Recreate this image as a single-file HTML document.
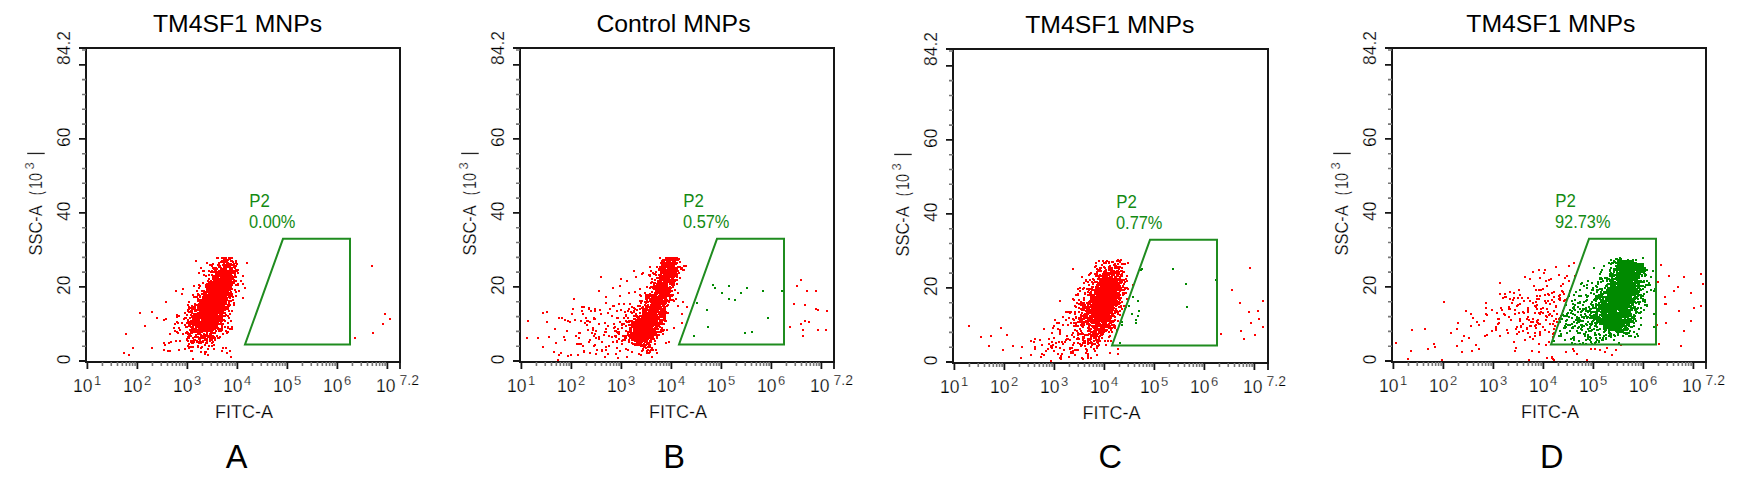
<!DOCTYPE html>
<html><head><meta charset="utf-8"><style>
html,body{margin:0;padding:0;background:#fff;}
body{width:1764px;height:496px;overflow:hidden;}
svg{display:block;font-family:"Liberation Sans", sans-serif;}
.sm text{stroke:#fff;stroke-width:0.25;}
</style></head><body>
<svg width="1764" height="496" viewBox="0 0 1764 496" fill="#000">
<rect x="86" y="48" width="314" height="314" fill="none" stroke="#161616" stroke-width="2"/>
<path d="M79 361.00H86M79 286.97H86M79 212.93H86M79 138.90H86M79 64.86H86M79 48H86M87.40 362V369M137.40 362V369M187.40 362V369M237.40 362V369M287.40 362V369M337.40 362V369M387.40 362V369M400 362V369" stroke="#161616" stroke-width="1.8" fill="none"/>
<path d="M82 346.19H86M82 331.39H86M82 316.58H86M82 301.77H86M82 272.16H86M82 257.35H86M82 242.55H86M82 227.74H86M82 198.13H86M82 183.32H86M82 168.51H86M82 153.70H86M82 124.09H86M82 109.28H86M82 94.48H86M82 79.67H86M82 50.06H86M102.45 362V366M111.26 362V366M117.50 362V366M122.35 362V366M126.31 362V366M129.65 362V366M132.55 362V366M135.11 362V366M152.45 362V366M161.26 362V366M167.50 362V366M172.35 362V366M176.31 362V366M179.65 362V366M182.55 362V366M185.11 362V366M202.45 362V366M211.26 362V366M217.50 362V366M222.35 362V366M226.31 362V366M229.65 362V366M232.55 362V366M235.11 362V366M252.45 362V366M261.26 362V366M267.50 362V366M272.35 362V366M276.31 362V366M279.65 362V366M282.55 362V366M285.11 362V366M302.45 362V366M311.26 362V366M317.50 362V366M322.35 362V366M326.31 362V366M329.65 362V366M332.55 362V366M335.11 362V366M352.45 362V366M361.26 362V366M367.50 362V366M372.35 362V366M376.31 362V366M379.65 362V366M382.55 362V366M385.11 362V366" stroke="#777" stroke-width="1.6" fill="none"/>
<g class="sm"><text x="73.10" y="392" font-size="17.5">10</text><text x="94.00" y="385.3" font-size="13">1</text>
<text x="123.10" y="392" font-size="17.5">10</text><text x="144.00" y="385.3" font-size="13">2</text>
<text x="173.10" y="392" font-size="17.5">10</text><text x="194.00" y="385.3" font-size="13">3</text>
<text x="223.10" y="392" font-size="17.5">10</text><text x="244.00" y="385.3" font-size="13">4</text>
<text x="273.10" y="392" font-size="17.5">10</text><text x="294.00" y="385.3" font-size="13">5</text>
<text x="323.10" y="392" font-size="17.5">10</text><text x="344.00" y="385.3" font-size="13">6</text>
<text x="376.10" y="392" font-size="17.5">10</text><text x="399.50" y="385.3" font-size="14">7.2</text></g>
<g class="sm"><text transform="translate(70,359.30) rotate(-90)" text-anchor="middle" font-size="17.5">0</text>
<text transform="translate(70,285.27) rotate(-90)" text-anchor="middle" font-size="17.5">20</text>
<text transform="translate(70,211.23) rotate(-90)" text-anchor="middle" font-size="17.5">40</text>
<text transform="translate(70,137.20) rotate(-90)" text-anchor="middle" font-size="17.5">60</text>
<text transform="translate(70,48.00) rotate(-90)" text-anchor="middle" font-size="17.5">84.2</text></g>
<g class="sm"><text x="244.0" y="418.2" text-anchor="middle" font-size="18">FITC-A</text></g>
<g class="sm" transform="translate(41.5,255.4) rotate(-90)"><text x="0" y="0" font-size="18" textLength="50" lengthAdjust="spacingAndGlyphs">SSC-A</text><text x="60.5" y="0" font-size="18" textLength="3.5" lengthAdjust="spacingAndGlyphs">(</text><text x="66.5" y="0" font-size="18" textLength="16" lengthAdjust="spacingAndGlyphs">10</text><text x="86" y="-7.3" font-size="13">3</text><rect x="101.3" y="-14.3" width="1.3" height="17.5" fill="#222"/></g>
<text x="237.5" y="32" text-anchor="middle" font-size="24.75">TM4SF1 MNPs</text>
<text x="236.6" y="467.5" text-anchor="middle" font-size="32.5">A</text>
<path d="M216 257h2v2h-2zM217 257h2v2h-2zM221 257h2v2h-2zM223 257h2v2h-2zM225 257h2v2h-2zM228 257h2v2h-2zM229 257h2v2h-2zM231 257h2v2h-2zM223 258h2v2h-2zM229 258h2v2h-2zM223 259h2v2h-2zM224 259h2v2h-2zM226 259h2v2h-2zM227 259h2v2h-2zM195 260h2v2h-2zM221 260h2v2h-2zM230 260h2v2h-2zM231 260h2v2h-2zM235 260h2v2h-2zM220 261h2v2h-2zM221 261h2v2h-2zM223 261h2v2h-2zM225 261h2v2h-2zM226 261h2v2h-2zM232 261h2v2h-2zM206 262h2v2h-2zM218 262h2v2h-2zM226 262h2v2h-2zM227 262h2v2h-2zM235 262h2v2h-2zM246 262h2v2h-2zM212 263h2v2h-2zM218 263h2v2h-2zM223 263h2v2h-2zM228 263h2v2h-2zM230 263h2v2h-2zM233 263h2v2h-2zM236 263h2v2h-2zM209 264h2v2h-2zM211 264h2v2h-2zM217 264h2v2h-2zM222 264h2v2h-2zM223 264h2v2h-2zM225 264h2v2h-2zM226 264h2v2h-2zM227 264h2v2h-2zM228 264h2v2h-2zM229 264h2v2h-2zM231 264h2v2h-2zM211 265h2v2h-2zM219 265h2v2h-2zM224 265h2v2h-2zM225 265h2v2h-2zM226 265h2v2h-2zM227 265h2v2h-2zM229 265h2v2h-2zM233 265h2v2h-2zM234 265h2v2h-2zM235 265h2v2h-2zM371 265h2v2h-2zM218 266h2v2h-2zM223 266h2v2h-2zM226 266h2v2h-2zM227 266h2v2h-2zM228 266h2v2h-2zM229 266h2v2h-2zM233 266h2v2h-2zM200 267h2v2h-2zM212 267h2v2h-2zM214 267h2v2h-2zM215 267h2v2h-2zM220 267h2v2h-2zM223 267h2v2h-2zM224 267h2v2h-2zM230 267h2v2h-2zM231 267h2v2h-2zM234 267h2v2h-2zM213 268h2v2h-2zM215 268h2v2h-2zM216 268h2v2h-2zM221 268h2v2h-2zM222 268h2v2h-2zM223 268h2v2h-2zM225 268h2v2h-2zM229 268h2v2h-2zM230 268h2v2h-2zM231 268h2v2h-2zM220 269h2v2h-2zM221 269h2v2h-2zM222 269h2v2h-2zM223 269h2v2h-2zM224 269h2v2h-2zM225 269h2v2h-2zM229 269h2v2h-2zM230 269h2v2h-2zM231 269h2v2h-2zM235 269h2v2h-2zM237 269h2v2h-2zM202 270h2v2h-2zM203 270h2v2h-2zM208 270h2v2h-2zM211 270h2v2h-2zM214 270h2v2h-2zM215 270h2v2h-2zM218 270h2v2h-2zM220 270h2v2h-2zM221 270h2v2h-2zM223 270h2v2h-2zM224 270h2v2h-2zM225 270h2v2h-2zM226 270h2v2h-2zM227 270h2v2h-2zM229 270h2v2h-2zM230 270h2v2h-2zM233 270h2v2h-2zM235 270h2v2h-2zM236 270h2v2h-2zM210 271h2v2h-2zM212 271h2v2h-2zM213 271h2v2h-2zM214 271h2v2h-2zM216 271h2v2h-2zM217 271h2v2h-2zM219 271h2v2h-2zM220 271h2v2h-2zM221 271h2v2h-2zM222 271h2v2h-2zM223 271h2v2h-2zM224 271h2v2h-2zM225 271h2v2h-2zM226 271h2v2h-2zM227 271h2v2h-2zM229 271h2v2h-2zM232 271h2v2h-2zM233 271h2v2h-2zM198 272h2v2h-2zM216 272h2v2h-2zM217 272h2v2h-2zM221 272h2v2h-2zM223 272h2v2h-2zM224 272h2v2h-2zM225 272h2v2h-2zM226 272h2v2h-2zM228 272h2v2h-2zM229 272h2v2h-2zM230 272h2v2h-2zM232 272h2v2h-2zM234 272h2v2h-2zM237 272h2v2h-2zM215 273h2v2h-2zM217 273h2v2h-2zM218 273h2v2h-2zM219 273h2v2h-2zM220 273h2v2h-2zM221 273h2v2h-2zM222 273h2v2h-2zM223 273h2v2h-2zM224 273h2v2h-2zM226 273h2v2h-2zM227 273h2v2h-2zM228 273h2v2h-2zM229 273h2v2h-2zM230 273h2v2h-2zM234 273h2v2h-2zM203 274h2v2h-2zM208 274h2v2h-2zM211 274h2v2h-2zM217 274h2v2h-2zM218 274h2v2h-2zM219 274h2v2h-2zM221 274h2v2h-2zM222 274h2v2h-2zM223 274h2v2h-2zM225 274h2v2h-2zM226 274h2v2h-2zM229 274h2v2h-2zM230 274h2v2h-2zM205 275h2v2h-2zM212 275h2v2h-2zM214 275h2v2h-2zM216 275h2v2h-2zM217 275h2v2h-2zM218 275h2v2h-2zM219 275h2v2h-2zM220 275h2v2h-2zM221 275h2v2h-2zM222 275h2v2h-2zM223 275h2v2h-2zM224 275h2v2h-2zM226 275h2v2h-2zM227 275h2v2h-2zM230 275h2v2h-2zM231 275h2v2h-2zM234 275h2v2h-2zM242 275h2v2h-2zM212 276h2v2h-2zM213 276h2v2h-2zM216 276h2v2h-2zM217 276h2v2h-2zM220 276h2v2h-2zM221 276h2v2h-2zM222 276h2v2h-2zM227 276h2v2h-2zM228 276h2v2h-2zM230 276h2v2h-2zM233 276h2v2h-2zM235 276h2v2h-2zM213 277h2v2h-2zM214 277h2v2h-2zM215 277h2v2h-2zM220 277h2v2h-2zM222 277h2v2h-2zM223 277h2v2h-2zM224 277h2v2h-2zM226 277h2v2h-2zM227 277h2v2h-2zM228 277h2v2h-2zM231 277h2v2h-2zM232 277h2v2h-2zM208 278h2v2h-2zM212 278h2v2h-2zM214 278h2v2h-2zM215 278h2v2h-2zM216 278h2v2h-2zM218 278h2v2h-2zM219 278h2v2h-2zM221 278h2v2h-2zM222 278h2v2h-2zM224 278h2v2h-2zM225 278h2v2h-2zM226 278h2v2h-2zM228 278h2v2h-2zM229 278h2v2h-2zM231 278h2v2h-2zM216 279h2v2h-2zM217 279h2v2h-2zM218 279h2v2h-2zM219 279h2v2h-2zM220 279h2v2h-2zM221 279h2v2h-2zM222 279h2v2h-2zM223 279h2v2h-2zM226 279h2v2h-2zM228 279h2v2h-2zM229 279h2v2h-2zM230 279h2v2h-2zM233 279h2v2h-2zM207 280h2v2h-2zM210 280h2v2h-2zM213 280h2v2h-2zM215 280h2v2h-2zM216 280h2v2h-2zM218 280h2v2h-2zM219 280h2v2h-2zM220 280h2v2h-2zM222 280h2v2h-2zM223 280h2v2h-2zM224 280h2v2h-2zM225 280h2v2h-2zM227 280h2v2h-2zM234 280h2v2h-2zM235 280h2v2h-2zM240 280h2v2h-2zM209 281h2v2h-2zM210 281h2v2h-2zM211 281h2v2h-2zM212 281h2v2h-2zM214 281h2v2h-2zM215 281h2v2h-2zM216 281h2v2h-2zM217 281h2v2h-2zM218 281h2v2h-2zM219 281h2v2h-2zM222 281h2v2h-2zM223 281h2v2h-2zM224 281h2v2h-2zM225 281h2v2h-2zM226 281h2v2h-2zM227 281h2v2h-2zM229 281h2v2h-2zM230 281h2v2h-2zM232 281h2v2h-2zM202 282h2v2h-2zM208 282h2v2h-2zM209 282h2v2h-2zM210 282h2v2h-2zM211 282h2v2h-2zM213 282h2v2h-2zM214 282h2v2h-2zM215 282h2v2h-2zM217 282h2v2h-2zM218 282h2v2h-2zM219 282h2v2h-2zM220 282h2v2h-2zM221 282h2v2h-2zM222 282h2v2h-2zM225 282h2v2h-2zM227 282h2v2h-2zM230 282h2v2h-2zM232 282h2v2h-2zM233 282h2v2h-2zM206 283h2v2h-2zM215 283h2v2h-2zM216 283h2v2h-2zM217 283h2v2h-2zM219 283h2v2h-2zM221 283h2v2h-2zM222 283h2v2h-2zM223 283h2v2h-2zM224 283h2v2h-2zM225 283h2v2h-2zM226 283h2v2h-2zM227 283h2v2h-2zM228 283h2v2h-2zM229 283h2v2h-2zM237 283h2v2h-2zM242 283h2v2h-2zM198 284h2v2h-2zM205 284h2v2h-2zM207 284h2v2h-2zM209 284h2v2h-2zM210 284h2v2h-2zM212 284h2v2h-2zM214 284h2v2h-2zM216 284h2v2h-2zM217 284h2v2h-2zM218 284h2v2h-2zM219 284h2v2h-2zM220 284h2v2h-2zM221 284h2v2h-2zM222 284h2v2h-2zM223 284h2v2h-2zM224 284h2v2h-2zM225 284h2v2h-2zM226 284h2v2h-2zM227 284h2v2h-2zM228 284h2v2h-2zM229 284h2v2h-2zM231 284h2v2h-2zM235 284h2v2h-2zM237 284h2v2h-2zM193 285h2v2h-2zM199 285h2v2h-2zM208 285h2v2h-2zM211 285h2v2h-2zM212 285h2v2h-2zM213 285h2v2h-2zM214 285h2v2h-2zM215 285h2v2h-2zM216 285h2v2h-2zM217 285h2v2h-2zM218 285h2v2h-2zM219 285h2v2h-2zM220 285h2v2h-2zM221 285h2v2h-2zM222 285h2v2h-2zM223 285h2v2h-2zM225 285h2v2h-2zM226 285h2v2h-2zM227 285h2v2h-2zM228 285h2v2h-2zM229 285h2v2h-2zM205 286h2v2h-2zM207 286h2v2h-2zM208 286h2v2h-2zM209 286h2v2h-2zM212 286h2v2h-2zM213 286h2v2h-2zM214 286h2v2h-2zM215 286h2v2h-2zM216 286h2v2h-2zM217 286h2v2h-2zM218 286h2v2h-2zM219 286h2v2h-2zM220 286h2v2h-2zM221 286h2v2h-2zM222 286h2v2h-2zM223 286h2v2h-2zM224 286h2v2h-2zM225 286h2v2h-2zM227 286h2v2h-2zM230 286h2v2h-2zM198 287h2v2h-2zM208 287h2v2h-2zM209 287h2v2h-2zM210 287h2v2h-2zM211 287h2v2h-2zM212 287h2v2h-2zM213 287h2v2h-2zM214 287h2v2h-2zM215 287h2v2h-2zM216 287h2v2h-2zM217 287h2v2h-2zM218 287h2v2h-2zM220 287h2v2h-2zM221 287h2v2h-2zM222 287h2v2h-2zM223 287h2v2h-2zM224 287h2v2h-2zM226 287h2v2h-2zM227 287h2v2h-2zM228 287h2v2h-2zM230 287h2v2h-2zM244 287h2v2h-2zM182 288h2v2h-2zM206 288h2v2h-2zM207 288h2v2h-2zM210 288h2v2h-2zM211 288h2v2h-2zM212 288h2v2h-2zM214 288h2v2h-2zM215 288h2v2h-2zM216 288h2v2h-2zM217 288h2v2h-2zM218 288h2v2h-2zM219 288h2v2h-2zM220 288h2v2h-2zM221 288h2v2h-2zM222 288h2v2h-2zM224 288h2v2h-2zM225 288h2v2h-2zM226 288h2v2h-2zM227 288h2v2h-2zM229 288h2v2h-2zM231 288h2v2h-2zM206 289h2v2h-2zM208 289h2v2h-2zM209 289h2v2h-2zM210 289h2v2h-2zM211 289h2v2h-2zM212 289h2v2h-2zM214 289h2v2h-2zM215 289h2v2h-2zM216 289h2v2h-2zM217 289h2v2h-2zM218 289h2v2h-2zM219 289h2v2h-2zM220 289h2v2h-2zM221 289h2v2h-2zM222 289h2v2h-2zM223 289h2v2h-2zM224 289h2v2h-2zM225 289h2v2h-2zM226 289h2v2h-2zM228 289h2v2h-2zM229 289h2v2h-2zM234 289h2v2h-2zM175 290h2v2h-2zM196 290h2v2h-2zM201 290h2v2h-2zM203 290h2v2h-2zM207 290h2v2h-2zM208 290h2v2h-2zM210 290h2v2h-2zM213 290h2v2h-2zM214 290h2v2h-2zM215 290h2v2h-2zM216 290h2v2h-2zM217 290h2v2h-2zM218 290h2v2h-2zM219 290h2v2h-2zM220 290h2v2h-2zM221 290h2v2h-2zM222 290h2v2h-2zM223 290h2v2h-2zM224 290h2v2h-2zM225 290h2v2h-2zM226 290h2v2h-2zM227 290h2v2h-2zM238 290h2v2h-2zM203 291h2v2h-2zM204 291h2v2h-2zM206 291h2v2h-2zM207 291h2v2h-2zM208 291h2v2h-2zM209 291h2v2h-2zM211 291h2v2h-2zM212 291h2v2h-2zM213 291h2v2h-2zM214 291h2v2h-2zM215 291h2v2h-2zM216 291h2v2h-2zM217 291h2v2h-2zM218 291h2v2h-2zM219 291h2v2h-2zM220 291h2v2h-2zM221 291h2v2h-2zM222 291h2v2h-2zM225 291h2v2h-2zM226 291h2v2h-2zM227 291h2v2h-2zM230 291h2v2h-2zM235 291h2v2h-2zM205 292h2v2h-2zM208 292h2v2h-2zM209 292h2v2h-2zM211 292h2v2h-2zM212 292h2v2h-2zM214 292h2v2h-2zM215 292h2v2h-2zM216 292h2v2h-2zM217 292h2v2h-2zM219 292h2v2h-2zM221 292h2v2h-2zM222 292h2v2h-2zM223 292h2v2h-2zM224 292h2v2h-2zM226 292h2v2h-2zM227 292h2v2h-2zM229 292h2v2h-2zM181 293h2v2h-2zM197 293h2v2h-2zM201 293h2v2h-2zM202 293h2v2h-2zM204 293h2v2h-2zM205 293h2v2h-2zM209 293h2v2h-2zM211 293h2v2h-2zM212 293h2v2h-2zM214 293h2v2h-2zM215 293h2v2h-2zM216 293h2v2h-2zM217 293h2v2h-2zM218 293h2v2h-2zM219 293h2v2h-2zM220 293h2v2h-2zM221 293h2v2h-2zM222 293h2v2h-2zM223 293h2v2h-2zM224 293h2v2h-2zM225 293h2v2h-2zM226 293h2v2h-2zM227 293h2v2h-2zM231 293h2v2h-2zM192 294h2v2h-2zM197 294h2v2h-2zM198 294h2v2h-2zM203 294h2v2h-2zM204 294h2v2h-2zM205 294h2v2h-2zM206 294h2v2h-2zM208 294h2v2h-2zM209 294h2v2h-2zM210 294h2v2h-2zM211 294h2v2h-2zM212 294h2v2h-2zM213 294h2v2h-2zM214 294h2v2h-2zM215 294h2v2h-2zM217 294h2v2h-2zM218 294h2v2h-2zM219 294h2v2h-2zM220 294h2v2h-2zM221 294h2v2h-2zM222 294h2v2h-2zM223 294h2v2h-2zM224 294h2v2h-2zM225 294h2v2h-2zM226 294h2v2h-2zM228 294h2v2h-2zM229 294h2v2h-2zM230 294h2v2h-2zM231 294h2v2h-2zM199 295h2v2h-2zM203 295h2v2h-2zM204 295h2v2h-2zM206 295h2v2h-2zM207 295h2v2h-2zM208 295h2v2h-2zM210 295h2v2h-2zM211 295h2v2h-2zM212 295h2v2h-2zM213 295h2v2h-2zM214 295h2v2h-2zM215 295h2v2h-2zM216 295h2v2h-2zM218 295h2v2h-2zM219 295h2v2h-2zM220 295h2v2h-2zM221 295h2v2h-2zM222 295h2v2h-2zM223 295h2v2h-2zM225 295h2v2h-2zM228 295h2v2h-2zM229 295h2v2h-2zM231 295h2v2h-2zM235 295h2v2h-2zM193 296h2v2h-2zM195 296h2v2h-2zM196 296h2v2h-2zM199 296h2v2h-2zM202 296h2v2h-2zM205 296h2v2h-2zM206 296h2v2h-2zM207 296h2v2h-2zM208 296h2v2h-2zM209 296h2v2h-2zM210 296h2v2h-2zM211 296h2v2h-2zM213 296h2v2h-2zM214 296h2v2h-2zM215 296h2v2h-2zM216 296h2v2h-2zM217 296h2v2h-2zM218 296h2v2h-2zM219 296h2v2h-2zM220 296h2v2h-2zM221 296h2v2h-2zM222 296h2v2h-2zM223 296h2v2h-2zM224 296h2v2h-2zM225 296h2v2h-2zM228 296h2v2h-2zM232 296h2v2h-2zM204 297h2v2h-2zM207 297h2v2h-2zM208 297h2v2h-2zM209 297h2v2h-2zM210 297h2v2h-2zM211 297h2v2h-2zM212 297h2v2h-2zM213 297h2v2h-2zM214 297h2v2h-2zM215 297h2v2h-2zM216 297h2v2h-2zM217 297h2v2h-2zM219 297h2v2h-2zM222 297h2v2h-2zM223 297h2v2h-2zM224 297h2v2h-2zM226 297h2v2h-2zM229 297h2v2h-2zM242 297h2v2h-2zM197 298h2v2h-2zM202 298h2v2h-2zM204 298h2v2h-2zM205 298h2v2h-2zM206 298h2v2h-2zM207 298h2v2h-2zM209 298h2v2h-2zM210 298h2v2h-2zM211 298h2v2h-2zM212 298h2v2h-2zM213 298h2v2h-2zM214 298h2v2h-2zM216 298h2v2h-2zM217 298h2v2h-2zM218 298h2v2h-2zM220 298h2v2h-2zM221 298h2v2h-2zM222 298h2v2h-2zM223 298h2v2h-2zM224 298h2v2h-2zM225 298h2v2h-2zM226 298h2v2h-2zM198 299h2v2h-2zM200 299h2v2h-2zM201 299h2v2h-2zM203 299h2v2h-2zM205 299h2v2h-2zM207 299h2v2h-2zM208 299h2v2h-2zM209 299h2v2h-2zM211 299h2v2h-2zM212 299h2v2h-2zM213 299h2v2h-2zM214 299h2v2h-2zM215 299h2v2h-2zM216 299h2v2h-2zM217 299h2v2h-2zM218 299h2v2h-2zM219 299h2v2h-2zM220 299h2v2h-2zM221 299h2v2h-2zM222 299h2v2h-2zM223 299h2v2h-2zM224 299h2v2h-2zM225 299h2v2h-2zM226 299h2v2h-2zM232 299h2v2h-2zM197 300h2v2h-2zM201 300h2v2h-2zM205 300h2v2h-2zM206 300h2v2h-2zM207 300h2v2h-2zM208 300h2v2h-2zM209 300h2v2h-2zM210 300h2v2h-2zM211 300h2v2h-2zM212 300h2v2h-2zM213 300h2v2h-2zM214 300h2v2h-2zM215 300h2v2h-2zM216 300h2v2h-2zM217 300h2v2h-2zM218 300h2v2h-2zM219 300h2v2h-2zM220 300h2v2h-2zM221 300h2v2h-2zM222 300h2v2h-2zM223 300h2v2h-2zM224 300h2v2h-2zM225 300h2v2h-2zM228 300h2v2h-2zM230 300h2v2h-2zM165 301h2v2h-2zM188 301h2v2h-2zM199 301h2v2h-2zM201 301h2v2h-2zM202 301h2v2h-2zM203 301h2v2h-2zM205 301h2v2h-2zM207 301h2v2h-2zM208 301h2v2h-2zM210 301h2v2h-2zM211 301h2v2h-2zM212 301h2v2h-2zM213 301h2v2h-2zM214 301h2v2h-2zM215 301h2v2h-2zM217 301h2v2h-2zM218 301h2v2h-2zM219 301h2v2h-2zM220 301h2v2h-2zM221 301h2v2h-2zM224 301h2v2h-2zM225 301h2v2h-2zM199 302h2v2h-2zM201 302h2v2h-2zM204 302h2v2h-2zM205 302h2v2h-2zM206 302h2v2h-2zM207 302h2v2h-2zM208 302h2v2h-2zM209 302h2v2h-2zM210 302h2v2h-2zM211 302h2v2h-2zM212 302h2v2h-2zM213 302h2v2h-2zM214 302h2v2h-2zM215 302h2v2h-2zM216 302h2v2h-2zM218 302h2v2h-2zM219 302h2v2h-2zM220 302h2v2h-2zM222 302h2v2h-2zM224 302h2v2h-2zM225 302h2v2h-2zM228 302h2v2h-2zM233 302h2v2h-2zM194 303h2v2h-2zM198 303h2v2h-2zM200 303h2v2h-2zM202 303h2v2h-2zM203 303h2v2h-2zM204 303h2v2h-2zM208 303h2v2h-2zM209 303h2v2h-2zM210 303h2v2h-2zM211 303h2v2h-2zM212 303h2v2h-2zM213 303h2v2h-2zM214 303h2v2h-2zM215 303h2v2h-2zM216 303h2v2h-2zM217 303h2v2h-2zM218 303h2v2h-2zM219 303h2v2h-2zM220 303h2v2h-2zM221 303h2v2h-2zM222 303h2v2h-2zM224 303h2v2h-2zM225 303h2v2h-2zM187 304h2v2h-2zM195 304h2v2h-2zM197 304h2v2h-2zM199 304h2v2h-2zM200 304h2v2h-2zM203 304h2v2h-2zM204 304h2v2h-2zM205 304h2v2h-2zM206 304h2v2h-2zM207 304h2v2h-2zM208 304h2v2h-2zM209 304h2v2h-2zM210 304h2v2h-2zM211 304h2v2h-2zM212 304h2v2h-2zM213 304h2v2h-2zM214 304h2v2h-2zM215 304h2v2h-2zM216 304h2v2h-2zM217 304h2v2h-2zM218 304h2v2h-2zM219 304h2v2h-2zM220 304h2v2h-2zM221 304h2v2h-2zM227 304h2v2h-2zM229 304h2v2h-2zM233 304h2v2h-2zM191 305h2v2h-2zM194 305h2v2h-2zM197 305h2v2h-2zM202 305h2v2h-2zM203 305h2v2h-2zM204 305h2v2h-2zM206 305h2v2h-2zM208 305h2v2h-2zM209 305h2v2h-2zM211 305h2v2h-2zM213 305h2v2h-2zM214 305h2v2h-2zM215 305h2v2h-2zM216 305h2v2h-2zM217 305h2v2h-2zM219 305h2v2h-2zM220 305h2v2h-2zM221 305h2v2h-2zM222 305h2v2h-2zM223 305h2v2h-2zM228 305h2v2h-2zM188 306h2v2h-2zM192 306h2v2h-2zM197 306h2v2h-2zM199 306h2v2h-2zM201 306h2v2h-2zM202 306h2v2h-2zM203 306h2v2h-2zM204 306h2v2h-2zM205 306h2v2h-2zM206 306h2v2h-2zM209 306h2v2h-2zM210 306h2v2h-2zM211 306h2v2h-2zM212 306h2v2h-2zM213 306h2v2h-2zM214 306h2v2h-2zM215 306h2v2h-2zM216 306h2v2h-2zM217 306h2v2h-2zM218 306h2v2h-2zM219 306h2v2h-2zM220 306h2v2h-2zM221 306h2v2h-2zM222 306h2v2h-2zM223 306h2v2h-2zM224 306h2v2h-2zM225 306h2v2h-2zM226 306h2v2h-2zM227 306h2v2h-2zM189 307h2v2h-2zM190 307h2v2h-2zM191 307h2v2h-2zM194 307h2v2h-2zM199 307h2v2h-2zM202 307h2v2h-2zM203 307h2v2h-2zM204 307h2v2h-2zM205 307h2v2h-2zM206 307h2v2h-2zM208 307h2v2h-2zM209 307h2v2h-2zM210 307h2v2h-2zM211 307h2v2h-2zM212 307h2v2h-2zM213 307h2v2h-2zM214 307h2v2h-2zM215 307h2v2h-2zM216 307h2v2h-2zM217 307h2v2h-2zM218 307h2v2h-2zM219 307h2v2h-2zM220 307h2v2h-2zM221 307h2v2h-2zM222 307h2v2h-2zM224 307h2v2h-2zM188 308h2v2h-2zM192 308h2v2h-2zM194 308h2v2h-2zM197 308h2v2h-2zM200 308h2v2h-2zM201 308h2v2h-2zM203 308h2v2h-2zM204 308h2v2h-2zM205 308h2v2h-2zM206 308h2v2h-2zM207 308h2v2h-2zM208 308h2v2h-2zM209 308h2v2h-2zM210 308h2v2h-2zM211 308h2v2h-2zM212 308h2v2h-2zM213 308h2v2h-2zM214 308h2v2h-2zM215 308h2v2h-2zM216 308h2v2h-2zM217 308h2v2h-2zM218 308h2v2h-2zM219 308h2v2h-2zM221 308h2v2h-2zM225 308h2v2h-2zM227 308h2v2h-2zM187 309h2v2h-2zM191 309h2v2h-2zM194 309h2v2h-2zM195 309h2v2h-2zM197 309h2v2h-2zM198 309h2v2h-2zM199 309h2v2h-2zM200 309h2v2h-2zM201 309h2v2h-2zM202 309h2v2h-2zM203 309h2v2h-2zM204 309h2v2h-2zM205 309h2v2h-2zM206 309h2v2h-2zM207 309h2v2h-2zM208 309h2v2h-2zM209 309h2v2h-2zM210 309h2v2h-2zM211 309h2v2h-2zM212 309h2v2h-2zM213 309h2v2h-2zM214 309h2v2h-2zM215 309h2v2h-2zM216 309h2v2h-2zM217 309h2v2h-2zM218 309h2v2h-2zM219 309h2v2h-2zM221 309h2v2h-2zM222 309h2v2h-2zM223 309h2v2h-2zM224 309h2v2h-2zM187 310h2v2h-2zM190 310h2v2h-2zM194 310h2v2h-2zM195 310h2v2h-2zM199 310h2v2h-2zM200 310h2v2h-2zM201 310h2v2h-2zM202 310h2v2h-2zM203 310h2v2h-2zM204 310h2v2h-2zM205 310h2v2h-2zM206 310h2v2h-2zM207 310h2v2h-2zM208 310h2v2h-2zM210 310h2v2h-2zM211 310h2v2h-2zM212 310h2v2h-2zM213 310h2v2h-2zM214 310h2v2h-2zM215 310h2v2h-2zM216 310h2v2h-2zM217 310h2v2h-2zM218 310h2v2h-2zM222 310h2v2h-2zM228 310h2v2h-2zM231 310h2v2h-2zM151 311h2v2h-2zM188 311h2v2h-2zM190 311h2v2h-2zM191 311h2v2h-2zM200 311h2v2h-2zM202 311h2v2h-2zM203 311h2v2h-2zM205 311h2v2h-2zM206 311h2v2h-2zM207 311h2v2h-2zM208 311h2v2h-2zM209 311h2v2h-2zM210 311h2v2h-2zM211 311h2v2h-2zM212 311h2v2h-2zM213 311h2v2h-2zM214 311h2v2h-2zM215 311h2v2h-2zM216 311h2v2h-2zM217 311h2v2h-2zM218 311h2v2h-2zM219 311h2v2h-2zM220 311h2v2h-2zM221 311h2v2h-2zM139 312h2v2h-2zM184 312h2v2h-2zM191 312h2v2h-2zM197 312h2v2h-2zM198 312h2v2h-2zM199 312h2v2h-2zM200 312h2v2h-2zM201 312h2v2h-2zM203 312h2v2h-2zM204 312h2v2h-2zM205 312h2v2h-2zM206 312h2v2h-2zM207 312h2v2h-2zM208 312h2v2h-2zM209 312h2v2h-2zM210 312h2v2h-2zM211 312h2v2h-2zM212 312h2v2h-2zM213 312h2v2h-2zM214 312h2v2h-2zM215 312h2v2h-2zM217 312h2v2h-2zM219 312h2v2h-2zM221 312h2v2h-2zM222 312h2v2h-2zM224 312h2v2h-2zM193 313h2v2h-2zM194 313h2v2h-2zM195 313h2v2h-2zM196 313h2v2h-2zM198 313h2v2h-2zM199 313h2v2h-2zM200 313h2v2h-2zM201 313h2v2h-2zM202 313h2v2h-2zM203 313h2v2h-2zM205 313h2v2h-2zM208 313h2v2h-2zM209 313h2v2h-2zM210 313h2v2h-2zM211 313h2v2h-2zM212 313h2v2h-2zM213 313h2v2h-2zM214 313h2v2h-2zM215 313h2v2h-2zM216 313h2v2h-2zM219 313h2v2h-2zM221 313h2v2h-2zM229 313h2v2h-2zM384 313h2v2h-2zM176 314h2v2h-2zM186 314h2v2h-2zM190 314h2v2h-2zM194 314h2v2h-2zM196 314h2v2h-2zM197 314h2v2h-2zM198 314h2v2h-2zM199 314h2v2h-2zM200 314h2v2h-2zM201 314h2v2h-2zM203 314h2v2h-2zM204 314h2v2h-2zM205 314h2v2h-2zM206 314h2v2h-2zM207 314h2v2h-2zM208 314h2v2h-2zM209 314h2v2h-2zM210 314h2v2h-2zM212 314h2v2h-2zM213 314h2v2h-2zM214 314h2v2h-2zM215 314h2v2h-2zM219 314h2v2h-2zM220 314h2v2h-2zM221 314h2v2h-2zM225 314h2v2h-2zM178 315h2v2h-2zM192 315h2v2h-2zM194 315h2v2h-2zM195 315h2v2h-2zM196 315h2v2h-2zM197 315h2v2h-2zM199 315h2v2h-2zM200 315h2v2h-2zM201 315h2v2h-2zM205 315h2v2h-2zM206 315h2v2h-2zM207 315h2v2h-2zM208 315h2v2h-2zM211 315h2v2h-2zM212 315h2v2h-2zM213 315h2v2h-2zM214 315h2v2h-2zM215 315h2v2h-2zM217 315h2v2h-2zM218 315h2v2h-2zM219 315h2v2h-2zM220 315h2v2h-2zM222 315h2v2h-2zM224 315h2v2h-2zM227 315h2v2h-2zM176 316h2v2h-2zM191 316h2v2h-2zM193 316h2v2h-2zM194 316h2v2h-2zM196 316h2v2h-2zM197 316h2v2h-2zM200 316h2v2h-2zM201 316h2v2h-2zM203 316h2v2h-2zM204 316h2v2h-2zM205 316h2v2h-2zM206 316h2v2h-2zM207 316h2v2h-2zM208 316h2v2h-2zM209 316h2v2h-2zM210 316h2v2h-2zM211 316h2v2h-2zM212 316h2v2h-2zM213 316h2v2h-2zM214 316h2v2h-2zM215 316h2v2h-2zM216 316h2v2h-2zM217 316h2v2h-2zM219 316h2v2h-2zM220 316h2v2h-2zM221 316h2v2h-2zM156 317h2v2h-2zM184 317h2v2h-2zM185 317h2v2h-2zM189 317h2v2h-2zM193 317h2v2h-2zM194 317h2v2h-2zM195 317h2v2h-2zM196 317h2v2h-2zM197 317h2v2h-2zM199 317h2v2h-2zM202 317h2v2h-2zM203 317h2v2h-2zM206 317h2v2h-2zM208 317h2v2h-2zM209 317h2v2h-2zM210 317h2v2h-2zM211 317h2v2h-2zM212 317h2v2h-2zM213 317h2v2h-2zM216 317h2v2h-2zM217 317h2v2h-2zM228 317h2v2h-2zM165 318h2v2h-2zM183 318h2v2h-2zM192 318h2v2h-2zM193 318h2v2h-2zM194 318h2v2h-2zM195 318h2v2h-2zM198 318h2v2h-2zM201 318h2v2h-2zM205 318h2v2h-2zM206 318h2v2h-2zM208 318h2v2h-2zM210 318h2v2h-2zM211 318h2v2h-2zM212 318h2v2h-2zM213 318h2v2h-2zM214 318h2v2h-2zM215 318h2v2h-2zM216 318h2v2h-2zM218 318h2v2h-2zM219 318h2v2h-2zM220 318h2v2h-2zM221 318h2v2h-2zM389 318h2v2h-2zM163 319h2v2h-2zM187 319h2v2h-2zM192 319h2v2h-2zM195 319h2v2h-2zM196 319h2v2h-2zM198 319h2v2h-2zM202 319h2v2h-2zM203 319h2v2h-2zM204 319h2v2h-2zM205 319h2v2h-2zM206 319h2v2h-2zM208 319h2v2h-2zM209 319h2v2h-2zM211 319h2v2h-2zM212 319h2v2h-2zM213 319h2v2h-2zM214 319h2v2h-2zM215 319h2v2h-2zM216 319h2v2h-2zM218 319h2v2h-2zM223 319h2v2h-2zM187 320h2v2h-2zM190 320h2v2h-2zM192 320h2v2h-2zM193 320h2v2h-2zM194 320h2v2h-2zM195 320h2v2h-2zM197 320h2v2h-2zM201 320h2v2h-2zM203 320h2v2h-2zM204 320h2v2h-2zM205 320h2v2h-2zM206 320h2v2h-2zM207 320h2v2h-2zM208 320h2v2h-2zM209 320h2v2h-2zM210 320h2v2h-2zM211 320h2v2h-2zM212 320h2v2h-2zM215 320h2v2h-2zM218 320h2v2h-2zM219 320h2v2h-2zM221 320h2v2h-2zM224 320h2v2h-2zM230 320h2v2h-2zM176 321h2v2h-2zM189 321h2v2h-2zM193 321h2v2h-2zM194 321h2v2h-2zM195 321h2v2h-2zM198 321h2v2h-2zM199 321h2v2h-2zM200 321h2v2h-2zM201 321h2v2h-2zM202 321h2v2h-2zM203 321h2v2h-2zM205 321h2v2h-2zM206 321h2v2h-2zM207 321h2v2h-2zM208 321h2v2h-2zM209 321h2v2h-2zM210 321h2v2h-2zM211 321h2v2h-2zM212 321h2v2h-2zM213 321h2v2h-2zM216 321h2v2h-2zM177 322h2v2h-2zM181 322h2v2h-2zM186 322h2v2h-2zM187 322h2v2h-2zM188 322h2v2h-2zM189 322h2v2h-2zM190 322h2v2h-2zM192 322h2v2h-2zM193 322h2v2h-2zM194 322h2v2h-2zM197 322h2v2h-2zM201 322h2v2h-2zM202 322h2v2h-2zM203 322h2v2h-2zM204 322h2v2h-2zM205 322h2v2h-2zM207 322h2v2h-2zM208 322h2v2h-2zM209 322h2v2h-2zM210 322h2v2h-2zM211 322h2v2h-2zM212 322h2v2h-2zM213 322h2v2h-2zM215 322h2v2h-2zM216 322h2v2h-2zM217 322h2v2h-2zM220 322h2v2h-2zM227 322h2v2h-2zM174 323h2v2h-2zM188 323h2v2h-2zM190 323h2v2h-2zM191 323h2v2h-2zM192 323h2v2h-2zM194 323h2v2h-2zM195 323h2v2h-2zM196 323h2v2h-2zM198 323h2v2h-2zM199 323h2v2h-2zM200 323h2v2h-2zM201 323h2v2h-2zM202 323h2v2h-2zM204 323h2v2h-2zM205 323h2v2h-2zM206 323h2v2h-2zM207 323h2v2h-2zM208 323h2v2h-2zM209 323h2v2h-2zM210 323h2v2h-2zM211 323h2v2h-2zM212 323h2v2h-2zM215 323h2v2h-2zM217 323h2v2h-2zM218 323h2v2h-2zM220 323h2v2h-2zM222 323h2v2h-2zM382 323h2v2h-2zM184 324h2v2h-2zM189 324h2v2h-2zM193 324h2v2h-2zM194 324h2v2h-2zM195 324h2v2h-2zM196 324h2v2h-2zM197 324h2v2h-2zM198 324h2v2h-2zM199 324h2v2h-2zM200 324h2v2h-2zM201 324h2v2h-2zM202 324h2v2h-2zM203 324h2v2h-2zM206 324h2v2h-2zM207 324h2v2h-2zM209 324h2v2h-2zM210 324h2v2h-2zM213 324h2v2h-2zM214 324h2v2h-2zM216 324h2v2h-2zM144 325h2v2h-2zM188 325h2v2h-2zM192 325h2v2h-2zM198 325h2v2h-2zM199 325h2v2h-2zM200 325h2v2h-2zM201 325h2v2h-2zM202 325h2v2h-2zM203 325h2v2h-2zM205 325h2v2h-2zM206 325h2v2h-2zM207 325h2v2h-2zM208 325h2v2h-2zM209 325h2v2h-2zM210 325h2v2h-2zM212 325h2v2h-2zM213 325h2v2h-2zM214 325h2v2h-2zM215 325h2v2h-2zM216 325h2v2h-2zM221 325h2v2h-2zM185 326h2v2h-2zM186 326h2v2h-2zM190 326h2v2h-2zM195 326h2v2h-2zM196 326h2v2h-2zM197 326h2v2h-2zM199 326h2v2h-2zM202 326h2v2h-2zM204 326h2v2h-2zM205 326h2v2h-2zM206 326h2v2h-2zM209 326h2v2h-2zM211 326h2v2h-2zM212 326h2v2h-2zM213 326h2v2h-2zM214 326h2v2h-2zM221 326h2v2h-2zM224 326h2v2h-2zM227 326h2v2h-2zM231 326h2v2h-2zM173 327h2v2h-2zM178 327h2v2h-2zM191 327h2v2h-2zM192 327h2v2h-2zM195 327h2v2h-2zM199 327h2v2h-2zM200 327h2v2h-2zM201 327h2v2h-2zM202 327h2v2h-2zM203 327h2v2h-2zM205 327h2v2h-2zM206 327h2v2h-2zM207 327h2v2h-2zM208 327h2v2h-2zM210 327h2v2h-2zM212 327h2v2h-2zM213 327h2v2h-2zM214 327h2v2h-2zM215 327h2v2h-2zM217 327h2v2h-2zM221 327h2v2h-2zM227 327h2v2h-2zM193 328h2v2h-2zM195 328h2v2h-2zM198 328h2v2h-2zM199 328h2v2h-2zM200 328h2v2h-2zM202 328h2v2h-2zM204 328h2v2h-2zM206 328h2v2h-2zM207 328h2v2h-2zM208 328h2v2h-2zM210 328h2v2h-2zM212 328h2v2h-2zM213 328h2v2h-2zM214 328h2v2h-2zM217 328h2v2h-2zM218 328h2v2h-2zM219 328h2v2h-2zM229 328h2v2h-2zM231 328h2v2h-2zM179 329h2v2h-2zM189 329h2v2h-2zM190 329h2v2h-2zM192 329h2v2h-2zM193 329h2v2h-2zM197 329h2v2h-2zM199 329h2v2h-2zM201 329h2v2h-2zM202 329h2v2h-2zM203 329h2v2h-2zM204 329h2v2h-2zM207 329h2v2h-2zM208 329h2v2h-2zM209 329h2v2h-2zM211 329h2v2h-2zM212 329h2v2h-2zM219 329h2v2h-2zM221 329h2v2h-2zM174 330h2v2h-2zM190 330h2v2h-2zM191 330h2v2h-2zM192 330h2v2h-2zM195 330h2v2h-2zM198 330h2v2h-2zM200 330h2v2h-2zM201 330h2v2h-2zM202 330h2v2h-2zM204 330h2v2h-2zM205 330h2v2h-2zM206 330h2v2h-2zM207 330h2v2h-2zM208 330h2v2h-2zM209 330h2v2h-2zM210 330h2v2h-2zM211 330h2v2h-2zM215 330h2v2h-2zM218 330h2v2h-2zM220 330h2v2h-2zM225 330h2v2h-2zM176 331h2v2h-2zM186 331h2v2h-2zM190 331h2v2h-2zM193 331h2v2h-2zM195 331h2v2h-2zM196 331h2v2h-2zM198 331h2v2h-2zM200 331h2v2h-2zM201 331h2v2h-2zM206 331h2v2h-2zM210 331h2v2h-2zM211 331h2v2h-2zM227 331h2v2h-2zM177 332h2v2h-2zM185 332h2v2h-2zM187 332h2v2h-2zM190 332h2v2h-2zM191 332h2v2h-2zM206 332h2v2h-2zM210 332h2v2h-2zM212 332h2v2h-2zM214 332h2v2h-2zM226 332h2v2h-2zM372 332h2v2h-2zM125 333h2v2h-2zM169 333h2v2h-2zM182 333h2v2h-2zM187 333h2v2h-2zM189 333h2v2h-2zM197 333h2v2h-2zM199 333h2v2h-2zM203 333h2v2h-2zM206 333h2v2h-2zM209 333h2v2h-2zM210 333h2v2h-2zM222 333h2v2h-2zM195 334h2v2h-2zM200 334h2v2h-2zM203 334h2v2h-2zM204 334h2v2h-2zM205 334h2v2h-2zM209 334h2v2h-2zM210 334h2v2h-2zM188 335h2v2h-2zM190 335h2v2h-2zM200 335h2v2h-2zM202 335h2v2h-2zM203 335h2v2h-2zM204 335h2v2h-2zM206 335h2v2h-2zM207 335h2v2h-2zM208 335h2v2h-2zM210 335h2v2h-2zM211 335h2v2h-2zM212 335h2v2h-2zM216 335h2v2h-2zM187 336h2v2h-2zM194 336h2v2h-2zM196 336h2v2h-2zM197 336h2v2h-2zM202 336h2v2h-2zM204 336h2v2h-2zM207 336h2v2h-2zM209 336h2v2h-2zM212 336h2v2h-2zM213 336h2v2h-2zM219 336h2v2h-2zM188 337h2v2h-2zM192 337h2v2h-2zM199 337h2v2h-2zM200 337h2v2h-2zM201 337h2v2h-2zM202 337h2v2h-2zM203 337h2v2h-2zM209 337h2v2h-2zM211 337h2v2h-2zM212 337h2v2h-2zM213 337h2v2h-2zM214 337h2v2h-2zM217 337h2v2h-2zM218 337h2v2h-2zM354 337h2v2h-2zM186 338h2v2h-2zM198 338h2v2h-2zM205 338h2v2h-2zM206 338h2v2h-2zM209 338h2v2h-2zM211 338h2v2h-2zM186 339h2v2h-2zM193 339h2v2h-2zM194 339h2v2h-2zM199 339h2v2h-2zM204 339h2v2h-2zM205 339h2v2h-2zM209 339h2v2h-2zM211 339h2v2h-2zM214 339h2v2h-2zM175 340h2v2h-2zM179 340h2v2h-2zM187 340h2v2h-2zM190 340h2v2h-2zM191 340h2v2h-2zM196 340h2v2h-2zM202 340h2v2h-2zM206 340h2v2h-2zM209 340h2v2h-2zM170 341h2v2h-2zM190 341h2v2h-2zM191 341h2v2h-2zM193 341h2v2h-2zM196 341h2v2h-2zM197 341h2v2h-2zM198 341h2v2h-2zM200 341h2v2h-2zM202 341h2v2h-2zM212 341h2v2h-2zM163 342h2v2h-2zM168 342h2v2h-2zM191 342h2v2h-2zM192 342h2v2h-2zM198 342h2v2h-2zM200 342h2v2h-2zM205 342h2v2h-2zM206 342h2v2h-2zM211 342h2v2h-2zM188 343h2v2h-2zM164 344h2v2h-2zM204 344h2v2h-2zM213 344h2v2h-2zM187 345h2v2h-2zM197 345h2v2h-2zM208 345h2v2h-2zM211 345h2v2h-2zM189 346h2v2h-2zM191 346h2v2h-2zM192 346h2v2h-2zM197 346h2v2h-2zM201 346h2v2h-2zM132 347h2v2h-2zM151 347h2v2h-2zM188 347h2v2h-2zM200 347h2v2h-2zM222 347h2v2h-2zM225 347h2v2h-2zM184 348h2v2h-2zM207 348h2v2h-2zM213 348h2v2h-2zM163 349h2v2h-2zM178 349h2v2h-2zM167 350h2v2h-2zM169 350h2v2h-2zM190 350h2v2h-2zM191 350h2v2h-2zM221 350h2v2h-2zM229 350h2v2h-2zM200 351h2v2h-2zM204 351h2v2h-2zM205 351h2v2h-2zM123 352h2v2h-2zM226 352h2v2h-2zM204 353h2v2h-2zM128 354h2v2h-2zM207 354h2v2h-2zM230 356h2v2h-2zM192 358h2v2h-2z" fill="#ff0000"/>
<path d="" fill="#008a00"/>
<polygon points="283.0,238.8 350.0,238.8 350.0,344.5 245.0,344.5" fill="none" stroke="#1f8c1f" stroke-width="2"/>
<text x="249.2" y="207.3" font-size="18" fill="#138a13" textLength="20.6" lengthAdjust="spacingAndGlyphs">P2</text>
<text x="249" y="227.6" font-size="18" fill="#138a13" textLength="46.44" lengthAdjust="spacingAndGlyphs">0.00%</text>
<rect x="520" y="48" width="314" height="314" fill="none" stroke="#161616" stroke-width="2"/>
<path d="M513 361.00H520M513 286.97H520M513 212.93H520M513 138.90H520M513 64.86H520M513 48H520M521.40 362V369M571.40 362V369M621.40 362V369M671.40 362V369M721.40 362V369M771.40 362V369M821.40 362V369M834 362V369" stroke="#161616" stroke-width="1.8" fill="none"/>
<path d="M516 346.19H520M516 331.39H520M516 316.58H520M516 301.77H520M516 272.16H520M516 257.35H520M516 242.55H520M516 227.74H520M516 198.13H520M516 183.32H520M516 168.51H520M516 153.70H520M516 124.09H520M516 109.28H520M516 94.48H520M516 79.67H520M516 50.06H520M536.45 362V366M545.26 362V366M551.50 362V366M556.35 362V366M560.31 362V366M563.65 362V366M566.55 362V366M569.11 362V366M586.45 362V366M595.26 362V366M601.50 362V366M606.35 362V366M610.31 362V366M613.65 362V366M616.55 362V366M619.11 362V366M636.45 362V366M645.26 362V366M651.50 362V366M656.35 362V366M660.31 362V366M663.65 362V366M666.55 362V366M669.11 362V366M686.45 362V366M695.26 362V366M701.50 362V366M706.35 362V366M710.31 362V366M713.65 362V366M716.55 362V366M719.11 362V366M736.45 362V366M745.26 362V366M751.50 362V366M756.35 362V366M760.31 362V366M763.65 362V366M766.55 362V366M769.11 362V366M786.45 362V366M795.26 362V366M801.50 362V366M806.35 362V366M810.31 362V366M813.65 362V366M816.55 362V366M819.11 362V366" stroke="#777" stroke-width="1.6" fill="none"/>
<g class="sm"><text x="507.10" y="392" font-size="17.5">10</text><text x="528.00" y="385.3" font-size="13">1</text>
<text x="557.10" y="392" font-size="17.5">10</text><text x="578.00" y="385.3" font-size="13">2</text>
<text x="607.10" y="392" font-size="17.5">10</text><text x="628.00" y="385.3" font-size="13">3</text>
<text x="657.10" y="392" font-size="17.5">10</text><text x="678.00" y="385.3" font-size="13">4</text>
<text x="707.10" y="392" font-size="17.5">10</text><text x="728.00" y="385.3" font-size="13">5</text>
<text x="757.10" y="392" font-size="17.5">10</text><text x="778.00" y="385.3" font-size="13">6</text>
<text x="810.10" y="392" font-size="17.5">10</text><text x="833.50" y="385.3" font-size="14">7.2</text></g>
<g class="sm"><text transform="translate(504,359.30) rotate(-90)" text-anchor="middle" font-size="17.5">0</text>
<text transform="translate(504,285.27) rotate(-90)" text-anchor="middle" font-size="17.5">20</text>
<text transform="translate(504,211.23) rotate(-90)" text-anchor="middle" font-size="17.5">40</text>
<text transform="translate(504,137.20) rotate(-90)" text-anchor="middle" font-size="17.5">60</text>
<text transform="translate(504,48.00) rotate(-90)" text-anchor="middle" font-size="17.5">84.2</text></g>
<g class="sm"><text x="678.0" y="418.2" text-anchor="middle" font-size="18">FITC-A</text></g>
<g class="sm" transform="translate(475.5,255.4) rotate(-90)"><text x="0" y="0" font-size="18" textLength="50" lengthAdjust="spacingAndGlyphs">SSC-A</text><text x="60.5" y="0" font-size="18" textLength="3.5" lengthAdjust="spacingAndGlyphs">(</text><text x="66.5" y="0" font-size="18" textLength="16" lengthAdjust="spacingAndGlyphs">10</text><text x="86" y="-7.3" font-size="13">3</text><rect x="101.3" y="-14.3" width="1.3" height="17.5" fill="#222"/></g>
<text x="673.5" y="32" text-anchor="middle" font-size="24.75">Control MNPs</text>
<text x="674.2" y="467.5" text-anchor="middle" font-size="32.5">B</text>
<path d="M659 257h2v2h-2zM665 257h2v2h-2zM667 257h2v2h-2zM669 257h2v2h-2zM670 257h2v2h-2zM672 257h2v2h-2zM673 257h2v2h-2zM674 257h2v2h-2zM676 257h2v2h-2zM665 258h2v2h-2zM666 258h2v2h-2zM669 258h2v2h-2zM671 258h2v2h-2zM672 258h2v2h-2zM673 258h2v2h-2zM674 258h2v2h-2zM675 258h2v2h-2zM678 258h2v2h-2zM662 259h2v2h-2zM663 259h2v2h-2zM665 259h2v2h-2zM668 259h2v2h-2zM670 259h2v2h-2zM671 259h2v2h-2zM674 259h2v2h-2zM676 259h2v2h-2zM677 259h2v2h-2zM661 260h2v2h-2zM663 260h2v2h-2zM666 260h2v2h-2zM668 260h2v2h-2zM669 260h2v2h-2zM672 260h2v2h-2zM662 261h2v2h-2zM667 261h2v2h-2zM668 261h2v2h-2zM669 261h2v2h-2zM674 261h2v2h-2zM679 261h2v2h-2zM660 262h2v2h-2zM664 262h2v2h-2zM666 262h2v2h-2zM670 262h2v2h-2zM671 262h2v2h-2zM672 262h2v2h-2zM674 262h2v2h-2zM675 262h2v2h-2zM676 262h2v2h-2zM661 263h2v2h-2zM663 263h2v2h-2zM664 263h2v2h-2zM666 263h2v2h-2zM667 263h2v2h-2zM668 263h2v2h-2zM669 263h2v2h-2zM670 263h2v2h-2zM672 263h2v2h-2zM674 263h2v2h-2zM675 263h2v2h-2zM661 264h2v2h-2zM663 264h2v2h-2zM664 264h2v2h-2zM667 264h2v2h-2zM668 264h2v2h-2zM669 264h2v2h-2zM670 264h2v2h-2zM671 264h2v2h-2zM673 264h2v2h-2zM662 265h2v2h-2zM663 265h2v2h-2zM665 265h2v2h-2zM666 265h2v2h-2zM667 265h2v2h-2zM668 265h2v2h-2zM670 265h2v2h-2zM671 265h2v2h-2zM672 265h2v2h-2zM673 265h2v2h-2zM683 265h2v2h-2zM685 265h2v2h-2zM649 266h2v2h-2zM656 266h2v2h-2zM659 266h2v2h-2zM660 266h2v2h-2zM662 266h2v2h-2zM664 266h2v2h-2zM666 266h2v2h-2zM667 266h2v2h-2zM668 266h2v2h-2zM669 266h2v2h-2zM670 266h2v2h-2zM671 266h2v2h-2zM673 266h2v2h-2zM677 266h2v2h-2zM679 266h2v2h-2zM661 267h2v2h-2zM662 267h2v2h-2zM664 267h2v2h-2zM667 267h2v2h-2zM668 267h2v2h-2zM669 267h2v2h-2zM671 267h2v2h-2zM672 267h2v2h-2zM674 267h2v2h-2zM675 267h2v2h-2zM676 267h2v2h-2zM681 267h2v2h-2zM658 268h2v2h-2zM660 268h2v2h-2zM663 268h2v2h-2zM664 268h2v2h-2zM669 268h2v2h-2zM670 268h2v2h-2zM671 268h2v2h-2zM672 268h2v2h-2zM680 268h2v2h-2zM658 269h2v2h-2zM660 269h2v2h-2zM662 269h2v2h-2zM663 269h2v2h-2zM664 269h2v2h-2zM665 269h2v2h-2zM666 269h2v2h-2zM667 269h2v2h-2zM669 269h2v2h-2zM670 269h2v2h-2zM671 269h2v2h-2zM672 269h2v2h-2zM674 269h2v2h-2zM675 269h2v2h-2zM676 269h2v2h-2zM682 269h2v2h-2zM683 269h2v2h-2zM633 270h2v2h-2zM650 270h2v2h-2zM663 270h2v2h-2zM664 270h2v2h-2zM666 270h2v2h-2zM668 270h2v2h-2zM669 270h2v2h-2zM671 270h2v2h-2zM672 270h2v2h-2zM673 270h2v2h-2zM675 270h2v2h-2zM677 270h2v2h-2zM655 271h2v2h-2zM660 271h2v2h-2zM662 271h2v2h-2zM663 271h2v2h-2zM664 271h2v2h-2zM665 271h2v2h-2zM667 271h2v2h-2zM669 271h2v2h-2zM670 271h2v2h-2zM671 271h2v2h-2zM672 271h2v2h-2zM673 271h2v2h-2zM674 271h2v2h-2zM675 271h2v2h-2zM642 272h2v2h-2zM652 272h2v2h-2zM661 272h2v2h-2zM662 272h2v2h-2zM664 272h2v2h-2zM665 272h2v2h-2zM666 272h2v2h-2zM667 272h2v2h-2zM668 272h2v2h-2zM671 272h2v2h-2zM673 272h2v2h-2zM675 272h2v2h-2zM678 272h2v2h-2zM641 273h2v2h-2zM653 273h2v2h-2zM654 273h2v2h-2zM660 273h2v2h-2zM663 273h2v2h-2zM665 273h2v2h-2zM666 273h2v2h-2zM667 273h2v2h-2zM668 273h2v2h-2zM669 273h2v2h-2zM670 273h2v2h-2zM671 273h2v2h-2zM672 273h2v2h-2zM674 273h2v2h-2zM675 273h2v2h-2zM676 273h2v2h-2zM648 274h2v2h-2zM649 274h2v2h-2zM655 274h2v2h-2zM658 274h2v2h-2zM659 274h2v2h-2zM660 274h2v2h-2zM663 274h2v2h-2zM664 274h2v2h-2zM665 274h2v2h-2zM666 274h2v2h-2zM667 274h2v2h-2zM668 274h2v2h-2zM669 274h2v2h-2zM671 274h2v2h-2zM673 274h2v2h-2zM675 274h2v2h-2zM676 274h2v2h-2zM649 275h2v2h-2zM659 275h2v2h-2zM660 275h2v2h-2zM661 275h2v2h-2zM663 275h2v2h-2zM665 275h2v2h-2zM666 275h2v2h-2zM667 275h2v2h-2zM668 275h2v2h-2zM669 275h2v2h-2zM672 275h2v2h-2zM675 275h2v2h-2zM600 276h2v2h-2zM635 276h2v2h-2zM659 276h2v2h-2zM660 276h2v2h-2zM663 276h2v2h-2zM665 276h2v2h-2zM666 276h2v2h-2zM667 276h2v2h-2zM668 276h2v2h-2zM669 276h2v2h-2zM671 276h2v2h-2zM672 276h2v2h-2zM673 276h2v2h-2zM676 276h2v2h-2zM656 277h2v2h-2zM658 277h2v2h-2zM659 277h2v2h-2zM660 277h2v2h-2zM661 277h2v2h-2zM662 277h2v2h-2zM663 277h2v2h-2zM664 277h2v2h-2zM666 277h2v2h-2zM667 277h2v2h-2zM668 277h2v2h-2zM671 277h2v2h-2zM679 277h2v2h-2zM620 278h2v2h-2zM651 278h2v2h-2zM659 278h2v2h-2zM660 278h2v2h-2zM662 278h2v2h-2zM664 278h2v2h-2zM665 278h2v2h-2zM666 278h2v2h-2zM667 278h2v2h-2zM672 278h2v2h-2zM654 279h2v2h-2zM660 279h2v2h-2zM661 279h2v2h-2zM663 279h2v2h-2zM665 279h2v2h-2zM666 279h2v2h-2zM667 279h2v2h-2zM669 279h2v2h-2zM670 279h2v2h-2zM671 279h2v2h-2zM672 279h2v2h-2zM673 279h2v2h-2zM675 279h2v2h-2zM676 279h2v2h-2zM800 279h2v2h-2zM626 280h2v2h-2zM657 280h2v2h-2zM658 280h2v2h-2zM659 280h2v2h-2zM660 280h2v2h-2zM663 280h2v2h-2zM664 280h2v2h-2zM665 280h2v2h-2zM666 280h2v2h-2zM667 280h2v2h-2zM669 280h2v2h-2zM671 280h2v2h-2zM674 280h2v2h-2zM651 281h2v2h-2zM657 281h2v2h-2zM658 281h2v2h-2zM660 281h2v2h-2zM663 281h2v2h-2zM664 281h2v2h-2zM665 281h2v2h-2zM666 281h2v2h-2zM667 281h2v2h-2zM668 281h2v2h-2zM671 281h2v2h-2zM672 281h2v2h-2zM650 282h2v2h-2zM653 282h2v2h-2zM654 282h2v2h-2zM657 282h2v2h-2zM658 282h2v2h-2zM660 282h2v2h-2zM661 282h2v2h-2zM662 282h2v2h-2zM663 282h2v2h-2zM664 282h2v2h-2zM665 282h2v2h-2zM669 282h2v2h-2zM671 282h2v2h-2zM672 282h2v2h-2zM673 282h2v2h-2zM656 283h2v2h-2zM657 283h2v2h-2zM658 283h2v2h-2zM659 283h2v2h-2zM660 283h2v2h-2zM661 283h2v2h-2zM662 283h2v2h-2zM664 283h2v2h-2zM666 283h2v2h-2zM669 283h2v2h-2zM670 283h2v2h-2zM671 283h2v2h-2zM676 283h2v2h-2zM653 284h2v2h-2zM656 284h2v2h-2zM657 284h2v2h-2zM658 284h2v2h-2zM660 284h2v2h-2zM661 284h2v2h-2zM664 284h2v2h-2zM665 284h2v2h-2zM666 284h2v2h-2zM671 284h2v2h-2zM673 284h2v2h-2zM619 285h2v2h-2zM653 285h2v2h-2zM655 285h2v2h-2zM656 285h2v2h-2zM658 285h2v2h-2zM659 285h2v2h-2zM661 285h2v2h-2zM662 285h2v2h-2zM663 285h2v2h-2zM664 285h2v2h-2zM666 285h2v2h-2zM796 285h2v2h-2zM646 286h2v2h-2zM650 286h2v2h-2zM652 286h2v2h-2zM658 286h2v2h-2zM661 286h2v2h-2zM662 286h2v2h-2zM665 286h2v2h-2zM669 286h2v2h-2zM672 286h2v2h-2zM612 287h2v2h-2zM649 287h2v2h-2zM652 287h2v2h-2zM653 287h2v2h-2zM655 287h2v2h-2zM657 287h2v2h-2zM660 287h2v2h-2zM661 287h2v2h-2zM662 287h2v2h-2zM664 287h2v2h-2zM665 287h2v2h-2zM666 287h2v2h-2zM668 287h2v2h-2zM670 287h2v2h-2zM639 288h2v2h-2zM653 288h2v2h-2zM654 288h2v2h-2zM655 288h2v2h-2zM657 288h2v2h-2zM658 288h2v2h-2zM659 288h2v2h-2zM660 288h2v2h-2zM661 288h2v2h-2zM663 288h2v2h-2zM664 288h2v2h-2zM665 288h2v2h-2zM666 288h2v2h-2zM668 288h2v2h-2zM669 288h2v2h-2zM655 289h2v2h-2zM657 289h2v2h-2zM658 289h2v2h-2zM659 289h2v2h-2zM660 289h2v2h-2zM661 289h2v2h-2zM662 289h2v2h-2zM663 289h2v2h-2zM664 289h2v2h-2zM665 289h2v2h-2zM667 289h2v2h-2zM668 289h2v2h-2zM674 289h2v2h-2zM598 290h2v2h-2zM655 290h2v2h-2zM657 290h2v2h-2zM658 290h2v2h-2zM659 290h2v2h-2zM660 290h2v2h-2zM661 290h2v2h-2zM662 290h2v2h-2zM663 290h2v2h-2zM664 290h2v2h-2zM667 290h2v2h-2zM668 290h2v2h-2zM669 290h2v2h-2zM671 290h2v2h-2zM806 290h2v2h-2zM815 290h2v2h-2zM634 291h2v2h-2zM651 291h2v2h-2zM656 291h2v2h-2zM658 291h2v2h-2zM660 291h2v2h-2zM662 291h2v2h-2zM663 291h2v2h-2zM664 291h2v2h-2zM665 291h2v2h-2zM667 291h2v2h-2zM669 291h2v2h-2zM628 292h2v2h-2zM644 292h2v2h-2zM654 292h2v2h-2zM656 292h2v2h-2zM657 292h2v2h-2zM658 292h2v2h-2zM659 292h2v2h-2zM660 292h2v2h-2zM661 292h2v2h-2zM662 292h2v2h-2zM663 292h2v2h-2zM665 292h2v2h-2zM666 292h2v2h-2zM668 292h2v2h-2zM677 292h2v2h-2zM649 293h2v2h-2zM654 293h2v2h-2zM656 293h2v2h-2zM660 293h2v2h-2zM661 293h2v2h-2zM662 293h2v2h-2zM666 293h2v2h-2zM668 293h2v2h-2zM639 294h2v2h-2zM645 294h2v2h-2zM647 294h2v2h-2zM651 294h2v2h-2zM652 294h2v2h-2zM653 294h2v2h-2zM655 294h2v2h-2zM659 294h2v2h-2zM660 294h2v2h-2zM661 294h2v2h-2zM662 294h2v2h-2zM664 294h2v2h-2zM666 294h2v2h-2zM670 294h2v2h-2zM672 294h2v2h-2zM619 295h2v2h-2zM640 295h2v2h-2zM647 295h2v2h-2zM648 295h2v2h-2zM650 295h2v2h-2zM651 295h2v2h-2zM652 295h2v2h-2zM653 295h2v2h-2zM654 295h2v2h-2zM658 295h2v2h-2zM661 295h2v2h-2zM662 295h2v2h-2zM663 295h2v2h-2zM664 295h2v2h-2zM665 295h2v2h-2zM666 295h2v2h-2zM667 295h2v2h-2zM669 295h2v2h-2zM671 295h2v2h-2zM605 296h2v2h-2zM645 296h2v2h-2zM646 296h2v2h-2zM648 296h2v2h-2zM651 296h2v2h-2zM652 296h2v2h-2zM654 296h2v2h-2zM655 296h2v2h-2zM656 296h2v2h-2zM658 296h2v2h-2zM659 296h2v2h-2zM665 296h2v2h-2zM647 297h2v2h-2zM652 297h2v2h-2zM653 297h2v2h-2zM654 297h2v2h-2zM656 297h2v2h-2zM657 297h2v2h-2zM658 297h2v2h-2zM660 297h2v2h-2zM661 297h2v2h-2zM662 297h2v2h-2zM663 297h2v2h-2zM665 297h2v2h-2zM669 297h2v2h-2zM573 298h2v2h-2zM645 298h2v2h-2zM649 298h2v2h-2zM650 298h2v2h-2zM651 298h2v2h-2zM652 298h2v2h-2zM654 298h2v2h-2zM655 298h2v2h-2zM657 298h2v2h-2zM659 298h2v2h-2zM660 298h2v2h-2zM665 298h2v2h-2zM669 298h2v2h-2zM675 298h2v2h-2zM646 299h2v2h-2zM649 299h2v2h-2zM651 299h2v2h-2zM652 299h2v2h-2zM653 299h2v2h-2zM654 299h2v2h-2zM656 299h2v2h-2zM658 299h2v2h-2zM659 299h2v2h-2zM661 299h2v2h-2zM664 299h2v2h-2zM666 299h2v2h-2zM670 299h2v2h-2zM672 299h2v2h-2zM639 300h2v2h-2zM641 300h2v2h-2zM646 300h2v2h-2zM649 300h2v2h-2zM652 300h2v2h-2zM653 300h2v2h-2zM654 300h2v2h-2zM655 300h2v2h-2zM656 300h2v2h-2zM657 300h2v2h-2zM658 300h2v2h-2zM659 300h2v2h-2zM662 300h2v2h-2zM663 300h2v2h-2zM665 300h2v2h-2zM666 300h2v2h-2zM668 300h2v2h-2zM673 300h2v2h-2zM644 301h2v2h-2zM645 301h2v2h-2zM647 301h2v2h-2zM650 301h2v2h-2zM651 301h2v2h-2zM652 301h2v2h-2zM653 301h2v2h-2zM654 301h2v2h-2zM655 301h2v2h-2zM658 301h2v2h-2zM659 301h2v2h-2zM660 301h2v2h-2zM661 301h2v2h-2zM662 301h2v2h-2zM663 301h2v2h-2zM668 301h2v2h-2zM682 301h2v2h-2zM605 302h2v2h-2zM640 302h2v2h-2zM645 302h2v2h-2zM653 302h2v2h-2zM655 302h2v2h-2zM656 302h2v2h-2zM657 302h2v2h-2zM658 302h2v2h-2zM659 302h2v2h-2zM663 302h2v2h-2zM665 302h2v2h-2zM618 303h2v2h-2zM623 303h2v2h-2zM629 303h2v2h-2zM651 303h2v2h-2zM652 303h2v2h-2zM654 303h2v2h-2zM657 303h2v2h-2zM658 303h2v2h-2zM660 303h2v2h-2zM661 303h2v2h-2zM662 303h2v2h-2zM664 303h2v2h-2zM793 303h2v2h-2zM644 304h2v2h-2zM647 304h2v2h-2zM650 304h2v2h-2zM651 304h2v2h-2zM652 304h2v2h-2zM653 304h2v2h-2zM655 304h2v2h-2zM656 304h2v2h-2zM657 304h2v2h-2zM659 304h2v2h-2zM662 304h2v2h-2zM663 304h2v2h-2zM667 304h2v2h-2zM804 304h2v2h-2zM612 305h2v2h-2zM613 305h2v2h-2zM637 305h2v2h-2zM639 305h2v2h-2zM645 305h2v2h-2zM650 305h2v2h-2zM652 305h2v2h-2zM653 305h2v2h-2zM654 305h2v2h-2zM655 305h2v2h-2zM657 305h2v2h-2zM658 305h2v2h-2zM659 305h2v2h-2zM662 305h2v2h-2zM663 305h2v2h-2zM666 305h2v2h-2zM677 305h2v2h-2zM581 306h2v2h-2zM583 306h2v2h-2zM631 306h2v2h-2zM642 306h2v2h-2zM645 306h2v2h-2zM647 306h2v2h-2zM648 306h2v2h-2zM649 306h2v2h-2zM652 306h2v2h-2zM654 306h2v2h-2zM656 306h2v2h-2zM657 306h2v2h-2zM658 306h2v2h-2zM659 306h2v2h-2zM660 306h2v2h-2zM663 306h2v2h-2zM664 306h2v2h-2zM686 306h2v2h-2zM588 307h2v2h-2zM633 307h2v2h-2zM641 307h2v2h-2zM645 307h2v2h-2zM646 307h2v2h-2zM649 307h2v2h-2zM650 307h2v2h-2zM651 307h2v2h-2zM652 307h2v2h-2zM653 307h2v2h-2zM654 307h2v2h-2zM656 307h2v2h-2zM657 307h2v2h-2zM660 307h2v2h-2zM663 307h2v2h-2zM572 308h2v2h-2zM588 308h2v2h-2zM594 308h2v2h-2zM609 308h2v2h-2zM628 308h2v2h-2zM634 308h2v2h-2zM639 308h2v2h-2zM642 308h2v2h-2zM644 308h2v2h-2zM649 308h2v2h-2zM650 308h2v2h-2zM652 308h2v2h-2zM653 308h2v2h-2zM654 308h2v2h-2zM655 308h2v2h-2zM657 308h2v2h-2zM658 308h2v2h-2zM660 308h2v2h-2zM662 308h2v2h-2zM664 308h2v2h-2zM815 308h2v2h-2zM599 309h2v2h-2zM620 309h2v2h-2zM636 309h2v2h-2zM643 309h2v2h-2zM646 309h2v2h-2zM647 309h2v2h-2zM648 309h2v2h-2zM649 309h2v2h-2zM651 309h2v2h-2zM652 309h2v2h-2zM653 309h2v2h-2zM654 309h2v2h-2zM655 309h2v2h-2zM656 309h2v2h-2zM657 309h2v2h-2zM660 309h2v2h-2zM662 309h2v2h-2zM664 309h2v2h-2zM817 309h2v2h-2zM581 310h2v2h-2zM590 310h2v2h-2zM594 310h2v2h-2zM616 310h2v2h-2zM627 310h2v2h-2zM633 310h2v2h-2zM642 310h2v2h-2zM645 310h2v2h-2zM649 310h2v2h-2zM650 310h2v2h-2zM651 310h2v2h-2zM652 310h2v2h-2zM653 310h2v2h-2zM654 310h2v2h-2zM656 310h2v2h-2zM657 310h2v2h-2zM660 310h2v2h-2zM662 310h2v2h-2zM664 310h2v2h-2zM826 310h2v2h-2zM546 311h2v2h-2zM624 311h2v2h-2zM630 311h2v2h-2zM633 311h2v2h-2zM643 311h2v2h-2zM644 311h2v2h-2zM645 311h2v2h-2zM648 311h2v2h-2zM650 311h2v2h-2zM651 311h2v2h-2zM652 311h2v2h-2zM653 311h2v2h-2zM654 311h2v2h-2zM655 311h2v2h-2zM656 311h2v2h-2zM657 311h2v2h-2zM658 311h2v2h-2zM659 311h2v2h-2zM660 311h2v2h-2zM663 311h2v2h-2zM665 311h2v2h-2zM542 312h2v2h-2zM607 312h2v2h-2zM631 312h2v2h-2zM639 312h2v2h-2zM642 312h2v2h-2zM643 312h2v2h-2zM645 312h2v2h-2zM646 312h2v2h-2zM648 312h2v2h-2zM649 312h2v2h-2zM650 312h2v2h-2zM651 312h2v2h-2zM652 312h2v2h-2zM653 312h2v2h-2zM655 312h2v2h-2zM658 312h2v2h-2zM659 312h2v2h-2zM660 312h2v2h-2zM662 312h2v2h-2zM666 312h2v2h-2zM667 312h2v2h-2zM571 313h2v2h-2zM582 313h2v2h-2zM600 313h2v2h-2zM635 313h2v2h-2zM642 313h2v2h-2zM643 313h2v2h-2zM644 313h2v2h-2zM646 313h2v2h-2zM647 313h2v2h-2zM648 313h2v2h-2zM649 313h2v2h-2zM650 313h2v2h-2zM651 313h2v2h-2zM654 313h2v2h-2zM658 313h2v2h-2zM660 313h2v2h-2zM663 313h2v2h-2zM664 313h2v2h-2zM681 313h2v2h-2zM625 314h2v2h-2zM642 314h2v2h-2zM643 314h2v2h-2zM644 314h2v2h-2zM645 314h2v2h-2zM647 314h2v2h-2zM648 314h2v2h-2zM649 314h2v2h-2zM651 314h2v2h-2zM653 314h2v2h-2zM654 314h2v2h-2zM655 314h2v2h-2zM656 314h2v2h-2zM661 314h2v2h-2zM662 314h2v2h-2zM664 314h2v2h-2zM611 315h2v2h-2zM625 315h2v2h-2zM633 315h2v2h-2zM635 315h2v2h-2zM636 315h2v2h-2zM639 315h2v2h-2zM641 315h2v2h-2zM643 315h2v2h-2zM649 315h2v2h-2zM650 315h2v2h-2zM651 315h2v2h-2zM652 315h2v2h-2zM655 315h2v2h-2zM656 315h2v2h-2zM659 315h2v2h-2zM661 315h2v2h-2zM663 315h2v2h-2zM636 316h2v2h-2zM638 316h2v2h-2zM641 316h2v2h-2zM642 316h2v2h-2zM643 316h2v2h-2zM644 316h2v2h-2zM646 316h2v2h-2zM647 316h2v2h-2zM649 316h2v2h-2zM650 316h2v2h-2zM651 316h2v2h-2zM653 316h2v2h-2zM654 316h2v2h-2zM655 316h2v2h-2zM657 316h2v2h-2zM659 316h2v2h-2zM660 316h2v2h-2zM661 316h2v2h-2zM663 316h2v2h-2zM664 316h2v2h-2zM558 317h2v2h-2zM561 317h2v2h-2zM585 317h2v2h-2zM593 317h2v2h-2zM616 317h2v2h-2zM617 317h2v2h-2zM623 317h2v2h-2zM627 317h2v2h-2zM637 317h2v2h-2zM638 317h2v2h-2zM644 317h2v2h-2zM645 317h2v2h-2zM646 317h2v2h-2zM647 317h2v2h-2zM648 317h2v2h-2zM649 317h2v2h-2zM651 317h2v2h-2zM654 317h2v2h-2zM655 317h2v2h-2zM657 317h2v2h-2zM658 317h2v2h-2zM593 318h2v2h-2zM594 318h2v2h-2zM633 318h2v2h-2zM634 318h2v2h-2zM638 318h2v2h-2zM640 318h2v2h-2zM642 318h2v2h-2zM644 318h2v2h-2zM645 318h2v2h-2zM647 318h2v2h-2zM648 318h2v2h-2zM649 318h2v2h-2zM650 318h2v2h-2zM651 318h2v2h-2zM652 318h2v2h-2zM654 318h2v2h-2zM656 318h2v2h-2zM657 318h2v2h-2zM663 318h2v2h-2zM664 318h2v2h-2zM564 319h2v2h-2zM574 319h2v2h-2zM636 319h2v2h-2zM639 319h2v2h-2zM640 319h2v2h-2zM641 319h2v2h-2zM644 319h2v2h-2zM646 319h2v2h-2zM647 319h2v2h-2zM648 319h2v2h-2zM649 319h2v2h-2zM653 319h2v2h-2zM654 319h2v2h-2zM655 319h2v2h-2zM656 319h2v2h-2zM659 319h2v2h-2zM661 319h2v2h-2zM662 319h2v2h-2zM527 320h2v2h-2zM567 320h2v2h-2zM580 320h2v2h-2zM586 320h2v2h-2zM587 320h2v2h-2zM625 320h2v2h-2zM628 320h2v2h-2zM629 320h2v2h-2zM631 320h2v2h-2zM635 320h2v2h-2zM636 320h2v2h-2zM637 320h2v2h-2zM638 320h2v2h-2zM639 320h2v2h-2zM640 320h2v2h-2zM642 320h2v2h-2zM645 320h2v2h-2zM646 320h2v2h-2zM647 320h2v2h-2zM648 320h2v2h-2zM649 320h2v2h-2zM650 320h2v2h-2zM651 320h2v2h-2zM652 320h2v2h-2zM653 320h2v2h-2zM656 320h2v2h-2zM659 320h2v2h-2zM664 320h2v2h-2zM665 320h2v2h-2zM804 320h2v2h-2zM546 321h2v2h-2zM569 321h2v2h-2zM589 321h2v2h-2zM619 321h2v2h-2zM626 321h2v2h-2zM628 321h2v2h-2zM633 321h2v2h-2zM634 321h2v2h-2zM638 321h2v2h-2zM639 321h2v2h-2zM640 321h2v2h-2zM641 321h2v2h-2zM642 321h2v2h-2zM643 321h2v2h-2zM644 321h2v2h-2zM645 321h2v2h-2zM647 321h2v2h-2zM648 321h2v2h-2zM649 321h2v2h-2zM651 321h2v2h-2zM652 321h2v2h-2zM653 321h2v2h-2zM654 321h2v2h-2zM656 321h2v2h-2zM660 321h2v2h-2zM661 321h2v2h-2zM808 321h2v2h-2zM584 322h2v2h-2zM604 322h2v2h-2zM631 322h2v2h-2zM633 322h2v2h-2zM634 322h2v2h-2zM636 322h2v2h-2zM637 322h2v2h-2zM639 322h2v2h-2zM640 322h2v2h-2zM641 322h2v2h-2zM642 322h2v2h-2zM643 322h2v2h-2zM644 322h2v2h-2zM646 322h2v2h-2zM648 322h2v2h-2zM649 322h2v2h-2zM651 322h2v2h-2zM652 322h2v2h-2zM653 322h2v2h-2zM657 322h2v2h-2zM658 322h2v2h-2zM660 322h2v2h-2zM681 322h2v2h-2zM598 323h2v2h-2zM613 323h2v2h-2zM621 323h2v2h-2zM623 323h2v2h-2zM631 323h2v2h-2zM633 323h2v2h-2zM635 323h2v2h-2zM638 323h2v2h-2zM639 323h2v2h-2zM640 323h2v2h-2zM641 323h2v2h-2zM642 323h2v2h-2zM643 323h2v2h-2zM644 323h2v2h-2zM645 323h2v2h-2zM646 323h2v2h-2zM648 323h2v2h-2zM649 323h2v2h-2zM650 323h2v2h-2zM654 323h2v2h-2zM655 323h2v2h-2zM658 323h2v2h-2zM659 323h2v2h-2zM661 323h2v2h-2zM663 323h2v2h-2zM800 323h2v2h-2zM586 324h2v2h-2zM621 324h2v2h-2zM628 324h2v2h-2zM629 324h2v2h-2zM632 324h2v2h-2zM633 324h2v2h-2zM636 324h2v2h-2zM639 324h2v2h-2zM640 324h2v2h-2zM641 324h2v2h-2zM642 324h2v2h-2zM645 324h2v2h-2zM646 324h2v2h-2zM647 324h2v2h-2zM650 324h2v2h-2zM652 324h2v2h-2zM653 324h2v2h-2zM656 324h2v2h-2zM607 325h2v2h-2zM625 325h2v2h-2zM631 325h2v2h-2zM632 325h2v2h-2zM635 325h2v2h-2zM638 325h2v2h-2zM639 325h2v2h-2zM640 325h2v2h-2zM642 325h2v2h-2zM643 325h2v2h-2zM644 325h2v2h-2zM645 325h2v2h-2zM647 325h2v2h-2zM648 325h2v2h-2zM649 325h2v2h-2zM650 325h2v2h-2zM651 325h2v2h-2zM652 325h2v2h-2zM655 325h2v2h-2zM658 325h2v2h-2zM614 326h2v2h-2zM632 326h2v2h-2zM633 326h2v2h-2zM634 326h2v2h-2zM637 326h2v2h-2zM638 326h2v2h-2zM639 326h2v2h-2zM640 326h2v2h-2zM642 326h2v2h-2zM643 326h2v2h-2zM644 326h2v2h-2zM645 326h2v2h-2zM646 326h2v2h-2zM647 326h2v2h-2zM649 326h2v2h-2zM651 326h2v2h-2zM655 326h2v2h-2zM656 326h2v2h-2zM659 326h2v2h-2zM789 326h2v2h-2zM592 327h2v2h-2zM613 327h2v2h-2zM621 327h2v2h-2zM629 327h2v2h-2zM630 327h2v2h-2zM634 327h2v2h-2zM635 327h2v2h-2zM637 327h2v2h-2zM638 327h2v2h-2zM639 327h2v2h-2zM640 327h2v2h-2zM642 327h2v2h-2zM643 327h2v2h-2zM646 327h2v2h-2zM647 327h2v2h-2zM650 327h2v2h-2zM654 327h2v2h-2zM661 327h2v2h-2zM673 327h2v2h-2zM554 328h2v2h-2zM605 328h2v2h-2zM617 328h2v2h-2zM633 328h2v2h-2zM634 328h2v2h-2zM635 328h2v2h-2zM637 328h2v2h-2zM639 328h2v2h-2zM641 328h2v2h-2zM642 328h2v2h-2zM643 328h2v2h-2zM644 328h2v2h-2zM645 328h2v2h-2zM646 328h2v2h-2zM647 328h2v2h-2zM648 328h2v2h-2zM649 328h2v2h-2zM652 328h2v2h-2zM653 328h2v2h-2zM654 328h2v2h-2zM655 328h2v2h-2zM657 328h2v2h-2zM661 328h2v2h-2zM587 329h2v2h-2zM592 329h2v2h-2zM629 329h2v2h-2zM630 329h2v2h-2zM635 329h2v2h-2zM636 329h2v2h-2zM637 329h2v2h-2zM638 329h2v2h-2zM639 329h2v2h-2zM640 329h2v2h-2zM641 329h2v2h-2zM642 329h2v2h-2zM643 329h2v2h-2zM645 329h2v2h-2zM646 329h2v2h-2zM647 329h2v2h-2zM650 329h2v2h-2zM651 329h2v2h-2zM654 329h2v2h-2zM660 329h2v2h-2zM663 329h2v2h-2zM666 329h2v2h-2zM802 329h2v2h-2zM817 329h2v2h-2zM825 329h2v2h-2zM566 330h2v2h-2zM595 330h2v2h-2zM614 330h2v2h-2zM615 330h2v2h-2zM625 330h2v2h-2zM630 330h2v2h-2zM633 330h2v2h-2zM634 330h2v2h-2zM635 330h2v2h-2zM637 330h2v2h-2zM639 330h2v2h-2zM640 330h2v2h-2zM641 330h2v2h-2zM642 330h2v2h-2zM643 330h2v2h-2zM644 330h2v2h-2zM645 330h2v2h-2zM646 330h2v2h-2zM648 330h2v2h-2zM650 330h2v2h-2zM653 330h2v2h-2zM654 330h2v2h-2zM662 330h2v2h-2zM604 331h2v2h-2zM605 331h2v2h-2zM616 331h2v2h-2zM618 331h2v2h-2zM627 331h2v2h-2zM629 331h2v2h-2zM630 331h2v2h-2zM633 331h2v2h-2zM634 331h2v2h-2zM636 331h2v2h-2zM637 331h2v2h-2zM638 331h2v2h-2zM639 331h2v2h-2zM640 331h2v2h-2zM641 331h2v2h-2zM643 331h2v2h-2zM644 331h2v2h-2zM646 331h2v2h-2zM648 331h2v2h-2zM649 331h2v2h-2zM651 331h2v2h-2zM652 331h2v2h-2zM654 331h2v2h-2zM656 331h2v2h-2zM658 331h2v2h-2zM660 331h2v2h-2zM578 332h2v2h-2zM579 332h2v2h-2zM591 332h2v2h-2zM617 332h2v2h-2zM631 332h2v2h-2zM632 332h2v2h-2zM635 332h2v2h-2zM636 332h2v2h-2zM637 332h2v2h-2zM639 332h2v2h-2zM640 332h2v2h-2zM641 332h2v2h-2zM642 332h2v2h-2zM643 332h2v2h-2zM644 332h2v2h-2zM645 332h2v2h-2zM646 332h2v2h-2zM648 332h2v2h-2zM650 332h2v2h-2zM651 332h2v2h-2zM652 332h2v2h-2zM655 332h2v2h-2zM594 333h2v2h-2zM618 333h2v2h-2zM627 333h2v2h-2zM630 333h2v2h-2zM631 333h2v2h-2zM632 333h2v2h-2zM634 333h2v2h-2zM635 333h2v2h-2zM636 333h2v2h-2zM638 333h2v2h-2zM639 333h2v2h-2zM640 333h2v2h-2zM643 333h2v2h-2zM647 333h2v2h-2zM648 333h2v2h-2zM649 333h2v2h-2zM650 333h2v2h-2zM652 333h2v2h-2zM653 333h2v2h-2zM662 333h2v2h-2zM603 334h2v2h-2zM627 334h2v2h-2zM628 334h2v2h-2zM632 334h2v2h-2zM633 334h2v2h-2zM634 334h2v2h-2zM636 334h2v2h-2zM637 334h2v2h-2zM638 334h2v2h-2zM639 334h2v2h-2zM641 334h2v2h-2zM642 334h2v2h-2zM643 334h2v2h-2zM644 334h2v2h-2zM645 334h2v2h-2zM647 334h2v2h-2zM649 334h2v2h-2zM651 334h2v2h-2zM654 334h2v2h-2zM656 334h2v2h-2zM658 334h2v2h-2zM575 335h2v2h-2zM593 335h2v2h-2zM608 335h2v2h-2zM614 335h2v2h-2zM615 335h2v2h-2zM622 335h2v2h-2zM624 335h2v2h-2zM625 335h2v2h-2zM628 335h2v2h-2zM629 335h2v2h-2zM631 335h2v2h-2zM633 335h2v2h-2zM634 335h2v2h-2zM635 335h2v2h-2zM636 335h2v2h-2zM637 335h2v2h-2zM638 335h2v2h-2zM639 335h2v2h-2zM640 335h2v2h-2zM641 335h2v2h-2zM642 335h2v2h-2zM643 335h2v2h-2zM644 335h2v2h-2zM645 335h2v2h-2zM646 335h2v2h-2zM648 335h2v2h-2zM651 335h2v2h-2zM652 335h2v2h-2zM656 335h2v2h-2zM802 335h2v2h-2zM548 336h2v2h-2zM563 336h2v2h-2zM598 336h2v2h-2zM611 336h2v2h-2zM615 336h2v2h-2zM625 336h2v2h-2zM629 336h2v2h-2zM630 336h2v2h-2zM632 336h2v2h-2zM633 336h2v2h-2zM634 336h2v2h-2zM635 336h2v2h-2zM636 336h2v2h-2zM637 336h2v2h-2zM638 336h2v2h-2zM639 336h2v2h-2zM640 336h2v2h-2zM642 336h2v2h-2zM643 336h2v2h-2zM645 336h2v2h-2zM647 336h2v2h-2zM649 336h2v2h-2zM526 337h2v2h-2zM537 337h2v2h-2zM578 337h2v2h-2zM595 337h2v2h-2zM624 337h2v2h-2zM625 337h2v2h-2zM629 337h2v2h-2zM630 337h2v2h-2zM631 337h2v2h-2zM632 337h2v2h-2zM633 337h2v2h-2zM634 337h2v2h-2zM635 337h2v2h-2zM636 337h2v2h-2zM637 337h2v2h-2zM638 337h2v2h-2zM640 337h2v2h-2zM643 337h2v2h-2zM644 337h2v2h-2zM645 337h2v2h-2zM646 337h2v2h-2zM648 337h2v2h-2zM650 337h2v2h-2zM651 337h2v2h-2zM652 337h2v2h-2zM656 337h2v2h-2zM598 338h2v2h-2zM618 338h2v2h-2zM632 338h2v2h-2zM635 338h2v2h-2zM636 338h2v2h-2zM637 338h2v2h-2zM638 338h2v2h-2zM639 338h2v2h-2zM640 338h2v2h-2zM641 338h2v2h-2zM642 338h2v2h-2zM643 338h2v2h-2zM645 338h2v2h-2zM647 338h2v2h-2zM651 338h2v2h-2zM653 338h2v2h-2zM564 339h2v2h-2zM589 339h2v2h-2zM622 339h2v2h-2zM624 339h2v2h-2zM628 339h2v2h-2zM631 339h2v2h-2zM632 339h2v2h-2zM633 339h2v2h-2zM636 339h2v2h-2zM637 339h2v2h-2zM639 339h2v2h-2zM640 339h2v2h-2zM641 339h2v2h-2zM642 339h2v2h-2zM643 339h2v2h-2zM644 339h2v2h-2zM645 339h2v2h-2zM646 339h2v2h-2zM650 339h2v2h-2zM616 340h2v2h-2zM621 340h2v2h-2zM634 340h2v2h-2zM635 340h2v2h-2zM636 340h2v2h-2zM637 340h2v2h-2zM639 340h2v2h-2zM642 340h2v2h-2zM644 340h2v2h-2zM645 340h2v2h-2zM646 340h2v2h-2zM649 340h2v2h-2zM650 340h2v2h-2zM654 340h2v2h-2zM588 341h2v2h-2zM601 341h2v2h-2zM612 341h2v2h-2zM616 341h2v2h-2zM628 341h2v2h-2zM636 341h2v2h-2zM638 341h2v2h-2zM639 341h2v2h-2zM641 341h2v2h-2zM644 341h2v2h-2zM646 341h2v2h-2zM649 341h2v2h-2zM650 341h2v2h-2zM668 341h2v2h-2zM555 342h2v2h-2zM631 342h2v2h-2zM636 342h2v2h-2zM638 342h2v2h-2zM639 342h2v2h-2zM640 342h2v2h-2zM646 342h2v2h-2zM647 342h2v2h-2zM648 342h2v2h-2zM665 342h2v2h-2zM576 343h2v2h-2zM578 343h2v2h-2zM580 343h2v2h-2zM621 343h2v2h-2zM632 343h2v2h-2zM634 343h2v2h-2zM638 343h2v2h-2zM639 343h2v2h-2zM643 343h2v2h-2zM646 343h2v2h-2zM654 343h2v2h-2zM594 344h2v2h-2zM634 344h2v2h-2zM636 344h2v2h-2zM638 344h2v2h-2zM640 344h2v2h-2zM641 344h2v2h-2zM643 344h2v2h-2zM645 344h2v2h-2zM648 344h2v2h-2zM649 344h2v2h-2zM582 345h2v2h-2zM593 345h2v2h-2zM608 345h2v2h-2zM640 345h2v2h-2zM641 345h2v2h-2zM642 345h2v2h-2zM644 345h2v2h-2zM648 345h2v2h-2zM649 345h2v2h-2zM542 346h2v2h-2zM605 346h2v2h-2zM643 346h2v2h-2zM647 346h2v2h-2zM649 346h2v2h-2zM616 347h2v2h-2zM645 347h2v2h-2zM651 347h2v2h-2zM625 348h2v2h-2zM642 348h2v2h-2zM596 349h2v2h-2zM601 349h2v2h-2zM605 349h2v2h-2zM627 349h2v2h-2zM642 349h2v2h-2zM647 349h2v2h-2zM650 349h2v2h-2zM652 349h2v2h-2zM655 349h2v2h-2zM583 350h2v2h-2zM601 350h2v2h-2zM619 350h2v2h-2zM641 350h2v2h-2zM646 350h2v2h-2zM649 350h2v2h-2zM553 351h2v2h-2zM583 351h2v2h-2zM631 351h2v2h-2zM649 351h2v2h-2zM560 352h2v2h-2zM589 352h2v2h-2zM646 352h2v2h-2zM648 352h2v2h-2zM656 352h2v2h-2zM595 353h2v2h-2zM607 353h2v2h-2zM615 353h2v2h-2zM638 353h2v2h-2zM558 354h2v2h-2zM570 354h2v2h-2zM577 354h2v2h-2zM640 354h2v2h-2zM567 355h2v2h-2zM604 356h2v2h-2zM626 356h2v2h-2zM651 356h2v2h-2zM617 357h2v2h-2zM557 359h2v2h-2z" fill="#ff0000"/>
<path d="M712 284h2v2h-2zM728 285h2v2h-2zM714 287h2v2h-2zM746 287h2v2h-2zM762 290h2v2h-2zM781 290h2v2h-2zM721 292h2v2h-2zM740 292h2v2h-2zM728 298h2v2h-2zM734 299h2v2h-2zM696 302h2v2h-2zM706 309h2v2h-2zM767 317h2v2h-2zM707 326h2v2h-2zM751 331h2v2h-2zM744 332h2v2h-2zM693 335h2v2h-2z" fill="#008a00"/>
<polygon points="717.0,238.8 784.0,238.8 784.0,344.5 679.0,344.5" fill="none" stroke="#1f8c1f" stroke-width="2"/>
<text x="683.2" y="207.3" font-size="18" fill="#138a13" textLength="20.6" lengthAdjust="spacingAndGlyphs">P2</text>
<text x="683" y="227.6" font-size="18" fill="#138a13" textLength="46.44" lengthAdjust="spacingAndGlyphs">0.57%</text>
<rect x="953" y="49" width="315" height="314" fill="none" stroke="#161616" stroke-width="2"/>
<path d="M946 362.00H953M946 287.97H953M946 213.93H953M946 139.90H953M946 65.86H953M946 49H953M954.40 363V370M1004.40 363V370M1054.40 363V370M1104.40 363V370M1154.40 363V370M1204.40 363V370M1254.40 363V370M1268 363V370" stroke="#161616" stroke-width="1.8" fill="none"/>
<path d="M949 347.19H953M949 332.39H953M949 317.58H953M949 302.77H953M949 273.16H953M949 258.35H953M949 243.55H953M949 228.74H953M949 199.13H953M949 184.32H953M949 169.51H953M949 154.70H953M949 125.09H953M949 110.28H953M949 95.48H953M949 80.67H953M949 51.06H953M969.45 363V367M978.26 363V367M984.50 363V367M989.35 363V367M993.31 363V367M996.65 363V367M999.55 363V367M1002.11 363V367M1019.45 363V367M1028.26 363V367M1034.50 363V367M1039.35 363V367M1043.31 363V367M1046.65 363V367M1049.55 363V367M1052.11 363V367M1069.45 363V367M1078.26 363V367M1084.50 363V367M1089.35 363V367M1093.31 363V367M1096.65 363V367M1099.55 363V367M1102.11 363V367M1119.45 363V367M1128.26 363V367M1134.50 363V367M1139.35 363V367M1143.31 363V367M1146.65 363V367M1149.55 363V367M1152.11 363V367M1169.45 363V367M1178.26 363V367M1184.50 363V367M1189.35 363V367M1193.31 363V367M1196.65 363V367M1199.55 363V367M1202.11 363V367M1219.45 363V367M1228.26 363V367M1234.50 363V367M1239.35 363V367M1243.31 363V367M1246.65 363V367M1249.55 363V367M1252.11 363V367" stroke="#777" stroke-width="1.6" fill="none"/>
<g class="sm"><text x="940.10" y="393" font-size="17.5">10</text><text x="961.00" y="386.3" font-size="13">1</text>
<text x="990.10" y="393" font-size="17.5">10</text><text x="1011.00" y="386.3" font-size="13">2</text>
<text x="1040.10" y="393" font-size="17.5">10</text><text x="1061.00" y="386.3" font-size="13">3</text>
<text x="1090.10" y="393" font-size="17.5">10</text><text x="1111.00" y="386.3" font-size="13">4</text>
<text x="1140.10" y="393" font-size="17.5">10</text><text x="1161.00" y="386.3" font-size="13">5</text>
<text x="1190.10" y="393" font-size="17.5">10</text><text x="1211.00" y="386.3" font-size="13">6</text>
<text x="1243.10" y="393" font-size="17.5">10</text><text x="1266.50" y="386.3" font-size="14">7.2</text></g>
<g class="sm"><text transform="translate(937,360.30) rotate(-90)" text-anchor="middle" font-size="17.5">0</text>
<text transform="translate(937,286.27) rotate(-90)" text-anchor="middle" font-size="17.5">20</text>
<text transform="translate(937,212.23) rotate(-90)" text-anchor="middle" font-size="17.5">40</text>
<text transform="translate(937,138.20) rotate(-90)" text-anchor="middle" font-size="17.5">60</text>
<text transform="translate(937,49.00) rotate(-90)" text-anchor="middle" font-size="17.5">84.2</text></g>
<g class="sm"><text x="1111.5" y="419.2" text-anchor="middle" font-size="18">FITC-A</text></g>
<g class="sm" transform="translate(908.5,256.4) rotate(-90)"><text x="0" y="0" font-size="18" textLength="50" lengthAdjust="spacingAndGlyphs">SSC-A</text><text x="60.5" y="0" font-size="18" textLength="3.5" lengthAdjust="spacingAndGlyphs">(</text><text x="66.5" y="0" font-size="18" textLength="16" lengthAdjust="spacingAndGlyphs">10</text><text x="86" y="-7.3" font-size="13">3</text><rect x="101.3" y="-14.3" width="1.3" height="17.5" fill="#222"/></g>
<text x="1109.8" y="33" text-anchor="middle" font-size="24.75">TM4SF1 MNPs</text>
<text x="1110.2" y="467.5" text-anchor="middle" font-size="32.5">C</text>
<path d="M1117 259h2v2h-2zM1120 259h2v2h-2zM1098 260h2v2h-2zM1102 260h2v2h-2zM1106 260h2v2h-2zM1116 260h2v2h-2zM1118 260h2v2h-2zM1105 261h2v2h-2zM1108 261h2v2h-2zM1111 261h2v2h-2zM1112 261h2v2h-2zM1119 261h2v2h-2zM1095 262h2v2h-2zM1103 262h2v2h-2zM1105 262h2v2h-2zM1108 262h2v2h-2zM1127 262h2v2h-2zM1114 263h2v2h-2zM1117 263h2v2h-2zM1121 263h2v2h-2zM1123 263h2v2h-2zM1124 263h2v2h-2zM1101 264h2v2h-2zM1113 264h2v2h-2zM1095 265h2v2h-2zM1109 265h2v2h-2zM1115 265h2v2h-2zM1094 266h2v2h-2zM1103 266h2v2h-2zM1108 266h2v2h-2zM1114 266h2v2h-2zM1116 266h2v2h-2zM1117 266h2v2h-2zM1119 266h2v2h-2zM1099 267h2v2h-2zM1100 267h2v2h-2zM1104 267h2v2h-2zM1108 267h2v2h-2zM1109 267h2v2h-2zM1110 267h2v2h-2zM1111 267h2v2h-2zM1114 267h2v2h-2zM1115 267h2v2h-2zM1116 267h2v2h-2zM1118 267h2v2h-2zM1121 267h2v2h-2zM1249 267h2v2h-2zM1072 268h2v2h-2zM1096 268h2v2h-2zM1099 268h2v2h-2zM1110 268h2v2h-2zM1118 268h2v2h-2zM1097 269h2v2h-2zM1105 269h2v2h-2zM1108 269h2v2h-2zM1109 269h2v2h-2zM1110 269h2v2h-2zM1111 269h2v2h-2zM1098 270h2v2h-2zM1100 270h2v2h-2zM1104 270h2v2h-2zM1105 270h2v2h-2zM1110 270h2v2h-2zM1113 270h2v2h-2zM1116 270h2v2h-2zM1117 270h2v2h-2zM1120 270h2v2h-2zM1121 270h2v2h-2zM1096 271h2v2h-2zM1103 271h2v2h-2zM1110 271h2v2h-2zM1111 271h2v2h-2zM1113 271h2v2h-2zM1114 271h2v2h-2zM1115 271h2v2h-2zM1117 271h2v2h-2zM1118 271h2v2h-2zM1122 271h2v2h-2zM1123 271h2v2h-2zM1090 272h2v2h-2zM1104 272h2v2h-2zM1105 272h2v2h-2zM1106 272h2v2h-2zM1107 272h2v2h-2zM1108 272h2v2h-2zM1109 272h2v2h-2zM1110 272h2v2h-2zM1111 272h2v2h-2zM1113 272h2v2h-2zM1114 272h2v2h-2zM1115 272h2v2h-2zM1089 273h2v2h-2zM1094 273h2v2h-2zM1095 273h2v2h-2zM1096 273h2v2h-2zM1102 273h2v2h-2zM1106 273h2v2h-2zM1108 273h2v2h-2zM1110 273h2v2h-2zM1116 273h2v2h-2zM1118 273h2v2h-2zM1121 273h2v2h-2zM1088 274h2v2h-2zM1096 274h2v2h-2zM1099 274h2v2h-2zM1103 274h2v2h-2zM1104 274h2v2h-2zM1105 274h2v2h-2zM1106 274h2v2h-2zM1107 274h2v2h-2zM1108 274h2v2h-2zM1112 274h2v2h-2zM1113 274h2v2h-2zM1116 274h2v2h-2zM1117 274h2v2h-2zM1120 274h2v2h-2zM1095 275h2v2h-2zM1096 275h2v2h-2zM1097 275h2v2h-2zM1100 275h2v2h-2zM1101 275h2v2h-2zM1104 275h2v2h-2zM1111 275h2v2h-2zM1116 275h2v2h-2zM1117 275h2v2h-2zM1121 275h2v2h-2zM1126 275h2v2h-2zM1081 276h2v2h-2zM1098 276h2v2h-2zM1102 276h2v2h-2zM1106 276h2v2h-2zM1109 276h2v2h-2zM1110 276h2v2h-2zM1114 276h2v2h-2zM1115 276h2v2h-2zM1119 276h2v2h-2zM1098 277h2v2h-2zM1103 277h2v2h-2zM1104 277h2v2h-2zM1106 277h2v2h-2zM1107 277h2v2h-2zM1110 277h2v2h-2zM1111 277h2v2h-2zM1114 277h2v2h-2zM1115 277h2v2h-2zM1092 278h2v2h-2zM1097 278h2v2h-2zM1099 278h2v2h-2zM1100 278h2v2h-2zM1102 278h2v2h-2zM1104 278h2v2h-2zM1105 278h2v2h-2zM1107 278h2v2h-2zM1108 278h2v2h-2zM1113 278h2v2h-2zM1117 278h2v2h-2zM1118 278h2v2h-2zM1119 278h2v2h-2zM1125 278h2v2h-2zM1085 279h2v2h-2zM1089 279h2v2h-2zM1093 279h2v2h-2zM1099 279h2v2h-2zM1102 279h2v2h-2zM1107 279h2v2h-2zM1108 279h2v2h-2zM1109 279h2v2h-2zM1110 279h2v2h-2zM1111 279h2v2h-2zM1112 279h2v2h-2zM1114 279h2v2h-2zM1116 279h2v2h-2zM1117 279h2v2h-2zM1119 279h2v2h-2zM1120 279h2v2h-2zM1121 279h2v2h-2zM1123 279h2v2h-2zM1085 280h2v2h-2zM1099 280h2v2h-2zM1100 280h2v2h-2zM1103 280h2v2h-2zM1104 280h2v2h-2zM1105 280h2v2h-2zM1108 280h2v2h-2zM1109 280h2v2h-2zM1110 280h2v2h-2zM1111 280h2v2h-2zM1112 280h2v2h-2zM1115 280h2v2h-2zM1116 280h2v2h-2zM1126 280h2v2h-2zM1087 281h2v2h-2zM1091 281h2v2h-2zM1094 281h2v2h-2zM1096 281h2v2h-2zM1100 281h2v2h-2zM1102 281h2v2h-2zM1103 281h2v2h-2zM1105 281h2v2h-2zM1106 281h2v2h-2zM1107 281h2v2h-2zM1109 281h2v2h-2zM1110 281h2v2h-2zM1111 281h2v2h-2zM1112 281h2v2h-2zM1113 281h2v2h-2zM1114 281h2v2h-2zM1115 281h2v2h-2zM1116 281h2v2h-2zM1119 281h2v2h-2zM1120 281h2v2h-2zM1121 281h2v2h-2zM1124 281h2v2h-2zM1083 282h2v2h-2zM1092 282h2v2h-2zM1097 282h2v2h-2zM1098 282h2v2h-2zM1099 282h2v2h-2zM1100 282h2v2h-2zM1101 282h2v2h-2zM1102 282h2v2h-2zM1103 282h2v2h-2zM1104 282h2v2h-2zM1105 282h2v2h-2zM1106 282h2v2h-2zM1108 282h2v2h-2zM1109 282h2v2h-2zM1112 282h2v2h-2zM1115 282h2v2h-2zM1116 282h2v2h-2zM1117 282h2v2h-2zM1119 282h2v2h-2zM1120 282h2v2h-2zM1092 283h2v2h-2zM1100 283h2v2h-2zM1102 283h2v2h-2zM1103 283h2v2h-2zM1104 283h2v2h-2zM1105 283h2v2h-2zM1106 283h2v2h-2zM1107 283h2v2h-2zM1109 283h2v2h-2zM1110 283h2v2h-2zM1111 283h2v2h-2zM1112 283h2v2h-2zM1113 283h2v2h-2zM1114 283h2v2h-2zM1118 283h2v2h-2zM1123 283h2v2h-2zM1088 284h2v2h-2zM1096 284h2v2h-2zM1098 284h2v2h-2zM1100 284h2v2h-2zM1101 284h2v2h-2zM1103 284h2v2h-2zM1104 284h2v2h-2zM1106 284h2v2h-2zM1107 284h2v2h-2zM1109 284h2v2h-2zM1112 284h2v2h-2zM1113 284h2v2h-2zM1114 284h2v2h-2zM1115 284h2v2h-2zM1117 284h2v2h-2zM1132 284h2v2h-2zM1097 285h2v2h-2zM1100 285h2v2h-2zM1101 285h2v2h-2zM1103 285h2v2h-2zM1104 285h2v2h-2zM1105 285h2v2h-2zM1106 285h2v2h-2zM1108 285h2v2h-2zM1109 285h2v2h-2zM1110 285h2v2h-2zM1112 285h2v2h-2zM1114 285h2v2h-2zM1115 285h2v2h-2zM1116 285h2v2h-2zM1118 285h2v2h-2zM1119 285h2v2h-2zM1122 285h2v2h-2zM1091 286h2v2h-2zM1092 286h2v2h-2zM1095 286h2v2h-2zM1096 286h2v2h-2zM1097 286h2v2h-2zM1100 286h2v2h-2zM1102 286h2v2h-2zM1103 286h2v2h-2zM1105 286h2v2h-2zM1107 286h2v2h-2zM1108 286h2v2h-2zM1109 286h2v2h-2zM1110 286h2v2h-2zM1111 286h2v2h-2zM1113 286h2v2h-2zM1116 286h2v2h-2zM1117 286h2v2h-2zM1119 286h2v2h-2zM1122 286h2v2h-2zM1079 287h2v2h-2zM1083 287h2v2h-2zM1091 287h2v2h-2zM1095 287h2v2h-2zM1096 287h2v2h-2zM1099 287h2v2h-2zM1100 287h2v2h-2zM1101 287h2v2h-2zM1102 287h2v2h-2zM1103 287h2v2h-2zM1105 287h2v2h-2zM1106 287h2v2h-2zM1107 287h2v2h-2zM1108 287h2v2h-2zM1109 287h2v2h-2zM1110 287h2v2h-2zM1114 287h2v2h-2zM1115 287h2v2h-2zM1116 287h2v2h-2zM1117 287h2v2h-2zM1119 287h2v2h-2zM1120 287h2v2h-2zM1124 287h2v2h-2zM1126 287h2v2h-2zM1077 288h2v2h-2zM1082 288h2v2h-2zM1086 288h2v2h-2zM1088 288h2v2h-2zM1090 288h2v2h-2zM1091 288h2v2h-2zM1095 288h2v2h-2zM1096 288h2v2h-2zM1098 288h2v2h-2zM1099 288h2v2h-2zM1100 288h2v2h-2zM1101 288h2v2h-2zM1103 288h2v2h-2zM1104 288h2v2h-2zM1105 288h2v2h-2zM1106 288h2v2h-2zM1108 288h2v2h-2zM1109 288h2v2h-2zM1110 288h2v2h-2zM1111 288h2v2h-2zM1113 288h2v2h-2zM1114 288h2v2h-2zM1115 288h2v2h-2zM1116 288h2v2h-2zM1118 288h2v2h-2zM1124 288h2v2h-2zM1127 288h2v2h-2zM1088 289h2v2h-2zM1091 289h2v2h-2zM1093 289h2v2h-2zM1097 289h2v2h-2zM1098 289h2v2h-2zM1099 289h2v2h-2zM1100 289h2v2h-2zM1103 289h2v2h-2zM1104 289h2v2h-2zM1105 289h2v2h-2zM1106 289h2v2h-2zM1107 289h2v2h-2zM1108 289h2v2h-2zM1109 289h2v2h-2zM1110 289h2v2h-2zM1113 289h2v2h-2zM1116 289h2v2h-2zM1117 289h2v2h-2zM1118 289h2v2h-2zM1119 289h2v2h-2zM1120 289h2v2h-2zM1122 289h2v2h-2zM1123 289h2v2h-2zM1231 289h2v2h-2zM1079 290h2v2h-2zM1094 290h2v2h-2zM1096 290h2v2h-2zM1097 290h2v2h-2zM1098 290h2v2h-2zM1099 290h2v2h-2zM1101 290h2v2h-2zM1102 290h2v2h-2zM1103 290h2v2h-2zM1105 290h2v2h-2zM1107 290h2v2h-2zM1108 290h2v2h-2zM1109 290h2v2h-2zM1110 290h2v2h-2zM1111 290h2v2h-2zM1112 290h2v2h-2zM1113 290h2v2h-2zM1115 290h2v2h-2zM1119 290h2v2h-2zM1087 291h2v2h-2zM1090 291h2v2h-2zM1096 291h2v2h-2zM1097 291h2v2h-2zM1098 291h2v2h-2zM1099 291h2v2h-2zM1101 291h2v2h-2zM1102 291h2v2h-2zM1104 291h2v2h-2zM1105 291h2v2h-2zM1106 291h2v2h-2zM1107 291h2v2h-2zM1108 291h2v2h-2zM1109 291h2v2h-2zM1110 291h2v2h-2zM1111 291h2v2h-2zM1114 291h2v2h-2zM1115 291h2v2h-2zM1084 292h2v2h-2zM1089 292h2v2h-2zM1090 292h2v2h-2zM1094 292h2v2h-2zM1095 292h2v2h-2zM1096 292h2v2h-2zM1097 292h2v2h-2zM1098 292h2v2h-2zM1101 292h2v2h-2zM1103 292h2v2h-2zM1104 292h2v2h-2zM1105 292h2v2h-2zM1106 292h2v2h-2zM1107 292h2v2h-2zM1108 292h2v2h-2zM1110 292h2v2h-2zM1111 292h2v2h-2zM1112 292h2v2h-2zM1114 292h2v2h-2zM1115 292h2v2h-2zM1117 292h2v2h-2zM1118 292h2v2h-2zM1122 292h2v2h-2zM1123 292h2v2h-2zM1124 292h2v2h-2zM1125 292h2v2h-2zM1077 293h2v2h-2zM1084 293h2v2h-2zM1090 293h2v2h-2zM1094 293h2v2h-2zM1099 293h2v2h-2zM1100 293h2v2h-2zM1101 293h2v2h-2zM1102 293h2v2h-2zM1104 293h2v2h-2zM1105 293h2v2h-2zM1106 293h2v2h-2zM1107 293h2v2h-2zM1111 293h2v2h-2zM1113 293h2v2h-2zM1114 293h2v2h-2zM1115 293h2v2h-2zM1117 293h2v2h-2zM1118 293h2v2h-2zM1123 293h2v2h-2zM1075 294h2v2h-2zM1076 294h2v2h-2zM1077 294h2v2h-2zM1087 294h2v2h-2zM1088 294h2v2h-2zM1089 294h2v2h-2zM1091 294h2v2h-2zM1092 294h2v2h-2zM1096 294h2v2h-2zM1098 294h2v2h-2zM1099 294h2v2h-2zM1100 294h2v2h-2zM1101 294h2v2h-2zM1102 294h2v2h-2zM1103 294h2v2h-2zM1104 294h2v2h-2zM1105 294h2v2h-2zM1106 294h2v2h-2zM1107 294h2v2h-2zM1108 294h2v2h-2zM1109 294h2v2h-2zM1110 294h2v2h-2zM1111 294h2v2h-2zM1112 294h2v2h-2zM1113 294h2v2h-2zM1114 294h2v2h-2zM1116 294h2v2h-2zM1117 294h2v2h-2zM1118 294h2v2h-2zM1119 294h2v2h-2zM1122 294h2v2h-2zM1090 295h2v2h-2zM1091 295h2v2h-2zM1093 295h2v2h-2zM1096 295h2v2h-2zM1097 295h2v2h-2zM1098 295h2v2h-2zM1099 295h2v2h-2zM1100 295h2v2h-2zM1101 295h2v2h-2zM1102 295h2v2h-2zM1103 295h2v2h-2zM1104 295h2v2h-2zM1105 295h2v2h-2zM1106 295h2v2h-2zM1107 295h2v2h-2zM1108 295h2v2h-2zM1110 295h2v2h-2zM1111 295h2v2h-2zM1112 295h2v2h-2zM1113 295h2v2h-2zM1114 295h2v2h-2zM1115 295h2v2h-2zM1116 295h2v2h-2zM1118 295h2v2h-2zM1090 296h2v2h-2zM1095 296h2v2h-2zM1096 296h2v2h-2zM1097 296h2v2h-2zM1098 296h2v2h-2zM1099 296h2v2h-2zM1100 296h2v2h-2zM1101 296h2v2h-2zM1103 296h2v2h-2zM1104 296h2v2h-2zM1105 296h2v2h-2zM1106 296h2v2h-2zM1107 296h2v2h-2zM1109 296h2v2h-2zM1110 296h2v2h-2zM1112 296h2v2h-2zM1114 296h2v2h-2zM1117 296h2v2h-2zM1083 297h2v2h-2zM1090 297h2v2h-2zM1092 297h2v2h-2zM1093 297h2v2h-2zM1094 297h2v2h-2zM1096 297h2v2h-2zM1097 297h2v2h-2zM1098 297h2v2h-2zM1100 297h2v2h-2zM1101 297h2v2h-2zM1102 297h2v2h-2zM1103 297h2v2h-2zM1104 297h2v2h-2zM1105 297h2v2h-2zM1106 297h2v2h-2zM1107 297h2v2h-2zM1108 297h2v2h-2zM1110 297h2v2h-2zM1111 297h2v2h-2zM1112 297h2v2h-2zM1113 297h2v2h-2zM1114 297h2v2h-2zM1116 297h2v2h-2zM1119 297h2v2h-2zM1120 297h2v2h-2zM1072 298h2v2h-2zM1083 298h2v2h-2zM1091 298h2v2h-2zM1092 298h2v2h-2zM1093 298h2v2h-2zM1094 298h2v2h-2zM1095 298h2v2h-2zM1096 298h2v2h-2zM1097 298h2v2h-2zM1098 298h2v2h-2zM1099 298h2v2h-2zM1100 298h2v2h-2zM1102 298h2v2h-2zM1103 298h2v2h-2zM1104 298h2v2h-2zM1105 298h2v2h-2zM1106 298h2v2h-2zM1108 298h2v2h-2zM1109 298h2v2h-2zM1110 298h2v2h-2zM1111 298h2v2h-2zM1112 298h2v2h-2zM1118 298h2v2h-2zM1126 298h2v2h-2zM1073 299h2v2h-2zM1078 299h2v2h-2zM1083 299h2v2h-2zM1090 299h2v2h-2zM1092 299h2v2h-2zM1093 299h2v2h-2zM1094 299h2v2h-2zM1095 299h2v2h-2zM1096 299h2v2h-2zM1098 299h2v2h-2zM1099 299h2v2h-2zM1100 299h2v2h-2zM1101 299h2v2h-2zM1102 299h2v2h-2zM1103 299h2v2h-2zM1104 299h2v2h-2zM1106 299h2v2h-2zM1107 299h2v2h-2zM1108 299h2v2h-2zM1109 299h2v2h-2zM1110 299h2v2h-2zM1111 299h2v2h-2zM1112 299h2v2h-2zM1113 299h2v2h-2zM1114 299h2v2h-2zM1115 299h2v2h-2zM1119 299h2v2h-2zM1059 300h2v2h-2zM1089 300h2v2h-2zM1090 300h2v2h-2zM1091 300h2v2h-2zM1094 300h2v2h-2zM1095 300h2v2h-2zM1096 300h2v2h-2zM1097 300h2v2h-2zM1098 300h2v2h-2zM1099 300h2v2h-2zM1100 300h2v2h-2zM1101 300h2v2h-2zM1102 300h2v2h-2zM1103 300h2v2h-2zM1104 300h2v2h-2zM1105 300h2v2h-2zM1106 300h2v2h-2zM1107 300h2v2h-2zM1108 300h2v2h-2zM1109 300h2v2h-2zM1110 300h2v2h-2zM1112 300h2v2h-2zM1113 300h2v2h-2zM1114 300h2v2h-2zM1115 300h2v2h-2zM1116 300h2v2h-2zM1262 300h2v2h-2zM1080 301h2v2h-2zM1088 301h2v2h-2zM1089 301h2v2h-2zM1090 301h2v2h-2zM1092 301h2v2h-2zM1093 301h2v2h-2zM1095 301h2v2h-2zM1096 301h2v2h-2zM1097 301h2v2h-2zM1098 301h2v2h-2zM1099 301h2v2h-2zM1100 301h2v2h-2zM1101 301h2v2h-2zM1102 301h2v2h-2zM1104 301h2v2h-2zM1105 301h2v2h-2zM1106 301h2v2h-2zM1107 301h2v2h-2zM1108 301h2v2h-2zM1111 301h2v2h-2zM1112 301h2v2h-2zM1116 301h2v2h-2zM1118 301h2v2h-2zM1121 301h2v2h-2zM1076 302h2v2h-2zM1080 302h2v2h-2zM1081 302h2v2h-2zM1083 302h2v2h-2zM1086 302h2v2h-2zM1089 302h2v2h-2zM1092 302h2v2h-2zM1094 302h2v2h-2zM1095 302h2v2h-2zM1096 302h2v2h-2zM1097 302h2v2h-2zM1099 302h2v2h-2zM1100 302h2v2h-2zM1101 302h2v2h-2zM1102 302h2v2h-2zM1103 302h2v2h-2zM1104 302h2v2h-2zM1105 302h2v2h-2zM1106 302h2v2h-2zM1108 302h2v2h-2zM1109 302h2v2h-2zM1110 302h2v2h-2zM1111 302h2v2h-2zM1112 302h2v2h-2zM1113 302h2v2h-2zM1114 302h2v2h-2zM1115 302h2v2h-2zM1116 302h2v2h-2zM1117 302h2v2h-2zM1118 302h2v2h-2zM1119 302h2v2h-2zM1239 302h2v2h-2zM1078 303h2v2h-2zM1081 303h2v2h-2zM1087 303h2v2h-2zM1088 303h2v2h-2zM1089 303h2v2h-2zM1092 303h2v2h-2zM1093 303h2v2h-2zM1094 303h2v2h-2zM1095 303h2v2h-2zM1096 303h2v2h-2zM1097 303h2v2h-2zM1098 303h2v2h-2zM1099 303h2v2h-2zM1100 303h2v2h-2zM1101 303h2v2h-2zM1102 303h2v2h-2zM1103 303h2v2h-2zM1105 303h2v2h-2zM1106 303h2v2h-2zM1107 303h2v2h-2zM1108 303h2v2h-2zM1109 303h2v2h-2zM1111 303h2v2h-2zM1112 303h2v2h-2zM1118 303h2v2h-2zM1080 304h2v2h-2zM1082 304h2v2h-2zM1084 304h2v2h-2zM1090 304h2v2h-2zM1092 304h2v2h-2zM1093 304h2v2h-2zM1095 304h2v2h-2zM1096 304h2v2h-2zM1098 304h2v2h-2zM1099 304h2v2h-2zM1100 304h2v2h-2zM1101 304h2v2h-2zM1103 304h2v2h-2zM1104 304h2v2h-2zM1106 304h2v2h-2zM1107 304h2v2h-2zM1108 304h2v2h-2zM1109 304h2v2h-2zM1110 304h2v2h-2zM1112 304h2v2h-2zM1113 304h2v2h-2zM1114 304h2v2h-2zM1115 304h2v2h-2zM1116 304h2v2h-2zM1074 305h2v2h-2zM1087 305h2v2h-2zM1090 305h2v2h-2zM1093 305h2v2h-2zM1095 305h2v2h-2zM1097 305h2v2h-2zM1098 305h2v2h-2zM1099 305h2v2h-2zM1100 305h2v2h-2zM1101 305h2v2h-2zM1102 305h2v2h-2zM1103 305h2v2h-2zM1104 305h2v2h-2zM1105 305h2v2h-2zM1108 305h2v2h-2zM1109 305h2v2h-2zM1111 305h2v2h-2zM1112 305h2v2h-2zM1115 305h2v2h-2zM1120 305h2v2h-2zM1123 305h2v2h-2zM1124 305h2v2h-2zM1075 306h2v2h-2zM1082 306h2v2h-2zM1084 306h2v2h-2zM1085 306h2v2h-2zM1086 306h2v2h-2zM1089 306h2v2h-2zM1091 306h2v2h-2zM1092 306h2v2h-2zM1093 306h2v2h-2zM1095 306h2v2h-2zM1097 306h2v2h-2zM1100 306h2v2h-2zM1101 306h2v2h-2zM1102 306h2v2h-2zM1103 306h2v2h-2zM1105 306h2v2h-2zM1106 306h2v2h-2zM1107 306h2v2h-2zM1110 306h2v2h-2zM1118 306h2v2h-2zM1120 306h2v2h-2zM1125 306h2v2h-2zM1078 307h2v2h-2zM1083 307h2v2h-2zM1084 307h2v2h-2zM1086 307h2v2h-2zM1088 307h2v2h-2zM1095 307h2v2h-2zM1096 307h2v2h-2zM1099 307h2v2h-2zM1100 307h2v2h-2zM1101 307h2v2h-2zM1102 307h2v2h-2zM1103 307h2v2h-2zM1104 307h2v2h-2zM1105 307h2v2h-2zM1106 307h2v2h-2zM1107 307h2v2h-2zM1108 307h2v2h-2zM1111 307h2v2h-2zM1112 307h2v2h-2zM1113 307h2v2h-2zM1080 308h2v2h-2zM1081 308h2v2h-2zM1088 308h2v2h-2zM1091 308h2v2h-2zM1092 308h2v2h-2zM1093 308h2v2h-2zM1094 308h2v2h-2zM1096 308h2v2h-2zM1098 308h2v2h-2zM1099 308h2v2h-2zM1101 308h2v2h-2zM1102 308h2v2h-2zM1104 308h2v2h-2zM1105 308h2v2h-2zM1108 308h2v2h-2zM1109 308h2v2h-2zM1110 308h2v2h-2zM1111 308h2v2h-2zM1115 308h2v2h-2zM1121 308h2v2h-2zM1081 309h2v2h-2zM1083 309h2v2h-2zM1086 309h2v2h-2zM1088 309h2v2h-2zM1090 309h2v2h-2zM1091 309h2v2h-2zM1093 309h2v2h-2zM1095 309h2v2h-2zM1096 309h2v2h-2zM1097 309h2v2h-2zM1098 309h2v2h-2zM1099 309h2v2h-2zM1101 309h2v2h-2zM1102 309h2v2h-2zM1103 309h2v2h-2zM1104 309h2v2h-2zM1105 309h2v2h-2zM1106 309h2v2h-2zM1107 309h2v2h-2zM1108 309h2v2h-2zM1109 309h2v2h-2zM1110 309h2v2h-2zM1112 309h2v2h-2zM1115 309h2v2h-2zM1085 310h2v2h-2zM1088 310h2v2h-2zM1089 310h2v2h-2zM1092 310h2v2h-2zM1093 310h2v2h-2zM1094 310h2v2h-2zM1096 310h2v2h-2zM1097 310h2v2h-2zM1098 310h2v2h-2zM1099 310h2v2h-2zM1101 310h2v2h-2zM1102 310h2v2h-2zM1103 310h2v2h-2zM1104 310h2v2h-2zM1105 310h2v2h-2zM1107 310h2v2h-2zM1108 310h2v2h-2zM1109 310h2v2h-2zM1110 310h2v2h-2zM1114 310h2v2h-2zM1116 310h2v2h-2zM1119 310h2v2h-2zM1257 310h2v2h-2zM1065 311h2v2h-2zM1066 311h2v2h-2zM1068 311h2v2h-2zM1070 311h2v2h-2zM1074 311h2v2h-2zM1078 311h2v2h-2zM1086 311h2v2h-2zM1091 311h2v2h-2zM1092 311h2v2h-2zM1093 311h2v2h-2zM1096 311h2v2h-2zM1097 311h2v2h-2zM1098 311h2v2h-2zM1099 311h2v2h-2zM1100 311h2v2h-2zM1101 311h2v2h-2zM1102 311h2v2h-2zM1103 311h2v2h-2zM1106 311h2v2h-2zM1107 311h2v2h-2zM1108 311h2v2h-2zM1110 311h2v2h-2zM1111 311h2v2h-2zM1115 311h2v2h-2zM1117 311h2v2h-2zM1248 311h2v2h-2zM1069 312h2v2h-2zM1074 312h2v2h-2zM1081 312h2v2h-2zM1086 312h2v2h-2zM1088 312h2v2h-2zM1089 312h2v2h-2zM1090 312h2v2h-2zM1091 312h2v2h-2zM1094 312h2v2h-2zM1095 312h2v2h-2zM1096 312h2v2h-2zM1097 312h2v2h-2zM1098 312h2v2h-2zM1099 312h2v2h-2zM1101 312h2v2h-2zM1102 312h2v2h-2zM1103 312h2v2h-2zM1104 312h2v2h-2zM1106 312h2v2h-2zM1107 312h2v2h-2zM1108 312h2v2h-2zM1109 312h2v2h-2zM1111 312h2v2h-2zM1114 312h2v2h-2zM1074 313h2v2h-2zM1084 313h2v2h-2zM1086 313h2v2h-2zM1087 313h2v2h-2zM1092 313h2v2h-2zM1094 313h2v2h-2zM1096 313h2v2h-2zM1097 313h2v2h-2zM1099 313h2v2h-2zM1100 313h2v2h-2zM1101 313h2v2h-2zM1102 313h2v2h-2zM1103 313h2v2h-2zM1104 313h2v2h-2zM1105 313h2v2h-2zM1106 313h2v2h-2zM1108 313h2v2h-2zM1111 313h2v2h-2zM1112 313h2v2h-2zM1117 313h2v2h-2zM1080 314h2v2h-2zM1083 314h2v2h-2zM1084 314h2v2h-2zM1085 314h2v2h-2zM1086 314h2v2h-2zM1091 314h2v2h-2zM1093 314h2v2h-2zM1094 314h2v2h-2zM1095 314h2v2h-2zM1096 314h2v2h-2zM1098 314h2v2h-2zM1099 314h2v2h-2zM1101 314h2v2h-2zM1102 314h2v2h-2zM1103 314h2v2h-2zM1104 314h2v2h-2zM1105 314h2v2h-2zM1106 314h2v2h-2zM1107 314h2v2h-2zM1108 314h2v2h-2zM1111 314h2v2h-2zM1112 314h2v2h-2zM1119 314h2v2h-2zM1082 315h2v2h-2zM1085 315h2v2h-2zM1089 315h2v2h-2zM1090 315h2v2h-2zM1094 315h2v2h-2zM1095 315h2v2h-2zM1096 315h2v2h-2zM1097 315h2v2h-2zM1098 315h2v2h-2zM1099 315h2v2h-2zM1100 315h2v2h-2zM1104 315h2v2h-2zM1106 315h2v2h-2zM1109 315h2v2h-2zM1112 315h2v2h-2zM1113 315h2v2h-2zM1062 316h2v2h-2zM1075 316h2v2h-2zM1080 316h2v2h-2zM1083 316h2v2h-2zM1086 316h2v2h-2zM1089 316h2v2h-2zM1091 316h2v2h-2zM1093 316h2v2h-2zM1095 316h2v2h-2zM1096 316h2v2h-2zM1097 316h2v2h-2zM1098 316h2v2h-2zM1099 316h2v2h-2zM1100 316h2v2h-2zM1101 316h2v2h-2zM1102 316h2v2h-2zM1105 316h2v2h-2zM1107 316h2v2h-2zM1109 316h2v2h-2zM1110 316h2v2h-2zM1114 316h2v2h-2zM1068 317h2v2h-2zM1075 317h2v2h-2zM1078 317h2v2h-2zM1080 317h2v2h-2zM1084 317h2v2h-2zM1086 317h2v2h-2zM1088 317h2v2h-2zM1089 317h2v2h-2zM1091 317h2v2h-2zM1096 317h2v2h-2zM1098 317h2v2h-2zM1100 317h2v2h-2zM1101 317h2v2h-2zM1102 317h2v2h-2zM1104 317h2v2h-2zM1105 317h2v2h-2zM1107 317h2v2h-2zM1109 317h2v2h-2zM1110 317h2v2h-2zM1072 318h2v2h-2zM1078 318h2v2h-2zM1079 318h2v2h-2zM1082 318h2v2h-2zM1083 318h2v2h-2zM1089 318h2v2h-2zM1091 318h2v2h-2zM1094 318h2v2h-2zM1095 318h2v2h-2zM1096 318h2v2h-2zM1097 318h2v2h-2zM1098 318h2v2h-2zM1099 318h2v2h-2zM1102 318h2v2h-2zM1103 318h2v2h-2zM1104 318h2v2h-2zM1105 318h2v2h-2zM1106 318h2v2h-2zM1107 318h2v2h-2zM1108 318h2v2h-2zM1258 318h2v2h-2zM1054 319h2v2h-2zM1065 319h2v2h-2zM1073 319h2v2h-2zM1081 319h2v2h-2zM1087 319h2v2h-2zM1092 319h2v2h-2zM1093 319h2v2h-2zM1094 319h2v2h-2zM1095 319h2v2h-2zM1098 319h2v2h-2zM1100 319h2v2h-2zM1102 319h2v2h-2zM1104 319h2v2h-2zM1106 319h2v2h-2zM1107 319h2v2h-2zM1109 319h2v2h-2zM1114 319h2v2h-2zM1079 320h2v2h-2zM1080 320h2v2h-2zM1085 320h2v2h-2zM1087 320h2v2h-2zM1088 320h2v2h-2zM1090 320h2v2h-2zM1091 320h2v2h-2zM1093 320h2v2h-2zM1095 320h2v2h-2zM1096 320h2v2h-2zM1097 320h2v2h-2zM1099 320h2v2h-2zM1100 320h2v2h-2zM1102 320h2v2h-2zM1105 320h2v2h-2zM1106 320h2v2h-2zM1107 320h2v2h-2zM1109 320h2v2h-2zM1110 320h2v2h-2zM1112 320h2v2h-2zM1113 320h2v2h-2zM1117 320h2v2h-2zM1077 321h2v2h-2zM1078 321h2v2h-2zM1080 321h2v2h-2zM1081 321h2v2h-2zM1083 321h2v2h-2zM1084 321h2v2h-2zM1087 321h2v2h-2zM1090 321h2v2h-2zM1091 321h2v2h-2zM1092 321h2v2h-2zM1093 321h2v2h-2zM1095 321h2v2h-2zM1097 321h2v2h-2zM1098 321h2v2h-2zM1101 321h2v2h-2zM1102 321h2v2h-2zM1103 321h2v2h-2zM1105 321h2v2h-2zM1110 321h2v2h-2zM1112 321h2v2h-2zM1056 322h2v2h-2zM1058 322h2v2h-2zM1070 322h2v2h-2zM1073 322h2v2h-2zM1075 322h2v2h-2zM1081 322h2v2h-2zM1083 322h2v2h-2zM1086 322h2v2h-2zM1087 322h2v2h-2zM1091 322h2v2h-2zM1092 322h2v2h-2zM1093 322h2v2h-2zM1095 322h2v2h-2zM1096 322h2v2h-2zM1097 322h2v2h-2zM1098 322h2v2h-2zM1103 322h2v2h-2zM1105 322h2v2h-2zM1109 322h2v2h-2zM1110 322h2v2h-2zM1250 322h2v2h-2zM1081 323h2v2h-2zM1086 323h2v2h-2zM1088 323h2v2h-2zM1096 323h2v2h-2zM1099 323h2v2h-2zM1102 323h2v2h-2zM1104 323h2v2h-2zM1108 323h2v2h-2zM1062 324h2v2h-2zM1067 324h2v2h-2zM1075 324h2v2h-2zM1080 324h2v2h-2zM1083 324h2v2h-2zM1088 324h2v2h-2zM1089 324h2v2h-2zM1095 324h2v2h-2zM1096 324h2v2h-2zM1098 324h2v2h-2zM1099 324h2v2h-2zM1100 324h2v2h-2zM1102 324h2v2h-2zM1103 324h2v2h-2zM1106 324h2v2h-2zM1107 324h2v2h-2zM1111 324h2v2h-2zM1113 324h2v2h-2zM968 325h2v2h-2zM1053 325h2v2h-2zM1073 325h2v2h-2zM1075 325h2v2h-2zM1077 325h2v2h-2zM1081 325h2v2h-2zM1088 325h2v2h-2zM1091 325h2v2h-2zM1093 325h2v2h-2zM1094 325h2v2h-2zM1095 325h2v2h-2zM1096 325h2v2h-2zM1098 325h2v2h-2zM1099 325h2v2h-2zM1100 325h2v2h-2zM1101 325h2v2h-2zM1103 325h2v2h-2zM1104 325h2v2h-2zM1106 325h2v2h-2zM1108 325h2v2h-2zM1109 325h2v2h-2zM1114 325h2v2h-2zM1082 326h2v2h-2zM1088 326h2v2h-2zM1092 326h2v2h-2zM1095 326h2v2h-2zM1100 326h2v2h-2zM1101 326h2v2h-2zM1102 326h2v2h-2zM1103 326h2v2h-2zM1105 326h2v2h-2zM1106 326h2v2h-2zM1108 326h2v2h-2zM1113 326h2v2h-2zM1262 326h2v2h-2zM1000 327h2v2h-2zM1052 327h2v2h-2zM1087 327h2v2h-2zM1093 327h2v2h-2zM1095 327h2v2h-2zM1096 327h2v2h-2zM1102 327h2v2h-2zM1103 327h2v2h-2zM1108 327h2v2h-2zM1109 327h2v2h-2zM1111 327h2v2h-2zM1114 327h2v2h-2zM1043 328h2v2h-2zM1057 328h2v2h-2zM1079 328h2v2h-2zM1088 328h2v2h-2zM1089 328h2v2h-2zM1090 328h2v2h-2zM1094 328h2v2h-2zM1097 328h2v2h-2zM1099 328h2v2h-2zM1101 328h2v2h-2zM1102 328h2v2h-2zM1059 329h2v2h-2zM1074 329h2v2h-2zM1096 329h2v2h-2zM1098 329h2v2h-2zM1099 329h2v2h-2zM1100 329h2v2h-2zM1102 329h2v2h-2zM1104 329h2v2h-2zM1105 329h2v2h-2zM1106 329h2v2h-2zM1110 329h2v2h-2zM1116 329h2v2h-2zM1076 330h2v2h-2zM1080 330h2v2h-2zM1087 330h2v2h-2zM1089 330h2v2h-2zM1093 330h2v2h-2zM1094 330h2v2h-2zM1095 330h2v2h-2zM1098 330h2v2h-2zM1099 330h2v2h-2zM1102 330h2v2h-2zM1104 330h2v2h-2zM1105 330h2v2h-2zM1240 330h2v2h-2zM1059 331h2v2h-2zM1090 331h2v2h-2zM1092 331h2v2h-2zM1093 331h2v2h-2zM1098 331h2v2h-2zM1100 331h2v2h-2zM1101 331h2v2h-2zM1102 331h2v2h-2zM1103 331h2v2h-2zM1108 331h2v2h-2zM1111 331h2v2h-2zM1051 332h2v2h-2zM1072 332h2v2h-2zM1077 332h2v2h-2zM1081 332h2v2h-2zM1092 332h2v2h-2zM1093 332h2v2h-2zM1095 332h2v2h-2zM1098 332h2v2h-2zM1059 333h2v2h-2zM1078 333h2v2h-2zM1080 333h2v2h-2zM1082 333h2v2h-2zM1088 333h2v2h-2zM1089 333h2v2h-2zM1092 333h2v2h-2zM1093 333h2v2h-2zM1094 333h2v2h-2zM1097 333h2v2h-2zM1100 333h2v2h-2zM1101 333h2v2h-2zM1102 333h2v2h-2zM1220 333h2v2h-2zM1006 334h2v2h-2zM1071 334h2v2h-2zM1077 334h2v2h-2zM1084 334h2v2h-2zM1085 334h2v2h-2zM1087 334h2v2h-2zM1090 334h2v2h-2zM1093 334h2v2h-2zM1095 334h2v2h-2zM1101 334h2v2h-2zM1254 334h2v2h-2zM990 335h2v2h-2zM1066 335h2v2h-2zM1091 335h2v2h-2zM1092 335h2v2h-2zM1094 335h2v2h-2zM1096 335h2v2h-2zM1099 335h2v2h-2zM1109 335h2v2h-2zM980 336h2v2h-2zM1073 336h2v2h-2zM1082 336h2v2h-2zM1083 336h2v2h-2zM1090 336h2v2h-2zM1095 336h2v2h-2zM1098 336h2v2h-2zM1108 336h2v2h-2zM1053 337h2v2h-2zM1077 337h2v2h-2zM1083 337h2v2h-2zM1093 337h2v2h-2zM1095 337h2v2h-2zM1101 337h2v2h-2zM1034 338h2v2h-2zM1048 338h2v2h-2zM1066 338h2v2h-2zM1067 338h2v2h-2zM1076 338h2v2h-2zM1078 338h2v2h-2zM1082 338h2v2h-2zM1087 338h2v2h-2zM1088 338h2v2h-2zM1090 338h2v2h-2zM1098 338h2v2h-2zM1243 338h2v2h-2zM1039 339h2v2h-2zM1065 339h2v2h-2zM1069 339h2v2h-2zM1082 339h2v2h-2zM1089 339h2v2h-2zM1095 339h2v2h-2zM1096 339h2v2h-2zM1097 339h2v2h-2zM1030 340h2v2h-2zM1083 340h2v2h-2zM1084 340h2v2h-2zM1087 340h2v2h-2zM1093 340h2v2h-2zM1097 340h2v2h-2zM1099 340h2v2h-2zM1104 340h2v2h-2zM1107 340h2v2h-2zM1110 340h2v2h-2zM1033 341h2v2h-2zM1051 341h2v2h-2zM1058 341h2v2h-2zM1061 341h2v2h-2zM1064 341h2v2h-2zM1087 341h2v2h-2zM1090 341h2v2h-2zM1096 341h2v2h-2zM1055 342h2v2h-2zM1073 342h2v2h-2zM1077 342h2v2h-2zM1082 342h2v2h-2zM1084 342h2v2h-2zM1088 342h2v2h-2zM1089 342h2v2h-2zM1091 342h2v2h-2zM1097 342h2v2h-2zM1048 343h2v2h-2zM1062 343h2v2h-2zM1079 343h2v2h-2zM1087 343h2v2h-2zM1093 343h2v2h-2zM1094 343h2v2h-2zM1041 344h2v2h-2zM1052 344h2v2h-2zM1072 344h2v2h-2zM1081 344h2v2h-2zM1091 344h2v2h-2zM1098 344h2v2h-2zM1105 344h2v2h-2zM988 345h2v2h-2zM1012 345h2v2h-2zM1050 345h2v2h-2zM1051 345h2v2h-2zM1080 345h2v2h-2zM1084 345h2v2h-2zM1096 345h2v2h-2zM1097 345h2v2h-2zM1021 346h2v2h-2zM1034 346h2v2h-2zM1050 346h2v2h-2zM1055 346h2v2h-2zM1090 346h2v2h-2zM1051 347h2v2h-2zM1059 347h2v2h-2zM1069 347h2v2h-2zM1070 347h2v2h-2zM1071 347h2v2h-2zM1096 347h2v2h-2zM1034 348h2v2h-2zM1047 348h2v2h-2zM1069 348h2v2h-2zM1085 348h2v2h-2zM1093 348h2v2h-2zM1117 348h2v2h-2zM1002 349h2v2h-2zM1063 349h2v2h-2zM1074 349h2v2h-2zM1075 349h2v2h-2zM1077 349h2v2h-2zM1086 349h2v2h-2zM1045 350h2v2h-2zM1053 350h2v2h-2zM1072 350h2v2h-2zM1086 350h2v2h-2zM1094 350h2v2h-2zM1070 351h2v2h-2zM1070 352h2v2h-2zM1072 352h2v2h-2zM1085 352h2v2h-2zM1109 352h2v2h-2zM1041 353h2v2h-2zM1057 353h2v2h-2zM1061 353h2v2h-2zM1087 353h2v2h-2zM1117 353h2v2h-2zM1030 354h2v2h-2zM1043 354h2v2h-2zM1074 354h2v2h-2zM1096 354h2v2h-2zM1060 355h2v2h-2zM1087 355h2v2h-2zM1040 356h2v2h-2zM1068 356h2v2h-2zM1087 356h2v2h-2zM1020 357h2v2h-2zM1059 357h2v2h-2zM1060 357h2v2h-2zM1081 357h2v2h-2zM1087 357h2v2h-2zM1090 357h2v2h-2zM1060 358h2v2h-2zM1082 358h2v2h-2zM1050 360h2v2h-2z" fill="#ff0000"/>
<path d="M1141 268h2v2h-2zM1172 268h2v2h-2zM1140 269h2v2h-2zM1215 279h2v2h-2zM1185 283h2v2h-2zM1132 296h2v2h-2zM1137 300h2v2h-2zM1128 305h2v2h-2zM1186 306h2v2h-2zM1124 308h2v2h-2zM1138 310h2v2h-2zM1131 313h2v2h-2zM1137 315h2v2h-2zM1135 319h2v2h-2zM1121 321h2v2h-2zM1135 322h2v2h-2zM1121 324h2v2h-2zM1119 342h2v2h-2z" fill="#008a00"/>
<polygon points="1150.0,239.8 1217.0,239.8 1217.0,345.5 1112.0,345.5" fill="none" stroke="#1f8c1f" stroke-width="2"/>
<text x="1116.2" y="208.3" font-size="18" fill="#138a13" textLength="20.6" lengthAdjust="spacingAndGlyphs">P2</text>
<text x="1116" y="228.6" font-size="18" fill="#138a13" textLength="46.44" lengthAdjust="spacingAndGlyphs">0.77%</text>
<rect x="1392" y="48" width="314" height="314" fill="none" stroke="#161616" stroke-width="2"/>
<path d="M1385 361.00H1392M1385 286.97H1392M1385 212.93H1392M1385 138.90H1392M1385 64.86H1392M1385 48H1392M1393.40 362V369M1443.40 362V369M1493.40 362V369M1543.40 362V369M1593.40 362V369M1643.40 362V369M1693.40 362V369M1706 362V369" stroke="#161616" stroke-width="1.8" fill="none"/>
<path d="M1388 346.19H1392M1388 331.39H1392M1388 316.58H1392M1388 301.77H1392M1388 272.16H1392M1388 257.35H1392M1388 242.55H1392M1388 227.74H1392M1388 198.13H1392M1388 183.32H1392M1388 168.51H1392M1388 153.70H1392M1388 124.09H1392M1388 109.28H1392M1388 94.48H1392M1388 79.67H1392M1388 50.06H1392M1408.45 362V366M1417.26 362V366M1423.50 362V366M1428.35 362V366M1432.31 362V366M1435.65 362V366M1438.55 362V366M1441.11 362V366M1458.45 362V366M1467.26 362V366M1473.50 362V366M1478.35 362V366M1482.31 362V366M1485.65 362V366M1488.55 362V366M1491.11 362V366M1508.45 362V366M1517.26 362V366M1523.50 362V366M1528.35 362V366M1532.31 362V366M1535.65 362V366M1538.55 362V366M1541.11 362V366M1558.45 362V366M1567.26 362V366M1573.50 362V366M1578.35 362V366M1582.31 362V366M1585.65 362V366M1588.55 362V366M1591.11 362V366M1608.45 362V366M1617.26 362V366M1623.50 362V366M1628.35 362V366M1632.31 362V366M1635.65 362V366M1638.55 362V366M1641.11 362V366M1658.45 362V366M1667.26 362V366M1673.50 362V366M1678.35 362V366M1682.31 362V366M1685.65 362V366M1688.55 362V366M1691.11 362V366" stroke="#777" stroke-width="1.6" fill="none"/>
<g class="sm"><text x="1379.10" y="392" font-size="17.5">10</text><text x="1400.00" y="385.3" font-size="13">1</text>
<text x="1429.10" y="392" font-size="17.5">10</text><text x="1450.00" y="385.3" font-size="13">2</text>
<text x="1479.10" y="392" font-size="17.5">10</text><text x="1500.00" y="385.3" font-size="13">3</text>
<text x="1529.10" y="392" font-size="17.5">10</text><text x="1550.00" y="385.3" font-size="13">4</text>
<text x="1579.10" y="392" font-size="17.5">10</text><text x="1600.00" y="385.3" font-size="13">5</text>
<text x="1629.10" y="392" font-size="17.5">10</text><text x="1650.00" y="385.3" font-size="13">6</text>
<text x="1682.10" y="392" font-size="17.5">10</text><text x="1705.50" y="385.3" font-size="14">7.2</text></g>
<g class="sm"><text transform="translate(1376,359.30) rotate(-90)" text-anchor="middle" font-size="17.5">0</text>
<text transform="translate(1376,285.27) rotate(-90)" text-anchor="middle" font-size="17.5">20</text>
<text transform="translate(1376,211.23) rotate(-90)" text-anchor="middle" font-size="17.5">40</text>
<text transform="translate(1376,137.20) rotate(-90)" text-anchor="middle" font-size="17.5">60</text>
<text transform="translate(1376,48.00) rotate(-90)" text-anchor="middle" font-size="17.5">84.2</text></g>
<g class="sm"><text x="1550.0" y="418.2" text-anchor="middle" font-size="18">FITC-A</text></g>
<g class="sm" transform="translate(1347.5,255.4) rotate(-90)"><text x="0" y="0" font-size="18" textLength="50" lengthAdjust="spacingAndGlyphs">SSC-A</text><text x="60.5" y="0" font-size="18" textLength="3.5" lengthAdjust="spacingAndGlyphs">(</text><text x="66.5" y="0" font-size="18" textLength="16" lengthAdjust="spacingAndGlyphs">10</text><text x="86" y="-7.3" font-size="13">3</text><rect x="101.3" y="-14.3" width="1.3" height="17.5" fill="#222"/></g>
<text x="1550.9" y="32" text-anchor="middle" font-size="24.75">TM4SF1 MNPs</text>
<text x="1551.7" y="467.5" text-anchor="middle" font-size="32.5">D</text>
<path d="M1573 262h2v2h-2zM1660 264h2v2h-2zM1568 265h2v2h-2zM1555 266h2v2h-2zM1538 269h2v2h-2zM1544 269h2v2h-2zM1532 271h2v2h-2zM1543 272h2v2h-2zM1700 273h2v2h-2zM1558 274h2v2h-2zM1566 275h2v2h-2zM1574 275h2v2h-2zM1668 275h2v2h-2zM1524 276h2v2h-2zM1683 276h2v2h-2zM1539 277h2v2h-2zM1564 277h2v2h-2zM1529 278h2v2h-2zM1550 278h2v2h-2zM1548 279h2v2h-2zM1545 280h2v2h-2zM1568 280h2v2h-2zM1657 281h2v2h-2zM1499 282h2v2h-2zM1562 283h2v2h-2zM1702 283h2v2h-2zM1533 285h2v2h-2zM1546 285h2v2h-2zM1560 285h2v2h-2zM1677 286h2v2h-2zM1542 288h2v2h-2zM1518 289h2v2h-2zM1535 289h2v2h-2zM1538 289h2v2h-2zM1540 289h2v2h-2zM1561 290h2v2h-2zM1673 290h2v2h-2zM1509 291h2v2h-2zM1553 291h2v2h-2zM1562 291h2v2h-2zM1513 292h2v2h-2zM1551 292h2v2h-2zM1690 292h2v2h-2zM1499 293h2v2h-2zM1504 293h2v2h-2zM1547 293h2v2h-2zM1563 293h2v2h-2zM1519 294h2v2h-2zM1544 294h2v2h-2zM1548 294h2v2h-2zM1559 294h2v2h-2zM1536 295h2v2h-2zM1539 295h2v2h-2zM1558 295h2v2h-2zM1504 296h2v2h-2zM1505 296h2v2h-2zM1553 296h2v2h-2zM1664 296h2v2h-2zM1502 297h2v2h-2zM1513 297h2v2h-2zM1517 297h2v2h-2zM1521 297h2v2h-2zM1527 297h2v2h-2zM1559 297h2v2h-2zM1509 298h2v2h-2zM1536 298h2v2h-2zM1538 298h2v2h-2zM1558 298h2v2h-2zM1566 298h2v2h-2zM1512 299h2v2h-2zM1551 299h2v2h-2zM1559 299h2v2h-2zM1564 299h2v2h-2zM1523 300h2v2h-2zM1529 300h2v2h-2zM1544 300h2v2h-2zM1547 300h2v2h-2zM1563 300h2v2h-2zM1443 301h2v2h-2zM1535 301h2v2h-2zM1553 301h2v2h-2zM1485 302h2v2h-2zM1511 302h2v2h-2zM1532 302h2v2h-2zM1545 302h2v2h-2zM1519 303h2v2h-2zM1549 303h2v2h-2zM1664 303h2v2h-2zM1665 303h2v2h-2zM1517 304h2v2h-2zM1536 304h2v2h-2zM1516 305h2v2h-2zM1534 305h2v2h-2zM1555 305h2v2h-2zM1700 305h2v2h-2zM1508 306h2v2h-2zM1535 306h2v2h-2zM1555 306h2v2h-2zM1485 307h2v2h-2zM1500 307h2v2h-2zM1527 307h2v2h-2zM1542 307h2v2h-2zM1693 307h2v2h-2zM1508 308h2v2h-2zM1509 308h2v2h-2zM1536 308h2v2h-2zM1540 308h2v2h-2zM1546 308h2v2h-2zM1491 309h2v2h-2zM1501 309h2v2h-2zM1514 309h2v2h-2zM1527 309h2v2h-2zM1465 310h2v2h-2zM1553 310h2v2h-2zM1562 310h2v2h-2zM1678 310h2v2h-2zM1522 311h2v2h-2zM1527 311h2v2h-2zM1540 311h2v2h-2zM1547 311h2v2h-2zM1496 312h2v2h-2zM1518 312h2v2h-2zM1523 312h2v2h-2zM1534 312h2v2h-2zM1538 312h2v2h-2zM1542 312h2v2h-2zM1470 313h2v2h-2zM1485 313h2v2h-2zM1503 313h2v2h-2zM1514 313h2v2h-2zM1539 313h2v2h-2zM1549 313h2v2h-2zM1556 313h2v2h-2zM1486 314h2v2h-2zM1504 314h2v2h-2zM1548 314h2v2h-2zM1545 315h2v2h-2zM1551 315h2v2h-2zM1560 315h2v2h-2zM1508 316h2v2h-2zM1527 316h2v2h-2zM1546 316h2v2h-2zM1472 317h2v2h-2zM1559 317h2v2h-2zM1497 318h2v2h-2zM1498 318h2v2h-2zM1519 318h2v2h-2zM1526 318h2v2h-2zM1532 318h2v2h-2zM1555 318h2v2h-2zM1558 318h2v2h-2zM1510 319h2v2h-2zM1528 319h2v2h-2zM1537 319h2v2h-2zM1545 319h2v2h-2zM1483 320h2v2h-2zM1519 320h2v2h-2zM1536 320h2v2h-2zM1553 320h2v2h-2zM1690 320h2v2h-2zM1476 321h2v2h-2zM1530 321h2v2h-2zM1532 321h2v2h-2zM1536 321h2v2h-2zM1556 321h2v2h-2zM1457 322h2v2h-2zM1498 322h2v2h-2zM1537 322h2v2h-2zM1665 322h2v2h-2zM1497 323h2v2h-2zM1522 323h2v2h-2zM1538 323h2v2h-2zM1539 323h2v2h-2zM1549 323h2v2h-2zM1552 323h2v2h-2zM1478 324h2v2h-2zM1535 324h2v2h-2zM1656 324h2v2h-2zM1470 325h2v2h-2zM1520 325h2v2h-2zM1529 325h2v2h-2zM1530 325h2v2h-2zM1534 325h2v2h-2zM1554 325h2v2h-2zM1495 326h2v2h-2zM1516 326h2v2h-2zM1520 326h2v2h-2zM1542 326h2v2h-2zM1495 327h2v2h-2zM1526 327h2v2h-2zM1535 327h2v2h-2zM1424 328h2v2h-2zM1456 328h2v2h-2zM1515 328h2v2h-2zM1526 328h2v2h-2zM1553 328h2v2h-2zM1411 329h2v2h-2zM1495 329h2v2h-2zM1506 329h2v2h-2zM1544 329h2v2h-2zM1491 330h2v2h-2zM1522 330h2v2h-2zM1683 330h2v2h-2zM1518 331h2v2h-2zM1539 331h2v2h-2zM1548 331h2v2h-2zM1450 332h2v2h-2zM1507 332h2v2h-2zM1527 332h2v2h-2zM1534 332h2v2h-2zM1553 332h2v2h-2zM1516 333h2v2h-2zM1539 333h2v2h-2zM1552 333h2v2h-2zM1486 334h2v2h-2zM1539 334h2v2h-2zM1463 335h2v2h-2zM1484 335h2v2h-2zM1499 335h2v2h-2zM1534 335h2v2h-2zM1529 336h2v2h-2zM1552 336h2v2h-2zM1468 337h2v2h-2zM1532 338h2v2h-2zM1524 339h2v2h-2zM1461 340h2v2h-2zM1513 341h2v2h-2zM1548 341h2v2h-2zM1395 342h2v2h-2zM1433 343h2v2h-2zM1538 343h2v2h-2zM1658 343h2v2h-2zM1475 344h2v2h-2zM1545 344h2v2h-2zM1620 344h2v2h-2zM1456 345h2v2h-2zM1680 345h2v2h-2zM1434 346h2v2h-2zM1515 347h2v2h-2zM1606 347h2v2h-2zM1427 348h2v2h-2zM1478 348h2v2h-2zM1572 348h2v2h-2zM1590 348h2v2h-2zM1594 348h2v2h-2zM1599 349h2v2h-2zM1615 349h2v2h-2zM1410 350h2v2h-2zM1471 350h2v2h-2zM1514 350h2v2h-2zM1531 350h2v2h-2zM1573 350h2v2h-2zM1461 351h2v2h-2zM1538 351h2v2h-2zM1565 351h2v2h-2zM1604 351h2v2h-2zM1576 353h2v2h-2zM1611 354h2v2h-2zM1551 356h2v2h-2zM1546 357h2v2h-2zM1551 357h2v2h-2zM1407 358h2v2h-2zM1552 358h2v2h-2zM1441 359h2v2h-2zM1528 359h2v2h-2zM1553 359h2v2h-2zM1586 359h2v2h-2z" fill="#ff0000"/>
<path d="M1619 257h2v2h-2zM1642 257h2v2h-2zM1615 258h2v2h-2zM1616 258h2v2h-2zM1620 258h2v2h-2zM1610 259h2v2h-2zM1617 259h2v2h-2zM1619 259h2v2h-2zM1620 259h2v2h-2zM1627 259h2v2h-2zM1632 259h2v2h-2zM1635 259h2v2h-2zM1613 260h2v2h-2zM1617 260h2v2h-2zM1619 260h2v2h-2zM1621 260h2v2h-2zM1623 260h2v2h-2zM1624 260h2v2h-2zM1626 260h2v2h-2zM1627 260h2v2h-2zM1628 260h2v2h-2zM1629 260h2v2h-2zM1630 260h2v2h-2zM1614 261h2v2h-2zM1617 261h2v2h-2zM1620 261h2v2h-2zM1621 261h2v2h-2zM1622 261h2v2h-2zM1624 261h2v2h-2zM1625 261h2v2h-2zM1626 261h2v2h-2zM1627 261h2v2h-2zM1629 261h2v2h-2zM1630 261h2v2h-2zM1631 261h2v2h-2zM1632 261h2v2h-2zM1608 262h2v2h-2zM1611 262h2v2h-2zM1612 262h2v2h-2zM1615 262h2v2h-2zM1617 262h2v2h-2zM1618 262h2v2h-2zM1619 262h2v2h-2zM1620 262h2v2h-2zM1621 262h2v2h-2zM1622 262h2v2h-2zM1624 262h2v2h-2zM1625 262h2v2h-2zM1626 262h2v2h-2zM1628 262h2v2h-2zM1629 262h2v2h-2zM1630 262h2v2h-2zM1631 262h2v2h-2zM1632 262h2v2h-2zM1633 262h2v2h-2zM1634 262h2v2h-2zM1635 262h2v2h-2zM1610 263h2v2h-2zM1617 263h2v2h-2zM1619 263h2v2h-2zM1621 263h2v2h-2zM1622 263h2v2h-2zM1623 263h2v2h-2zM1624 263h2v2h-2zM1625 263h2v2h-2zM1626 263h2v2h-2zM1627 263h2v2h-2zM1628 263h2v2h-2zM1631 263h2v2h-2zM1632 263h2v2h-2zM1633 263h2v2h-2zM1636 263h2v2h-2zM1638 263h2v2h-2zM1639 263h2v2h-2zM1640 263h2v2h-2zM1642 263h2v2h-2zM1617 264h2v2h-2zM1618 264h2v2h-2zM1621 264h2v2h-2zM1622 264h2v2h-2zM1624 264h2v2h-2zM1625 264h2v2h-2zM1626 264h2v2h-2zM1627 264h2v2h-2zM1629 264h2v2h-2zM1630 264h2v2h-2zM1631 264h2v2h-2zM1632 264h2v2h-2zM1634 264h2v2h-2zM1636 264h2v2h-2zM1637 264h2v2h-2zM1638 264h2v2h-2zM1640 264h2v2h-2zM1642 264h2v2h-2zM1603 265h2v2h-2zM1615 265h2v2h-2zM1619 265h2v2h-2zM1620 265h2v2h-2zM1621 265h2v2h-2zM1622 265h2v2h-2zM1623 265h2v2h-2zM1624 265h2v2h-2zM1626 265h2v2h-2zM1627 265h2v2h-2zM1630 265h2v2h-2zM1631 265h2v2h-2zM1632 265h2v2h-2zM1635 265h2v2h-2zM1637 265h2v2h-2zM1639 265h2v2h-2zM1617 266h2v2h-2zM1618 266h2v2h-2zM1620 266h2v2h-2zM1623 266h2v2h-2zM1624 266h2v2h-2zM1625 266h2v2h-2zM1626 266h2v2h-2zM1627 266h2v2h-2zM1629 266h2v2h-2zM1631 266h2v2h-2zM1632 266h2v2h-2zM1634 266h2v2h-2zM1635 266h2v2h-2zM1637 266h2v2h-2zM1639 266h2v2h-2zM1640 266h2v2h-2zM1642 266h2v2h-2zM1593 267h2v2h-2zM1610 267h2v2h-2zM1616 267h2v2h-2zM1617 267h2v2h-2zM1619 267h2v2h-2zM1622 267h2v2h-2zM1623 267h2v2h-2zM1624 267h2v2h-2zM1625 267h2v2h-2zM1626 267h2v2h-2zM1628 267h2v2h-2zM1631 267h2v2h-2zM1632 267h2v2h-2zM1633 267h2v2h-2zM1635 267h2v2h-2zM1636 267h2v2h-2zM1639 267h2v2h-2zM1644 267h2v2h-2zM1613 268h2v2h-2zM1615 268h2v2h-2zM1616 268h2v2h-2zM1619 268h2v2h-2zM1620 268h2v2h-2zM1621 268h2v2h-2zM1624 268h2v2h-2zM1626 268h2v2h-2zM1627 268h2v2h-2zM1628 268h2v2h-2zM1629 268h2v2h-2zM1631 268h2v2h-2zM1632 268h2v2h-2zM1633 268h2v2h-2zM1637 268h2v2h-2zM1638 268h2v2h-2zM1639 268h2v2h-2zM1640 268h2v2h-2zM1641 268h2v2h-2zM1643 268h2v2h-2zM1601 269h2v2h-2zM1609 269h2v2h-2zM1613 269h2v2h-2zM1614 269h2v2h-2zM1618 269h2v2h-2zM1619 269h2v2h-2zM1623 269h2v2h-2zM1626 269h2v2h-2zM1627 269h2v2h-2zM1630 269h2v2h-2zM1634 269h2v2h-2zM1635 269h2v2h-2zM1637 269h2v2h-2zM1638 269h2v2h-2zM1639 269h2v2h-2zM1641 269h2v2h-2zM1643 269h2v2h-2zM1644 269h2v2h-2zM1646 269h2v2h-2zM1609 270h2v2h-2zM1616 270h2v2h-2zM1620 270h2v2h-2zM1621 270h2v2h-2zM1622 270h2v2h-2zM1624 270h2v2h-2zM1625 270h2v2h-2zM1626 270h2v2h-2zM1628 270h2v2h-2zM1629 270h2v2h-2zM1631 270h2v2h-2zM1632 270h2v2h-2zM1636 270h2v2h-2zM1637 270h2v2h-2zM1638 270h2v2h-2zM1640 270h2v2h-2zM1644 270h2v2h-2zM1652 270h2v2h-2zM1600 271h2v2h-2zM1613 271h2v2h-2zM1616 271h2v2h-2zM1619 271h2v2h-2zM1620 271h2v2h-2zM1621 271h2v2h-2zM1622 271h2v2h-2zM1623 271h2v2h-2zM1624 271h2v2h-2zM1625 271h2v2h-2zM1626 271h2v2h-2zM1627 271h2v2h-2zM1628 271h2v2h-2zM1629 271h2v2h-2zM1630 271h2v2h-2zM1632 271h2v2h-2zM1633 271h2v2h-2zM1638 271h2v2h-2zM1640 271h2v2h-2zM1642 271h2v2h-2zM1610 272h2v2h-2zM1616 272h2v2h-2zM1618 272h2v2h-2zM1619 272h2v2h-2zM1621 272h2v2h-2zM1622 272h2v2h-2zM1623 272h2v2h-2zM1624 272h2v2h-2zM1626 272h2v2h-2zM1627 272h2v2h-2zM1628 272h2v2h-2zM1629 272h2v2h-2zM1631 272h2v2h-2zM1632 272h2v2h-2zM1633 272h2v2h-2zM1634 272h2v2h-2zM1635 272h2v2h-2zM1636 272h2v2h-2zM1637 272h2v2h-2zM1638 272h2v2h-2zM1639 272h2v2h-2zM1643 272h2v2h-2zM1599 273h2v2h-2zM1609 273h2v2h-2zM1610 273h2v2h-2zM1612 273h2v2h-2zM1616 273h2v2h-2zM1618 273h2v2h-2zM1619 273h2v2h-2zM1620 273h2v2h-2zM1621 273h2v2h-2zM1623 273h2v2h-2zM1624 273h2v2h-2zM1625 273h2v2h-2zM1627 273h2v2h-2zM1628 273h2v2h-2zM1629 273h2v2h-2zM1631 273h2v2h-2zM1634 273h2v2h-2zM1635 273h2v2h-2zM1637 273h2v2h-2zM1639 273h2v2h-2zM1644 273h2v2h-2zM1609 274h2v2h-2zM1614 274h2v2h-2zM1615 274h2v2h-2zM1617 274h2v2h-2zM1618 274h2v2h-2zM1619 274h2v2h-2zM1622 274h2v2h-2zM1623 274h2v2h-2zM1626 274h2v2h-2zM1627 274h2v2h-2zM1628 274h2v2h-2zM1629 274h2v2h-2zM1631 274h2v2h-2zM1632 274h2v2h-2zM1633 274h2v2h-2zM1637 274h2v2h-2zM1641 274h2v2h-2zM1644 274h2v2h-2zM1645 274h2v2h-2zM1609 275h2v2h-2zM1611 275h2v2h-2zM1613 275h2v2h-2zM1619 275h2v2h-2zM1620 275h2v2h-2zM1621 275h2v2h-2zM1622 275h2v2h-2zM1624 275h2v2h-2zM1625 275h2v2h-2zM1626 275h2v2h-2zM1627 275h2v2h-2zM1630 275h2v2h-2zM1631 275h2v2h-2zM1632 275h2v2h-2zM1633 275h2v2h-2zM1634 275h2v2h-2zM1635 275h2v2h-2zM1637 275h2v2h-2zM1638 275h2v2h-2zM1641 275h2v2h-2zM1644 275h2v2h-2zM1616 276h2v2h-2zM1617 276h2v2h-2zM1618 276h2v2h-2zM1621 276h2v2h-2zM1622 276h2v2h-2zM1623 276h2v2h-2zM1624 276h2v2h-2zM1625 276h2v2h-2zM1627 276h2v2h-2zM1628 276h2v2h-2zM1629 276h2v2h-2zM1631 276h2v2h-2zM1632 276h2v2h-2zM1633 276h2v2h-2zM1634 276h2v2h-2zM1635 276h2v2h-2zM1637 276h2v2h-2zM1650 276h2v2h-2zM1599 277h2v2h-2zM1600 277h2v2h-2zM1604 277h2v2h-2zM1606 277h2v2h-2zM1611 277h2v2h-2zM1615 277h2v2h-2zM1618 277h2v2h-2zM1619 277h2v2h-2zM1620 277h2v2h-2zM1621 277h2v2h-2zM1622 277h2v2h-2zM1624 277h2v2h-2zM1625 277h2v2h-2zM1626 277h2v2h-2zM1627 277h2v2h-2zM1628 277h2v2h-2zM1629 277h2v2h-2zM1632 277h2v2h-2zM1633 277h2v2h-2zM1635 277h2v2h-2zM1636 277h2v2h-2zM1637 277h2v2h-2zM1638 277h2v2h-2zM1599 278h2v2h-2zM1601 278h2v2h-2zM1606 278h2v2h-2zM1608 278h2v2h-2zM1612 278h2v2h-2zM1614 278h2v2h-2zM1616 278h2v2h-2zM1617 278h2v2h-2zM1618 278h2v2h-2zM1619 278h2v2h-2zM1620 278h2v2h-2zM1621 278h2v2h-2zM1622 278h2v2h-2zM1623 278h2v2h-2zM1624 278h2v2h-2zM1625 278h2v2h-2zM1626 278h2v2h-2zM1627 278h2v2h-2zM1628 278h2v2h-2zM1629 278h2v2h-2zM1630 278h2v2h-2zM1631 278h2v2h-2zM1632 278h2v2h-2zM1634 278h2v2h-2zM1655 278h2v2h-2zM1610 279h2v2h-2zM1616 279h2v2h-2zM1617 279h2v2h-2zM1618 279h2v2h-2zM1619 279h2v2h-2zM1620 279h2v2h-2zM1623 279h2v2h-2zM1624 279h2v2h-2zM1625 279h2v2h-2zM1626 279h2v2h-2zM1627 279h2v2h-2zM1629 279h2v2h-2zM1630 279h2v2h-2zM1632 279h2v2h-2zM1633 279h2v2h-2zM1635 279h2v2h-2zM1636 279h2v2h-2zM1587 280h2v2h-2zM1602 280h2v2h-2zM1606 280h2v2h-2zM1609 280h2v2h-2zM1610 280h2v2h-2zM1612 280h2v2h-2zM1617 280h2v2h-2zM1618 280h2v2h-2zM1619 280h2v2h-2zM1620 280h2v2h-2zM1622 280h2v2h-2zM1623 280h2v2h-2zM1625 280h2v2h-2zM1626 280h2v2h-2zM1627 280h2v2h-2zM1628 280h2v2h-2zM1630 280h2v2h-2zM1631 280h2v2h-2zM1636 280h2v2h-2zM1638 280h2v2h-2zM1640 280h2v2h-2zM1643 280h2v2h-2zM1646 280h2v2h-2zM1597 281h2v2h-2zM1600 281h2v2h-2zM1610 281h2v2h-2zM1612 281h2v2h-2zM1613 281h2v2h-2zM1614 281h2v2h-2zM1618 281h2v2h-2zM1619 281h2v2h-2zM1620 281h2v2h-2zM1621 281h2v2h-2zM1622 281h2v2h-2zM1623 281h2v2h-2zM1624 281h2v2h-2zM1625 281h2v2h-2zM1626 281h2v2h-2zM1627 281h2v2h-2zM1629 281h2v2h-2zM1630 281h2v2h-2zM1631 281h2v2h-2zM1634 281h2v2h-2zM1637 281h2v2h-2zM1638 281h2v2h-2zM1640 281h2v2h-2zM1641 281h2v2h-2zM1643 281h2v2h-2zM1581 282h2v2h-2zM1591 282h2v2h-2zM1610 282h2v2h-2zM1611 282h2v2h-2zM1614 282h2v2h-2zM1616 282h2v2h-2zM1618 282h2v2h-2zM1619 282h2v2h-2zM1620 282h2v2h-2zM1622 282h2v2h-2zM1623 282h2v2h-2zM1624 282h2v2h-2zM1626 282h2v2h-2zM1627 282h2v2h-2zM1628 282h2v2h-2zM1629 282h2v2h-2zM1630 282h2v2h-2zM1631 282h2v2h-2zM1632 282h2v2h-2zM1633 282h2v2h-2zM1635 282h2v2h-2zM1648 282h2v2h-2zM1580 283h2v2h-2zM1597 283h2v2h-2zM1607 283h2v2h-2zM1608 283h2v2h-2zM1612 283h2v2h-2zM1613 283h2v2h-2zM1614 283h2v2h-2zM1615 283h2v2h-2zM1616 283h2v2h-2zM1617 283h2v2h-2zM1618 283h2v2h-2zM1619 283h2v2h-2zM1620 283h2v2h-2zM1621 283h2v2h-2zM1622 283h2v2h-2zM1623 283h2v2h-2zM1624 283h2v2h-2zM1625 283h2v2h-2zM1626 283h2v2h-2zM1627 283h2v2h-2zM1629 283h2v2h-2zM1631 283h2v2h-2zM1632 283h2v2h-2zM1637 283h2v2h-2zM1638 283h2v2h-2zM1586 284h2v2h-2zM1606 284h2v2h-2zM1610 284h2v2h-2zM1611 284h2v2h-2zM1613 284h2v2h-2zM1614 284h2v2h-2zM1617 284h2v2h-2zM1619 284h2v2h-2zM1621 284h2v2h-2zM1622 284h2v2h-2zM1623 284h2v2h-2zM1624 284h2v2h-2zM1625 284h2v2h-2zM1626 284h2v2h-2zM1627 284h2v2h-2zM1628 284h2v2h-2zM1631 284h2v2h-2zM1633 284h2v2h-2zM1634 284h2v2h-2zM1637 284h2v2h-2zM1638 284h2v2h-2zM1645 284h2v2h-2zM1647 284h2v2h-2zM1649 284h2v2h-2zM1583 285h2v2h-2zM1595 285h2v2h-2zM1605 285h2v2h-2zM1606 285h2v2h-2zM1610 285h2v2h-2zM1612 285h2v2h-2zM1614 285h2v2h-2zM1617 285h2v2h-2zM1618 285h2v2h-2zM1619 285h2v2h-2zM1620 285h2v2h-2zM1621 285h2v2h-2zM1622 285h2v2h-2zM1623 285h2v2h-2zM1624 285h2v2h-2zM1625 285h2v2h-2zM1627 285h2v2h-2zM1628 285h2v2h-2zM1629 285h2v2h-2zM1633 285h2v2h-2zM1635 285h2v2h-2zM1637 285h2v2h-2zM1638 285h2v2h-2zM1640 285h2v2h-2zM1642 285h2v2h-2zM1596 286h2v2h-2zM1613 286h2v2h-2zM1614 286h2v2h-2zM1615 286h2v2h-2zM1617 286h2v2h-2zM1618 286h2v2h-2zM1619 286h2v2h-2zM1620 286h2v2h-2zM1621 286h2v2h-2zM1622 286h2v2h-2zM1623 286h2v2h-2zM1624 286h2v2h-2zM1625 286h2v2h-2zM1626 286h2v2h-2zM1627 286h2v2h-2zM1629 286h2v2h-2zM1631 286h2v2h-2zM1632 286h2v2h-2zM1633 286h2v2h-2zM1634 286h2v2h-2zM1644 286h2v2h-2zM1586 287h2v2h-2zM1592 287h2v2h-2zM1604 287h2v2h-2zM1607 287h2v2h-2zM1608 287h2v2h-2zM1609 287h2v2h-2zM1610 287h2v2h-2zM1611 287h2v2h-2zM1612 287h2v2h-2zM1613 287h2v2h-2zM1614 287h2v2h-2zM1618 287h2v2h-2zM1619 287h2v2h-2zM1620 287h2v2h-2zM1621 287h2v2h-2zM1622 287h2v2h-2zM1623 287h2v2h-2zM1624 287h2v2h-2zM1625 287h2v2h-2zM1626 287h2v2h-2zM1628 287h2v2h-2zM1629 287h2v2h-2zM1631 287h2v2h-2zM1634 287h2v2h-2zM1637 287h2v2h-2zM1638 287h2v2h-2zM1599 288h2v2h-2zM1600 288h2v2h-2zM1601 288h2v2h-2zM1608 288h2v2h-2zM1609 288h2v2h-2zM1610 288h2v2h-2zM1612 288h2v2h-2zM1615 288h2v2h-2zM1616 288h2v2h-2zM1617 288h2v2h-2zM1619 288h2v2h-2zM1620 288h2v2h-2zM1621 288h2v2h-2zM1623 288h2v2h-2zM1624 288h2v2h-2zM1626 288h2v2h-2zM1627 288h2v2h-2zM1628 288h2v2h-2zM1630 288h2v2h-2zM1633 288h2v2h-2zM1635 288h2v2h-2zM1636 288h2v2h-2zM1639 288h2v2h-2zM1642 288h2v2h-2zM1654 288h2v2h-2zM1579 289h2v2h-2zM1591 289h2v2h-2zM1592 289h2v2h-2zM1596 289h2v2h-2zM1597 289h2v2h-2zM1601 289h2v2h-2zM1606 289h2v2h-2zM1607 289h2v2h-2zM1608 289h2v2h-2zM1609 289h2v2h-2zM1611 289h2v2h-2zM1612 289h2v2h-2zM1614 289h2v2h-2zM1615 289h2v2h-2zM1616 289h2v2h-2zM1618 289h2v2h-2zM1619 289h2v2h-2zM1620 289h2v2h-2zM1621 289h2v2h-2zM1622 289h2v2h-2zM1624 289h2v2h-2zM1625 289h2v2h-2zM1626 289h2v2h-2zM1627 289h2v2h-2zM1628 289h2v2h-2zM1629 289h2v2h-2zM1630 289h2v2h-2zM1631 289h2v2h-2zM1632 289h2v2h-2zM1634 289h2v2h-2zM1640 289h2v2h-2zM1650 289h2v2h-2zM1569 290h2v2h-2zM1606 290h2v2h-2zM1607 290h2v2h-2zM1609 290h2v2h-2zM1611 290h2v2h-2zM1612 290h2v2h-2zM1613 290h2v2h-2zM1614 290h2v2h-2zM1615 290h2v2h-2zM1616 290h2v2h-2zM1617 290h2v2h-2zM1618 290h2v2h-2zM1620 290h2v2h-2zM1621 290h2v2h-2zM1622 290h2v2h-2zM1624 290h2v2h-2zM1625 290h2v2h-2zM1626 290h2v2h-2zM1627 290h2v2h-2zM1628 290h2v2h-2zM1631 290h2v2h-2zM1632 290h2v2h-2zM1633 290h2v2h-2zM1635 290h2v2h-2zM1636 290h2v2h-2zM1638 290h2v2h-2zM1653 290h2v2h-2zM1575 291h2v2h-2zM1596 291h2v2h-2zM1600 291h2v2h-2zM1603 291h2v2h-2zM1604 291h2v2h-2zM1605 291h2v2h-2zM1607 291h2v2h-2zM1608 291h2v2h-2zM1610 291h2v2h-2zM1613 291h2v2h-2zM1615 291h2v2h-2zM1616 291h2v2h-2zM1617 291h2v2h-2zM1619 291h2v2h-2zM1620 291h2v2h-2zM1621 291h2v2h-2zM1622 291h2v2h-2zM1623 291h2v2h-2zM1624 291h2v2h-2zM1626 291h2v2h-2zM1627 291h2v2h-2zM1629 291h2v2h-2zM1631 291h2v2h-2zM1633 291h2v2h-2zM1638 291h2v2h-2zM1646 291h2v2h-2zM1590 292h2v2h-2zM1604 292h2v2h-2zM1606 292h2v2h-2zM1607 292h2v2h-2zM1609 292h2v2h-2zM1610 292h2v2h-2zM1611 292h2v2h-2zM1613 292h2v2h-2zM1614 292h2v2h-2zM1616 292h2v2h-2zM1617 292h2v2h-2zM1618 292h2v2h-2zM1620 292h2v2h-2zM1621 292h2v2h-2zM1622 292h2v2h-2zM1624 292h2v2h-2zM1625 292h2v2h-2zM1629 292h2v2h-2zM1631 292h2v2h-2zM1634 292h2v2h-2zM1635 292h2v2h-2zM1637 292h2v2h-2zM1593 293h2v2h-2zM1600 293h2v2h-2zM1601 293h2v2h-2zM1602 293h2v2h-2zM1609 293h2v2h-2zM1611 293h2v2h-2zM1612 293h2v2h-2zM1613 293h2v2h-2zM1614 293h2v2h-2zM1615 293h2v2h-2zM1617 293h2v2h-2zM1618 293h2v2h-2zM1619 293h2v2h-2zM1620 293h2v2h-2zM1621 293h2v2h-2zM1622 293h2v2h-2zM1623 293h2v2h-2zM1624 293h2v2h-2zM1625 293h2v2h-2zM1626 293h2v2h-2zM1628 293h2v2h-2zM1629 293h2v2h-2zM1630 293h2v2h-2zM1631 293h2v2h-2zM1632 293h2v2h-2zM1633 293h2v2h-2zM1635 293h2v2h-2zM1636 293h2v2h-2zM1637 293h2v2h-2zM1643 293h2v2h-2zM1573 294h2v2h-2zM1585 294h2v2h-2zM1598 294h2v2h-2zM1599 294h2v2h-2zM1607 294h2v2h-2zM1610 294h2v2h-2zM1611 294h2v2h-2zM1612 294h2v2h-2zM1613 294h2v2h-2zM1615 294h2v2h-2zM1616 294h2v2h-2zM1617 294h2v2h-2zM1618 294h2v2h-2zM1619 294h2v2h-2zM1621 294h2v2h-2zM1622 294h2v2h-2zM1623 294h2v2h-2zM1624 294h2v2h-2zM1625 294h2v2h-2zM1627 294h2v2h-2zM1628 294h2v2h-2zM1630 294h2v2h-2zM1632 294h2v2h-2zM1633 294h2v2h-2zM1634 294h2v2h-2zM1638 294h2v2h-2zM1640 294h2v2h-2zM1568 295h2v2h-2zM1578 295h2v2h-2zM1580 295h2v2h-2zM1587 295h2v2h-2zM1595 295h2v2h-2zM1596 295h2v2h-2zM1599 295h2v2h-2zM1600 295h2v2h-2zM1601 295h2v2h-2zM1607 295h2v2h-2zM1608 295h2v2h-2zM1609 295h2v2h-2zM1610 295h2v2h-2zM1612 295h2v2h-2zM1614 295h2v2h-2zM1615 295h2v2h-2zM1616 295h2v2h-2zM1617 295h2v2h-2zM1618 295h2v2h-2zM1619 295h2v2h-2zM1620 295h2v2h-2zM1621 295h2v2h-2zM1622 295h2v2h-2zM1623 295h2v2h-2zM1624 295h2v2h-2zM1625 295h2v2h-2zM1629 295h2v2h-2zM1637 295h2v2h-2zM1642 295h2v2h-2zM1586 296h2v2h-2zM1598 296h2v2h-2zM1600 296h2v2h-2zM1602 296h2v2h-2zM1604 296h2v2h-2zM1606 296h2v2h-2zM1610 296h2v2h-2zM1612 296h2v2h-2zM1613 296h2v2h-2zM1614 296h2v2h-2zM1615 296h2v2h-2zM1616 296h2v2h-2zM1617 296h2v2h-2zM1618 296h2v2h-2zM1620 296h2v2h-2zM1622 296h2v2h-2zM1623 296h2v2h-2zM1625 296h2v2h-2zM1626 296h2v2h-2zM1627 296h2v2h-2zM1628 296h2v2h-2zM1629 296h2v2h-2zM1630 296h2v2h-2zM1634 296h2v2h-2zM1636 296h2v2h-2zM1640 296h2v2h-2zM1595 297h2v2h-2zM1596 297h2v2h-2zM1598 297h2v2h-2zM1599 297h2v2h-2zM1602 297h2v2h-2zM1607 297h2v2h-2zM1608 297h2v2h-2zM1609 297h2v2h-2zM1610 297h2v2h-2zM1612 297h2v2h-2zM1613 297h2v2h-2zM1614 297h2v2h-2zM1615 297h2v2h-2zM1617 297h2v2h-2zM1618 297h2v2h-2zM1619 297h2v2h-2zM1620 297h2v2h-2zM1621 297h2v2h-2zM1622 297h2v2h-2zM1624 297h2v2h-2zM1625 297h2v2h-2zM1627 297h2v2h-2zM1628 297h2v2h-2zM1629 297h2v2h-2zM1630 297h2v2h-2zM1633 297h2v2h-2zM1635 297h2v2h-2zM1640 297h2v2h-2zM1594 298h2v2h-2zM1596 298h2v2h-2zM1599 298h2v2h-2zM1602 298h2v2h-2zM1605 298h2v2h-2zM1606 298h2v2h-2zM1608 298h2v2h-2zM1610 298h2v2h-2zM1611 298h2v2h-2zM1612 298h2v2h-2zM1613 298h2v2h-2zM1614 298h2v2h-2zM1615 298h2v2h-2zM1616 298h2v2h-2zM1617 298h2v2h-2zM1618 298h2v2h-2zM1619 298h2v2h-2zM1621 298h2v2h-2zM1622 298h2v2h-2zM1623 298h2v2h-2zM1624 298h2v2h-2zM1625 298h2v2h-2zM1626 298h2v2h-2zM1629 298h2v2h-2zM1630 298h2v2h-2zM1631 298h2v2h-2zM1633 298h2v2h-2zM1634 298h2v2h-2zM1637 298h2v2h-2zM1642 298h2v2h-2zM1574 299h2v2h-2zM1586 299h2v2h-2zM1593 299h2v2h-2zM1600 299h2v2h-2zM1601 299h2v2h-2zM1602 299h2v2h-2zM1607 299h2v2h-2zM1608 299h2v2h-2zM1609 299h2v2h-2zM1611 299h2v2h-2zM1612 299h2v2h-2zM1613 299h2v2h-2zM1614 299h2v2h-2zM1615 299h2v2h-2zM1616 299h2v2h-2zM1617 299h2v2h-2zM1618 299h2v2h-2zM1619 299h2v2h-2zM1620 299h2v2h-2zM1621 299h2v2h-2zM1622 299h2v2h-2zM1624 299h2v2h-2zM1627 299h2v2h-2zM1628 299h2v2h-2zM1629 299h2v2h-2zM1632 299h2v2h-2zM1633 299h2v2h-2zM1644 299h2v2h-2zM1571 300h2v2h-2zM1585 300h2v2h-2zM1595 300h2v2h-2zM1600 300h2v2h-2zM1603 300h2v2h-2zM1605 300h2v2h-2zM1606 300h2v2h-2zM1608 300h2v2h-2zM1609 300h2v2h-2zM1611 300h2v2h-2zM1612 300h2v2h-2zM1613 300h2v2h-2zM1614 300h2v2h-2zM1615 300h2v2h-2zM1616 300h2v2h-2zM1617 300h2v2h-2zM1618 300h2v2h-2zM1620 300h2v2h-2zM1624 300h2v2h-2zM1625 300h2v2h-2zM1626 300h2v2h-2zM1627 300h2v2h-2zM1628 300h2v2h-2zM1629 300h2v2h-2zM1630 300h2v2h-2zM1632 300h2v2h-2zM1642 300h2v2h-2zM1579 301h2v2h-2zM1583 301h2v2h-2zM1591 301h2v2h-2zM1600 301h2v2h-2zM1601 301h2v2h-2zM1605 301h2v2h-2zM1608 301h2v2h-2zM1609 301h2v2h-2zM1610 301h2v2h-2zM1611 301h2v2h-2zM1613 301h2v2h-2zM1615 301h2v2h-2zM1616 301h2v2h-2zM1617 301h2v2h-2zM1618 301h2v2h-2zM1619 301h2v2h-2zM1620 301h2v2h-2zM1621 301h2v2h-2zM1622 301h2v2h-2zM1626 301h2v2h-2zM1627 301h2v2h-2zM1634 301h2v2h-2zM1637 301h2v2h-2zM1638 301h2v2h-2zM1639 301h2v2h-2zM1644 301h2v2h-2zM1577 302h2v2h-2zM1579 302h2v2h-2zM1598 302h2v2h-2zM1602 302h2v2h-2zM1603 302h2v2h-2zM1604 302h2v2h-2zM1605 302h2v2h-2zM1608 302h2v2h-2zM1610 302h2v2h-2zM1613 302h2v2h-2zM1615 302h2v2h-2zM1616 302h2v2h-2zM1617 302h2v2h-2zM1618 302h2v2h-2zM1619 302h2v2h-2zM1620 302h2v2h-2zM1621 302h2v2h-2zM1622 302h2v2h-2zM1623 302h2v2h-2zM1625 302h2v2h-2zM1626 302h2v2h-2zM1627 302h2v2h-2zM1628 302h2v2h-2zM1630 302h2v2h-2zM1632 302h2v2h-2zM1635 302h2v2h-2zM1572 303h2v2h-2zM1590 303h2v2h-2zM1595 303h2v2h-2zM1601 303h2v2h-2zM1603 303h2v2h-2zM1605 303h2v2h-2zM1606 303h2v2h-2zM1607 303h2v2h-2zM1608 303h2v2h-2zM1609 303h2v2h-2zM1610 303h2v2h-2zM1612 303h2v2h-2zM1613 303h2v2h-2zM1614 303h2v2h-2zM1616 303h2v2h-2zM1617 303h2v2h-2zM1619 303h2v2h-2zM1621 303h2v2h-2zM1623 303h2v2h-2zM1624 303h2v2h-2zM1626 303h2v2h-2zM1627 303h2v2h-2zM1628 303h2v2h-2zM1632 303h2v2h-2zM1638 303h2v2h-2zM1565 304h2v2h-2zM1574 304h2v2h-2zM1582 304h2v2h-2zM1591 304h2v2h-2zM1592 304h2v2h-2zM1595 304h2v2h-2zM1597 304h2v2h-2zM1599 304h2v2h-2zM1601 304h2v2h-2zM1602 304h2v2h-2zM1603 304h2v2h-2zM1605 304h2v2h-2zM1606 304h2v2h-2zM1608 304h2v2h-2zM1611 304h2v2h-2zM1612 304h2v2h-2zM1613 304h2v2h-2zM1614 304h2v2h-2zM1615 304h2v2h-2zM1616 304h2v2h-2zM1617 304h2v2h-2zM1618 304h2v2h-2zM1619 304h2v2h-2zM1620 304h2v2h-2zM1621 304h2v2h-2zM1622 304h2v2h-2zM1623 304h2v2h-2zM1624 304h2v2h-2zM1625 304h2v2h-2zM1627 304h2v2h-2zM1631 304h2v2h-2zM1632 304h2v2h-2zM1644 304h2v2h-2zM1646 304h2v2h-2zM1598 305h2v2h-2zM1599 305h2v2h-2zM1601 305h2v2h-2zM1602 305h2v2h-2zM1604 305h2v2h-2zM1605 305h2v2h-2zM1606 305h2v2h-2zM1607 305h2v2h-2zM1608 305h2v2h-2zM1610 305h2v2h-2zM1612 305h2v2h-2zM1614 305h2v2h-2zM1616 305h2v2h-2zM1617 305h2v2h-2zM1618 305h2v2h-2zM1619 305h2v2h-2zM1620 305h2v2h-2zM1622 305h2v2h-2zM1623 305h2v2h-2zM1624 305h2v2h-2zM1625 305h2v2h-2zM1626 305h2v2h-2zM1627 305h2v2h-2zM1628 305h2v2h-2zM1629 305h2v2h-2zM1630 305h2v2h-2zM1646 305h2v2h-2zM1573 306h2v2h-2zM1577 306h2v2h-2zM1588 306h2v2h-2zM1592 306h2v2h-2zM1595 306h2v2h-2zM1598 306h2v2h-2zM1599 306h2v2h-2zM1601 306h2v2h-2zM1604 306h2v2h-2zM1606 306h2v2h-2zM1608 306h2v2h-2zM1609 306h2v2h-2zM1610 306h2v2h-2zM1611 306h2v2h-2zM1612 306h2v2h-2zM1613 306h2v2h-2zM1614 306h2v2h-2zM1617 306h2v2h-2zM1618 306h2v2h-2zM1620 306h2v2h-2zM1621 306h2v2h-2zM1623 306h2v2h-2zM1624 306h2v2h-2zM1625 306h2v2h-2zM1626 306h2v2h-2zM1627 306h2v2h-2zM1629 306h2v2h-2zM1630 306h2v2h-2zM1633 306h2v2h-2zM1634 306h2v2h-2zM1572 307h2v2h-2zM1585 307h2v2h-2zM1592 307h2v2h-2zM1594 307h2v2h-2zM1595 307h2v2h-2zM1601 307h2v2h-2zM1602 307h2v2h-2zM1603 307h2v2h-2zM1604 307h2v2h-2zM1605 307h2v2h-2zM1607 307h2v2h-2zM1608 307h2v2h-2zM1611 307h2v2h-2zM1612 307h2v2h-2zM1613 307h2v2h-2zM1614 307h2v2h-2zM1615 307h2v2h-2zM1617 307h2v2h-2zM1618 307h2v2h-2zM1619 307h2v2h-2zM1623 307h2v2h-2zM1624 307h2v2h-2zM1625 307h2v2h-2zM1630 307h2v2h-2zM1632 307h2v2h-2zM1637 307h2v2h-2zM1640 307h2v2h-2zM1573 308h2v2h-2zM1579 308h2v2h-2zM1582 308h2v2h-2zM1584 308h2v2h-2zM1585 308h2v2h-2zM1589 308h2v2h-2zM1590 308h2v2h-2zM1596 308h2v2h-2zM1597 308h2v2h-2zM1599 308h2v2h-2zM1602 308h2v2h-2zM1606 308h2v2h-2zM1609 308h2v2h-2zM1610 308h2v2h-2zM1611 308h2v2h-2zM1612 308h2v2h-2zM1614 308h2v2h-2zM1615 308h2v2h-2zM1616 308h2v2h-2zM1618 308h2v2h-2zM1621 308h2v2h-2zM1624 308h2v2h-2zM1625 308h2v2h-2zM1626 308h2v2h-2zM1631 308h2v2h-2zM1634 308h2v2h-2zM1636 308h2v2h-2zM1569 309h2v2h-2zM1574 309h2v2h-2zM1582 309h2v2h-2zM1585 309h2v2h-2zM1596 309h2v2h-2zM1598 309h2v2h-2zM1601 309h2v2h-2zM1604 309h2v2h-2zM1605 309h2v2h-2zM1606 309h2v2h-2zM1607 309h2v2h-2zM1608 309h2v2h-2zM1609 309h2v2h-2zM1610 309h2v2h-2zM1611 309h2v2h-2zM1612 309h2v2h-2zM1613 309h2v2h-2zM1614 309h2v2h-2zM1615 309h2v2h-2zM1618 309h2v2h-2zM1620 309h2v2h-2zM1621 309h2v2h-2zM1622 309h2v2h-2zM1623 309h2v2h-2zM1625 309h2v2h-2zM1627 309h2v2h-2zM1628 309h2v2h-2zM1630 309h2v2h-2zM1631 309h2v2h-2zM1634 309h2v2h-2zM1643 309h2v2h-2zM1571 310h2v2h-2zM1581 310h2v2h-2zM1585 310h2v2h-2zM1587 310h2v2h-2zM1589 310h2v2h-2zM1596 310h2v2h-2zM1598 310h2v2h-2zM1601 310h2v2h-2zM1603 310h2v2h-2zM1604 310h2v2h-2zM1605 310h2v2h-2zM1606 310h2v2h-2zM1608 310h2v2h-2zM1609 310h2v2h-2zM1611 310h2v2h-2zM1614 310h2v2h-2zM1615 310h2v2h-2zM1619 310h2v2h-2zM1620 310h2v2h-2zM1621 310h2v2h-2zM1623 310h2v2h-2zM1624 310h2v2h-2zM1625 310h2v2h-2zM1627 310h2v2h-2zM1629 310h2v2h-2zM1635 310h2v2h-2zM1577 311h2v2h-2zM1580 311h2v2h-2zM1587 311h2v2h-2zM1591 311h2v2h-2zM1593 311h2v2h-2zM1595 311h2v2h-2zM1596 311h2v2h-2zM1600 311h2v2h-2zM1602 311h2v2h-2zM1603 311h2v2h-2zM1604 311h2v2h-2zM1605 311h2v2h-2zM1607 311h2v2h-2zM1608 311h2v2h-2zM1610 311h2v2h-2zM1611 311h2v2h-2zM1612 311h2v2h-2zM1613 311h2v2h-2zM1614 311h2v2h-2zM1615 311h2v2h-2zM1619 311h2v2h-2zM1621 311h2v2h-2zM1624 311h2v2h-2zM1626 311h2v2h-2zM1629 311h2v2h-2zM1635 311h2v2h-2zM1636 311h2v2h-2zM1640 311h2v2h-2zM1567 312h2v2h-2zM1570 312h2v2h-2zM1590 312h2v2h-2zM1595 312h2v2h-2zM1596 312h2v2h-2zM1602 312h2v2h-2zM1603 312h2v2h-2zM1604 312h2v2h-2zM1605 312h2v2h-2zM1608 312h2v2h-2zM1609 312h2v2h-2zM1610 312h2v2h-2zM1611 312h2v2h-2zM1615 312h2v2h-2zM1616 312h2v2h-2zM1617 312h2v2h-2zM1618 312h2v2h-2zM1619 312h2v2h-2zM1621 312h2v2h-2zM1622 312h2v2h-2zM1624 312h2v2h-2zM1625 312h2v2h-2zM1627 312h2v2h-2zM1635 312h2v2h-2zM1638 312h2v2h-2zM1639 312h2v2h-2zM1566 313h2v2h-2zM1572 313h2v2h-2zM1584 313h2v2h-2zM1595 313h2v2h-2zM1601 313h2v2h-2zM1602 313h2v2h-2zM1603 313h2v2h-2zM1604 313h2v2h-2zM1605 313h2v2h-2zM1608 313h2v2h-2zM1609 313h2v2h-2zM1610 313h2v2h-2zM1611 313h2v2h-2zM1612 313h2v2h-2zM1613 313h2v2h-2zM1614 313h2v2h-2zM1616 313h2v2h-2zM1618 313h2v2h-2zM1619 313h2v2h-2zM1621 313h2v2h-2zM1622 313h2v2h-2zM1623 313h2v2h-2zM1625 313h2v2h-2zM1626 313h2v2h-2zM1627 313h2v2h-2zM1628 313h2v2h-2zM1629 313h2v2h-2zM1630 313h2v2h-2zM1653 313h2v2h-2zM1562 314h2v2h-2zM1566 314h2v2h-2zM1574 314h2v2h-2zM1580 314h2v2h-2zM1589 314h2v2h-2zM1593 314h2v2h-2zM1594 314h2v2h-2zM1596 314h2v2h-2zM1599 314h2v2h-2zM1600 314h2v2h-2zM1602 314h2v2h-2zM1603 314h2v2h-2zM1606 314h2v2h-2zM1607 314h2v2h-2zM1608 314h2v2h-2zM1610 314h2v2h-2zM1611 314h2v2h-2zM1612 314h2v2h-2zM1613 314h2v2h-2zM1614 314h2v2h-2zM1615 314h2v2h-2zM1616 314h2v2h-2zM1617 314h2v2h-2zM1618 314h2v2h-2zM1619 314h2v2h-2zM1620 314h2v2h-2zM1622 314h2v2h-2zM1623 314h2v2h-2zM1625 314h2v2h-2zM1628 314h2v2h-2zM1629 314h2v2h-2zM1630 314h2v2h-2zM1633 314h2v2h-2zM1563 315h2v2h-2zM1565 315h2v2h-2zM1566 315h2v2h-2zM1585 315h2v2h-2zM1590 315h2v2h-2zM1592 315h2v2h-2zM1595 315h2v2h-2zM1596 315h2v2h-2zM1601 315h2v2h-2zM1602 315h2v2h-2zM1603 315h2v2h-2zM1605 315h2v2h-2zM1607 315h2v2h-2zM1609 315h2v2h-2zM1610 315h2v2h-2zM1611 315h2v2h-2zM1612 315h2v2h-2zM1614 315h2v2h-2zM1615 315h2v2h-2zM1617 315h2v2h-2zM1618 315h2v2h-2zM1619 315h2v2h-2zM1620 315h2v2h-2zM1621 315h2v2h-2zM1623 315h2v2h-2zM1627 315h2v2h-2zM1629 315h2v2h-2zM1630 315h2v2h-2zM1634 315h2v2h-2zM1568 316h2v2h-2zM1576 316h2v2h-2zM1581 316h2v2h-2zM1583 316h2v2h-2zM1587 316h2v2h-2zM1591 316h2v2h-2zM1594 316h2v2h-2zM1596 316h2v2h-2zM1597 316h2v2h-2zM1598 316h2v2h-2zM1602 316h2v2h-2zM1603 316h2v2h-2zM1604 316h2v2h-2zM1606 316h2v2h-2zM1607 316h2v2h-2zM1608 316h2v2h-2zM1610 316h2v2h-2zM1612 316h2v2h-2zM1614 316h2v2h-2zM1615 316h2v2h-2zM1616 316h2v2h-2zM1617 316h2v2h-2zM1618 316h2v2h-2zM1619 316h2v2h-2zM1620 316h2v2h-2zM1622 316h2v2h-2zM1623 316h2v2h-2zM1624 316h2v2h-2zM1625 316h2v2h-2zM1627 316h2v2h-2zM1631 316h2v2h-2zM1632 316h2v2h-2zM1633 316h2v2h-2zM1571 317h2v2h-2zM1578 317h2v2h-2zM1583 317h2v2h-2zM1586 317h2v2h-2zM1589 317h2v2h-2zM1591 317h2v2h-2zM1592 317h2v2h-2zM1593 317h2v2h-2zM1594 317h2v2h-2zM1597 317h2v2h-2zM1599 317h2v2h-2zM1602 317h2v2h-2zM1603 317h2v2h-2zM1604 317h2v2h-2zM1606 317h2v2h-2zM1607 317h2v2h-2zM1608 317h2v2h-2zM1609 317h2v2h-2zM1610 317h2v2h-2zM1611 317h2v2h-2zM1612 317h2v2h-2zM1613 317h2v2h-2zM1615 317h2v2h-2zM1616 317h2v2h-2zM1617 317h2v2h-2zM1618 317h2v2h-2zM1624 317h2v2h-2zM1627 317h2v2h-2zM1631 317h2v2h-2zM1640 317h2v2h-2zM1561 318h2v2h-2zM1576 318h2v2h-2zM1577 318h2v2h-2zM1593 318h2v2h-2zM1594 318h2v2h-2zM1595 318h2v2h-2zM1596 318h2v2h-2zM1597 318h2v2h-2zM1600 318h2v2h-2zM1605 318h2v2h-2zM1606 318h2v2h-2zM1607 318h2v2h-2zM1608 318h2v2h-2zM1609 318h2v2h-2zM1610 318h2v2h-2zM1611 318h2v2h-2zM1612 318h2v2h-2zM1613 318h2v2h-2zM1614 318h2v2h-2zM1620 318h2v2h-2zM1624 318h2v2h-2zM1628 318h2v2h-2zM1630 318h2v2h-2zM1633 318h2v2h-2zM1634 318h2v2h-2zM1566 319h2v2h-2zM1575 319h2v2h-2zM1577 319h2v2h-2zM1578 319h2v2h-2zM1579 319h2v2h-2zM1593 319h2v2h-2zM1596 319h2v2h-2zM1597 319h2v2h-2zM1598 319h2v2h-2zM1600 319h2v2h-2zM1601 319h2v2h-2zM1602 319h2v2h-2zM1604 319h2v2h-2zM1605 319h2v2h-2zM1606 319h2v2h-2zM1607 319h2v2h-2zM1612 319h2v2h-2zM1613 319h2v2h-2zM1614 319h2v2h-2zM1615 319h2v2h-2zM1616 319h2v2h-2zM1618 319h2v2h-2zM1620 319h2v2h-2zM1621 319h2v2h-2zM1623 319h2v2h-2zM1624 319h2v2h-2zM1625 319h2v2h-2zM1626 319h2v2h-2zM1629 319h2v2h-2zM1565 320h2v2h-2zM1577 320h2v2h-2zM1580 320h2v2h-2zM1582 320h2v2h-2zM1592 320h2v2h-2zM1596 320h2v2h-2zM1598 320h2v2h-2zM1600 320h2v2h-2zM1601 320h2v2h-2zM1602 320h2v2h-2zM1603 320h2v2h-2zM1605 320h2v2h-2zM1606 320h2v2h-2zM1607 320h2v2h-2zM1608 320h2v2h-2zM1609 320h2v2h-2zM1610 320h2v2h-2zM1611 320h2v2h-2zM1612 320h2v2h-2zM1613 320h2v2h-2zM1614 320h2v2h-2zM1616 320h2v2h-2zM1617 320h2v2h-2zM1619 320h2v2h-2zM1620 320h2v2h-2zM1621 320h2v2h-2zM1622 320h2v2h-2zM1623 320h2v2h-2zM1625 320h2v2h-2zM1628 320h2v2h-2zM1630 320h2v2h-2zM1632 320h2v2h-2zM1635 320h2v2h-2zM1559 321h2v2h-2zM1573 321h2v2h-2zM1578 321h2v2h-2zM1587 321h2v2h-2zM1591 321h2v2h-2zM1598 321h2v2h-2zM1599 321h2v2h-2zM1600 321h2v2h-2zM1601 321h2v2h-2zM1603 321h2v2h-2zM1605 321h2v2h-2zM1606 321h2v2h-2zM1607 321h2v2h-2zM1609 321h2v2h-2zM1610 321h2v2h-2zM1611 321h2v2h-2zM1612 321h2v2h-2zM1613 321h2v2h-2zM1614 321h2v2h-2zM1615 321h2v2h-2zM1616 321h2v2h-2zM1618 321h2v2h-2zM1619 321h2v2h-2zM1620 321h2v2h-2zM1621 321h2v2h-2zM1622 321h2v2h-2zM1623 321h2v2h-2zM1624 321h2v2h-2zM1625 321h2v2h-2zM1626 321h2v2h-2zM1630 321h2v2h-2zM1632 321h2v2h-2zM1576 322h2v2h-2zM1594 322h2v2h-2zM1596 322h2v2h-2zM1601 322h2v2h-2zM1603 322h2v2h-2zM1604 322h2v2h-2zM1605 322h2v2h-2zM1607 322h2v2h-2zM1608 322h2v2h-2zM1609 322h2v2h-2zM1610 322h2v2h-2zM1611 322h2v2h-2zM1615 322h2v2h-2zM1617 322h2v2h-2zM1620 322h2v2h-2zM1621 322h2v2h-2zM1625 322h2v2h-2zM1626 322h2v2h-2zM1627 322h2v2h-2zM1628 322h2v2h-2zM1633 322h2v2h-2zM1565 323h2v2h-2zM1571 323h2v2h-2zM1585 323h2v2h-2zM1589 323h2v2h-2zM1591 323h2v2h-2zM1595 323h2v2h-2zM1599 323h2v2h-2zM1600 323h2v2h-2zM1602 323h2v2h-2zM1603 323h2v2h-2zM1604 323h2v2h-2zM1605 323h2v2h-2zM1606 323h2v2h-2zM1607 323h2v2h-2zM1608 323h2v2h-2zM1610 323h2v2h-2zM1613 323h2v2h-2zM1614 323h2v2h-2zM1615 323h2v2h-2zM1616 323h2v2h-2zM1617 323h2v2h-2zM1619 323h2v2h-2zM1620 323h2v2h-2zM1621 323h2v2h-2zM1622 323h2v2h-2zM1623 323h2v2h-2zM1567 324h2v2h-2zM1569 324h2v2h-2zM1580 324h2v2h-2zM1581 324h2v2h-2zM1586 324h2v2h-2zM1590 324h2v2h-2zM1595 324h2v2h-2zM1603 324h2v2h-2zM1607 324h2v2h-2zM1609 324h2v2h-2zM1610 324h2v2h-2zM1611 324h2v2h-2zM1612 324h2v2h-2zM1613 324h2v2h-2zM1614 324h2v2h-2zM1615 324h2v2h-2zM1616 324h2v2h-2zM1617 324h2v2h-2zM1618 324h2v2h-2zM1619 324h2v2h-2zM1620 324h2v2h-2zM1621 324h2v2h-2zM1623 324h2v2h-2zM1626 324h2v2h-2zM1627 324h2v2h-2zM1628 324h2v2h-2zM1640 324h2v2h-2zM1564 325h2v2h-2zM1574 325h2v2h-2zM1581 325h2v2h-2zM1583 325h2v2h-2zM1594 325h2v2h-2zM1603 325h2v2h-2zM1605 325h2v2h-2zM1606 325h2v2h-2zM1607 325h2v2h-2zM1608 325h2v2h-2zM1609 325h2v2h-2zM1610 325h2v2h-2zM1611 325h2v2h-2zM1612 325h2v2h-2zM1613 325h2v2h-2zM1614 325h2v2h-2zM1617 325h2v2h-2zM1618 325h2v2h-2zM1619 325h2v2h-2zM1623 325h2v2h-2zM1625 325h2v2h-2zM1628 325h2v2h-2zM1633 325h2v2h-2zM1565 326h2v2h-2zM1572 326h2v2h-2zM1578 326h2v2h-2zM1581 326h2v2h-2zM1589 326h2v2h-2zM1596 326h2v2h-2zM1603 326h2v2h-2zM1604 326h2v2h-2zM1605 326h2v2h-2zM1606 326h2v2h-2zM1607 326h2v2h-2zM1608 326h2v2h-2zM1609 326h2v2h-2zM1610 326h2v2h-2zM1611 326h2v2h-2zM1612 326h2v2h-2zM1613 326h2v2h-2zM1614 326h2v2h-2zM1615 326h2v2h-2zM1616 326h2v2h-2zM1617 326h2v2h-2zM1620 326h2v2h-2zM1621 326h2v2h-2zM1624 326h2v2h-2zM1625 326h2v2h-2zM1630 326h2v2h-2zM1631 326h2v2h-2zM1653 326h2v2h-2zM1563 327h2v2h-2zM1564 327h2v2h-2zM1571 327h2v2h-2zM1572 327h2v2h-2zM1577 327h2v2h-2zM1589 327h2v2h-2zM1604 327h2v2h-2zM1606 327h2v2h-2zM1607 327h2v2h-2zM1608 327h2v2h-2zM1610 327h2v2h-2zM1614 327h2v2h-2zM1616 327h2v2h-2zM1617 327h2v2h-2zM1618 327h2v2h-2zM1620 327h2v2h-2zM1624 327h2v2h-2zM1626 327h2v2h-2zM1580 328h2v2h-2zM1587 328h2v2h-2zM1593 328h2v2h-2zM1599 328h2v2h-2zM1603 328h2v2h-2zM1608 328h2v2h-2zM1609 328h2v2h-2zM1610 328h2v2h-2zM1612 328h2v2h-2zM1614 328h2v2h-2zM1615 328h2v2h-2zM1616 328h2v2h-2zM1617 328h2v2h-2zM1620 328h2v2h-2zM1623 328h2v2h-2zM1625 328h2v2h-2zM1627 328h2v2h-2zM1638 328h2v2h-2zM1581 329h2v2h-2zM1591 329h2v2h-2zM1596 329h2v2h-2zM1597 329h2v2h-2zM1605 329h2v2h-2zM1610 329h2v2h-2zM1611 329h2v2h-2zM1612 329h2v2h-2zM1613 329h2v2h-2zM1614 329h2v2h-2zM1616 329h2v2h-2zM1619 329h2v2h-2zM1620 329h2v2h-2zM1622 329h2v2h-2zM1624 329h2v2h-2zM1626 329h2v2h-2zM1559 330h2v2h-2zM1569 330h2v2h-2zM1576 330h2v2h-2zM1588 330h2v2h-2zM1590 330h2v2h-2zM1604 330h2v2h-2zM1608 330h2v2h-2zM1615 330h2v2h-2zM1617 330h2v2h-2zM1618 330h2v2h-2zM1619 330h2v2h-2zM1620 330h2v2h-2zM1629 330h2v2h-2zM1585 331h2v2h-2zM1603 331h2v2h-2zM1608 331h2v2h-2zM1616 331h2v2h-2zM1617 331h2v2h-2zM1618 331h2v2h-2zM1620 331h2v2h-2zM1622 331h2v2h-2zM1633 331h2v2h-2zM1566 332h2v2h-2zM1577 332h2v2h-2zM1579 332h2v2h-2zM1594 332h2v2h-2zM1608 332h2v2h-2zM1609 332h2v2h-2zM1623 332h2v2h-2zM1625 332h2v2h-2zM1626 332h2v2h-2zM1628 332h2v2h-2zM1560 333h2v2h-2zM1583 333h2v2h-2zM1584 333h2v2h-2zM1598 333h2v2h-2zM1609 333h2v2h-2zM1610 333h2v2h-2zM1617 333h2v2h-2zM1625 333h2v2h-2zM1626 333h2v2h-2zM1636 333h2v2h-2zM1587 334h2v2h-2zM1594 334h2v2h-2zM1595 334h2v2h-2zM1599 334h2v2h-2zM1605 334h2v2h-2zM1610 334h2v2h-2zM1613 334h2v2h-2zM1617 334h2v2h-2zM1558 335h2v2h-2zM1560 335h2v2h-2zM1584 335h2v2h-2zM1603 335h2v2h-2zM1608 335h2v2h-2zM1614 335h2v2h-2zM1622 335h2v2h-2zM1628 335h2v2h-2zM1630 335h2v2h-2zM1637 335h2v2h-2zM1573 336h2v2h-2zM1587 336h2v2h-2zM1589 336h2v2h-2zM1610 336h2v2h-2zM1634 336h2v2h-2zM1572 337h2v2h-2zM1590 337h2v2h-2zM1595 337h2v2h-2zM1599 337h2v2h-2zM1602 337h2v2h-2zM1605 337h2v2h-2zM1570 338h2v2h-2zM1573 338h2v2h-2zM1587 338h2v2h-2zM1605 338h2v2h-2zM1564 339h2v2h-2zM1573 339h2v2h-2zM1585 339h2v2h-2zM1589 339h2v2h-2zM1596 339h2v2h-2zM1601 339h2v2h-2zM1602 339h2v2h-2zM1613 339h2v2h-2zM1553 340h2v2h-2zM1578 340h2v2h-2zM1598 340h2v2h-2zM1590 341h2v2h-2zM1595 341h2v2h-2zM1598 341h2v2h-2zM1571 342h2v2h-2zM1582 342h2v2h-2zM1594 342h2v2h-2zM1618 342h2v2h-2zM1574 343h2v2h-2zM1579 343h2v2h-2zM1585 343h2v2h-2zM1591 343h2v2h-2z" fill="#008a00"/>
<polygon points="1589.0,238.8 1656.0,238.8 1656.0,344.5 1551.0,344.5" fill="none" stroke="#1f8c1f" stroke-width="2"/>
<text x="1555.2" y="207.3" font-size="18" fill="#138a13" textLength="20.6" lengthAdjust="spacingAndGlyphs">P2</text>
<text x="1555" y="227.6" font-size="18" fill="#138a13" textLength="55.54" lengthAdjust="spacingAndGlyphs">92.73%</text>
</svg></body></html>
